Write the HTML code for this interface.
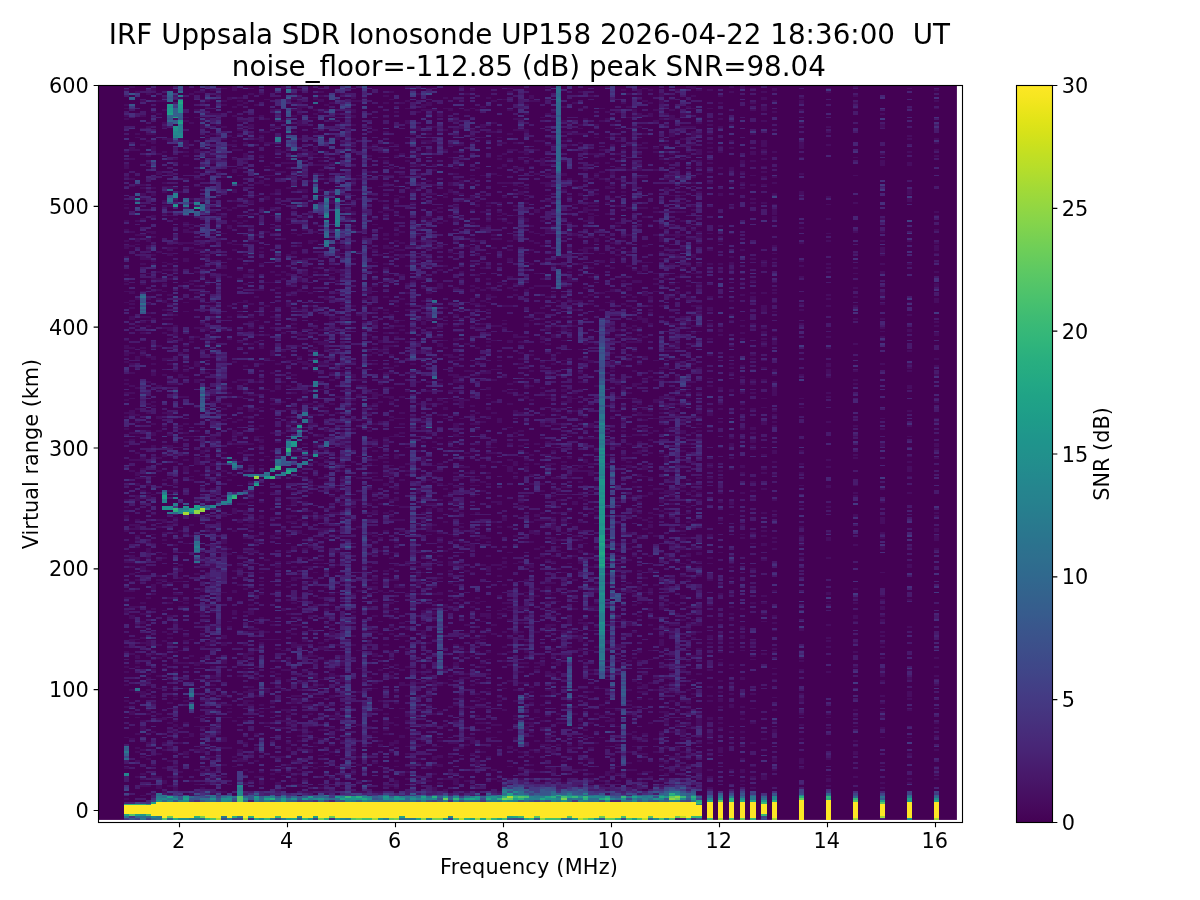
<!DOCTYPE html>
<html><head><meta charset="utf-8"><title>IRF Uppsala SDR Ionosonde</title>
<style>
html,body{margin:0;padding:0;background:#fff;}
body{width:1200px;height:900px;overflow:hidden;position:relative;font-family:"DejaVu Sans","Liberation Sans",sans-serif;}
svg{position:absolute;left:0;top:0;}
text{font-family:"DejaVu Sans","Liberation Sans",sans-serif;fill:#000;}
.t{font-size:27.78px;text-anchor:middle;}
.k{font-size:20.83px;}
</style></head><body>
<svg width="1200" height="900" viewBox="0 0 1200 900">
<rect width="1200" height="900" fill="#fff"/>
<rect x="98.5" y="85.5" width="858.4" height="734.4" fill="#440154"/>
<defs><clipPath id="dc"><rect x="-1" y="0" width="156" height="405.186"/></clipPath></defs>
<g transform="translate(126.70,819.90) scale(5.4000,-1.8125)" fill="none" stroke-width="1" shape-rendering="crispEdges" clip-path="url(#dc)">
<path stroke="#470d60" d="M0 11v1M0 28v1M0 45v1M0 62v1M0 65v1M0 74v1M0 81v1M0 84v1M0 92v1M0 95v1M0 114v2M0 120v1M0 122v1M0 126v1M0 142v1M0 159v1M0 166v2M0 172v1M0 176v1M0 184v1M0 208v1M0 215v1M0 222v1M0 224v1M0 231v1M0 235v1M0 240v1M0 242v1M0 252v1M0 256v2M0 260v2M0 264v1M0 285v1M0 291v1M0 295v1M0 297v1M0 300v1M0 310v1M0 315v2M0 319v1M0 325v1M0 330v1M0 337v1M0 339v1M0 354v1M0 359v3M0 368v1M0 386v1M0 388v1M0 392v1M0 394v1M0 402v1M1 44v1M1 58v2M1 71v1M1 91v1M1 98v2M1 111v2M1 117v1M1 122v1M1 126v1M1 131v1M1 135v1M1 139v1M1 142v1M1 144v2M1 160v1M1 162v1M1 192v1M1 198v1M1 209v1M1 213v1M1 223v3M1 232v1M1 235v1M1 239v1M1 246v1M1 251v1M1 257v1M1 260v1M1 276v2M1 282v1M1 284v1M1 286v1M1 290v2M1 316v1M1 324v1M1 349v1M1 353v1M1 364v1M1 369v2M1 404v2M2 23v1M2 32v1M2 37v1M2 39v1M2 47v1M2 56v1M2 70v1M2 84v1M2 86v1M2 89v2M2 99v1M2 107v1M2 117v1M2 132v1M2 141v1M2 143v2M2 150v1M2 154v1M2 156v1M2 160v3M2 165v1M2 176v3M2 184v2M2 188v1M2 190v2M2 198v1M2 202v1M2 211v1M2 213v1M2 219v1M2 221v1M2 223v1M2 226v1M2 238v1M2 254v2M2 272v1M2 287v1M2 317v1M2 319v2M2 322v1M2 330v1M2 350v1M2 369v1M2 376v1M2 378v1M2 401v1M3 13v1M3 18v1M3 22v1M3 25v1M3 34v1M3 38v1M3 49v3M3 54v1M3 67v1M3 69v2M3 97v1M3 100v1M3 108v2M3 113v1M3 119v1M3 131v1M3 138v2M3 141v1M3 152v1M3 163v1M3 181v1M3 188v1M3 193v1M3 198v2M3 256v1M3 258v1M3 260v1M3 268v1M3 274v1M3 277v1M3 291v1M3 295v1M3 306v1M3 309v2M3 312v1M3 322v1M3 331v1M3 342v1M3 344v2M3 348v1M3 350v1M3 372v1M3 381v1M3 388v1M3 396v1M4 18v1M4 33v1M4 42v1M4 58v1M4 60v1M4 67v1M4 71v1M4 74v1M4 76v1M4 78v1M4 80v1M4 90v1M4 93v1M4 96v3M4 113v1M4 115v1M4 122v1M4 137v1M4 144v1M4 147v3M4 153v1M4 177v2M4 180v1M4 184v2M4 214v1M4 224v1M4 229v1M4 237v1M4 241v1M4 255v1M4 272v1M4 275v1M4 277v1M4 279v1M4 284v1M4 287v1M4 301v1M4 309v1M4 314v1M4 316v1M4 319v2M4 324v1M4 347v1M4 360v1M4 362v1M4 366v1M4 374v1M4 378v1M4 382v1M4 400v1M5 14v1M5 23v2M5 30v1M5 35v1M5 48v1M5 64v1M5 68v1M5 82v1M5 88v1M5 91v1M5 93v1M5 103v1M5 116v1M5 124v1M5 127v3M5 152v1M5 157v1M5 168v1M5 179v1M5 189v1M5 200v1M5 205v2M5 212v2M5 218v1M5 228v1M5 230v1M5 245v2M5 248v1M5 251v1M5 254v2M5 260v1M5 276v1M5 291v1M5 296v1M5 298v1M5 306v1M5 308v1M5 311v1M5 317v1M5 321v1M5 323v2M5 332v2M5 344v2M5 348v1M5 369v3M5 373v2M5 378v1M5 390v1M5 402v2M6 17v2M6 23v1M6 36v1M6 55v1M6 58v1M6 72v1M6 79v1M6 89v1M6 96v1M6 130v1M6 132v1M6 134v1M6 143v1M6 161v1M6 165v1M6 192v1M6 199v1M6 214v1M6 221v2M6 239v1M6 261v1M6 287v1M6 292v1M6 298v1M6 302v1M6 313v1M6 356v2M6 367v1M6 389v1M6 396v1M7 15v1M7 20v2M7 28v1M7 38v1M7 42v1M7 55v2M7 72v1M7 83v1M7 90v1M7 98v1M7 103v1M7 115v1M7 128v1M7 132v1M7 144v1M7 146v1M7 152v1M7 154v1M7 158v1M7 164v2M7 184v1M7 187v1M7 200v2M7 206v1M7 217v1M7 224v1M7 245v1M7 253v2M7 268v1M7 271v1M7 276v1M7 281v1M7 285v2M7 291v1M7 295v1M7 303v1M7 307v1M7 334v1M7 338v1M7 341v1M7 346v1M7 349v1M7 351v1M7 368v1M7 375v1M7 382v1M7 384v1M7 391v1M7 396v1M7 398v1M8 14v1M8 18v1M8 23v1M8 32v1M8 39v2M8 49v1M8 53v1M8 64v1M8 72v1M8 77v1M8 94v1M8 96v1M8 100v1M8 102v1M8 112v1M8 119v1M8 122v1M8 130v1M8 162v1M8 168v1M8 181v1M8 188v1M8 202v1M8 205v2M8 212v1M8 221v1M8 223v2M8 240v1M8 242v1M8 251v1M8 254v1M8 264v2M8 270v2M8 276v1M8 279v1M8 284v1M8 289v1M8 298v1M8 303v1M8 306v1M8 311v2M8 314v2M8 317v1M8 333v1M8 338v1M8 348v2M8 356v1M8 374v2M9 16v2M9 22v1M9 28v1M9 30v1M9 37v1M9 44v1M9 48v1M9 51v2M9 54v1M9 66v1M9 68v1M9 76v1M9 81v1M9 83v1M9 86v1M9 92v1M9 104v1M9 108v2M9 124v1M9 131v1M9 139v1M9 151v1M9 158v1M9 163v2M9 166v1M9 181v1M9 185v1M9 197v1M9 201v1M9 221v1M9 240v1M9 243v1M9 247v1M9 267v2M9 272v1M9 278v1M9 283v1M9 302v1M9 304v1M9 307v1M9 315v1M9 319v1M9 331v1M9 341v1M9 348v1M9 364v1M9 386v1M9 405v1M10 23v1M10 26v1M10 42v1M10 50v1M10 86v1M10 93v1M10 105v1M10 117v1M10 120v1M10 124v1M10 131v1M10 133v1M10 137v2M10 140v1M10 155v1M10 159v1M10 205v1M10 215v1M10 217v1M10 233v1M10 244v2M10 257v1M10 264v2M10 317v2M10 346v1M10 375v1M10 398v1M11 36v2M11 45v1M11 53v1M11 65v1M11 67v1M11 72v1M11 86v1M11 95v1M11 98v1M11 101v1M11 117v1M11 119v1M11 121v1M11 147v1M11 152v1M11 158v1M11 192v3M11 198v1M11 201v1M11 211v1M11 213v1M11 218v1M11 233v1M11 244v1M11 247v1M11 250v1M11 253v1M11 261v1M11 280v1M11 285v1M11 296v1M11 308v2M11 318v1M11 324v2M11 327v1M11 329v1M11 348v1M11 353v1M11 361v1M11 366v1M11 368v1M11 371v4M11 385v1M11 387v1M12 13v2M12 21v1M12 46v2M12 90v1M12 99v1M12 156v1M12 162v1M12 187v1M12 189v1M12 211v1M12 263v1M12 265v1M12 287v1M12 295v1M12 297v1M12 315v1M12 318v1M12 324v1M12 326v1M12 328v1M12 333v1M12 342v1M12 384v1M12 400v1M13 19v1M13 27v1M13 38v1M13 51v1M13 56v1M13 85v2M13 114v1M13 125v1M13 135v1M13 141v1M13 157v1M13 167v1M13 176v1M13 192v1M13 196v4M13 214v1M13 227v1M13 241v2M13 250v3M13 266v1M13 271v1M13 287v1M13 290v1M13 294v1M13 302v1M13 312v1M13 314v1M13 318v1M13 349v1M13 353v1M13 357v1M13 368v2M13 387v1M13 391v1M13 401v1M14 17v1M14 26v1M14 28v1M14 37v3M14 46v1M14 50v2M14 57v1M14 65v1M14 86v1M14 89v1M14 95v1M14 101v1M14 104v1M14 113v2M14 126v2M14 131v1M14 139v1M14 142v1M14 144v3M14 164v1M14 176v1M14 178v1M14 183v1M14 190v1M14 202v2M14 205v1M14 259v1M14 271v1M14 273v1M14 285v1M14 290v1M14 300v1M14 305v1M14 311v1M14 314v1M14 316v2M14 327v1M14 343v1M14 349v1M14 353v1M14 363v1M14 381v3M14 385v1M14 395v1M14 397v1M14 401v1M15 19v2M15 23v1M15 26v1M15 28v2M15 34v1M15 47v1M15 62v1M15 76v1M15 96v2M15 107v1M15 116v1M15 136v1M15 139v1M15 160v1M15 167v1M15 175v1M15 189v1M15 191v1M15 198v2M15 204v2M15 226v1M15 231v1M15 233v1M15 246v1M15 264v1M15 270v2M15 290v1M15 295v1M15 297v1M15 301v1M15 303v1M15 310v1M15 313v1M15 318v1M15 349v1M15 366v2M15 375v1M15 377v1M15 386v2M15 389v1M15 393v1M15 396v1M16 14v1M16 22v1M16 26v1M16 34v1M16 39v1M16 43v1M16 45v1M16 51v1M16 56v1M16 58v1M16 65v1M16 72v1M16 74v1M16 78v2M16 83v2M16 88v1M16 97v1M16 99v2M16 105v2M16 114v1M16 131v1M16 139v2M16 158v2M16 165v1M16 179v1M16 182v1M16 186v1M16 191v2M16 195v2M16 198v1M16 205v1M16 209v3M16 220v1M16 230v1M16 234v1M16 255v1M16 263v1M16 268v1M16 276v1M16 283v1M16 285v1M16 299v1M16 308v1M16 324v1M16 335v1M16 341v1M16 362v2M16 366v1M16 368v1M16 378v1M16 389v1M16 397v1M16 402v1M17 20v1M17 23v1M17 36v2M17 47v1M17 49v1M17 53v1M17 60v1M17 64v1M17 77v2M17 99v1M17 138v1M17 143v1M17 148v2M17 151v1M17 164v1M17 188v2M17 202v1M17 209v1M17 211v1M17 224v1M17 252v1M17 259v1M17 276v1M17 278v1M17 282v1M17 301v1M17 319v1M17 334v1M17 343v1M17 345v1M17 352v1M17 357v1M17 377v1M17 383v1M17 389v1M17 400v1M18 15v1M18 23v1M18 30v1M18 39v1M18 43v3M18 56v1M18 63v1M18 68v1M18 86v2M18 96v2M18 100v2M18 125v1M18 148v1M18 150v1M18 152v3M18 167v2M18 189v1M18 192v1M18 202v1M18 220v1M18 226v1M18 229v1M18 232v1M18 236v1M18 242v1M18 252v1M18 270v1M18 300v1M18 304v2M18 323v1M18 332v2M18 337v1M18 354v1M18 364v1M18 375v1M18 382v1M18 394v1M18 396v1M18 403v1M19 19v1M19 39v1M19 56v1M19 59v1M19 61v1M19 63v1M19 67v1M19 106v1M19 109v1M19 146v1M19 149v1M19 187v1M19 208v1M19 229v1M19 235v1M19 238v1M19 265v1M19 271v1M19 277v1M19 283v1M19 299v1M19 309v1M19 318v1M19 326v2M19 336v1M19 372v1M19 377v1M19 397v2M19 405v1M20 13v1M20 29v1M20 34v1M20 54v1M20 113v3M20 125v2M20 137v1M20 159v1M20 169v3M20 190v1M20 198v1M20 207v1M20 210v1M20 212v3M20 219v1M20 241v1M20 252v1M20 314v1M20 317v1M20 330v1M20 337v1M20 341v1M20 346v2M20 357v2M20 364v1M20 369v1M20 372v1M20 374v1M20 376v1M20 388v1M20 393v1M20 402v4M21 32v2M21 37v2M21 56v1M21 79v1M21 104v1M21 129v1M21 134v1M21 138v1M21 140v1M21 145v1M21 164v2M21 174v1M21 197v1M21 202v1M21 205v1M21 207v1M21 212v1M21 220v1M21 226v2M21 233v1M21 242v1M21 263v1M21 270v1M21 278v1M21 285v1M21 298v1M21 303v1M21 309v1M21 317v1M21 329v1M21 332v1M21 339v1M21 350v1M21 355v1M21 359v1M21 369v1M21 378v1M21 380v1M21 382v1M21 385v1M21 394v1M21 396v1M21 398v1M21 405v1M22 20v1M22 27v1M22 32v1M22 42v1M22 54v1M22 63v3M22 68v1M22 70v1M22 80v1M22 83v1M22 89v3M22 96v1M22 114v1M22 127v1M22 139v1M22 148v1M22 152v1M22 155v1M22 162v1M22 166v1M22 169v2M22 174v1M22 200v1M22 203v1M22 207v1M22 211v1M22 222v1M22 236v1M22 240v1M22 242v1M22 250v1M22 264v1M22 285v2M22 295v1M22 299v2M22 306v1M22 311v1M22 322v1M22 330v1M22 342v1M22 360v1M22 363v1M22 365v3M22 373v1M22 385v1M22 395v1M23 21v1M23 26v1M23 36v1M23 63v1M23 65v1M23 70v2M23 73v1M23 91v2M23 103v1M23 105v1M23 113v3M23 118v1M23 147v2M23 152v1M23 161v2M23 164v1M23 175v1M23 177v1M23 180v1M23 186v1M23 194v1M23 198v1M23 207v1M23 221v1M23 225v2M23 232v1M23 234v1M23 237v1M23 253v1M23 259v1M23 262v1M23 269v1M23 271v1M23 274v1M23 277v1M23 284v1M23 300v1M23 302v1M23 311v1M23 319v1M23 323v2M23 326v1M23 334v1M23 340v2M23 376v1M23 378v1M23 382v2M23 400v1M23 403v1M24 23v1M24 32v1M24 38v2M24 47v1M24 60v1M24 68v1M24 71v1M24 77v2M24 81v1M24 84v1M24 94v1M24 103v1M24 105v1M24 108v1M24 148v1M24 153v1M24 156v1M24 165v1M24 205v1M24 210v2M24 215v1M24 226v1M24 234v1M24 241v1M24 253v1M24 263v1M24 267v1M24 275v1M24 288v1M24 292v1M24 319v1M24 322v1M24 344v1M24 351v1M24 354v1M24 375v1M24 387v1M24 394v1M25 19v3M25 23v1M25 26v1M25 45v1M25 59v1M25 63v1M25 97v1M25 99v1M25 104v1M25 111v1M25 124v1M25 127v1M25 131v1M25 136v1M25 153v1M25 161v1M25 164v1M25 166v2M25 175v1M25 180v1M25 192v1M25 195v1M25 206v1M25 208v2M25 211v1M25 217v1M25 221v1M25 227v1M25 231v1M25 242v1M25 251v1M25 260v2M25 272v1M25 279v1M25 292v1M25 306v1M25 313v1M25 315v1M25 337v1M25 351v2M25 366v1M25 374v2M25 377v1M25 379v1M25 388v1M25 400v1M26 53v1M26 61v1M26 70v2M26 99v1M26 103v1M26 143v1M26 200v1M26 237v1M26 254v1M26 267v1M26 283v1M26 296v1M26 324v1M26 342v2M26 350v1M26 355v1M26 360v1M26 373v1M26 379v1M26 386v1M26 397v1M27 22v1M27 25v1M27 43v1M27 59v1M27 64v1M27 72v1M27 81v1M27 99v1M27 107v1M27 109v1M27 155v2M27 163v1M27 166v1M27 171v1M27 180v1M27 198v1M27 203v1M27 213v1M27 226v1M27 229v1M27 231v1M27 236v1M27 246v1M27 253v1M27 256v3M27 271v1M27 277v1M27 280v1M27 296v1M27 302v1M27 323v1M27 326v1M27 333v1M27 337v1M27 345v1M27 355v1M27 358v1M27 362v1M27 373v1M27 382v1M27 391v1M28 16v1M28 19v2M28 26v1M28 34v1M28 50v1M28 72v1M28 74v1M28 77v2M28 80v1M28 83v1M28 87v1M28 94v1M28 99v1M28 126v1M28 139v2M28 142v1M28 157v2M28 163v1M28 175v1M28 192v1M28 201v1M28 208v1M28 229v1M28 232v1M28 237v3M28 251v1M28 276v1M28 293v1M28 300v1M28 310v1M28 317v1M28 326v1M28 336v1M28 341v1M28 346v2M28 357v1M28 368v2M28 382v1M29 24v1M29 28v1M29 34v1M29 50v1M29 54v1M29 60v1M29 71v1M29 82v1M29 93v1M29 115v2M29 160v1M29 192v1M29 205v1M29 213v1M29 230v1M29 241v1M29 255v1M29 258v1M29 268v1M29 298v1M29 302v1M29 320v1M29 357v1M29 362v1M29 368v1M29 385v1M29 403v2M30 26v1M30 30v1M30 38v2M30 42v1M30 52v1M30 54v1M30 56v2M30 59v2M30 76v2M30 82v1M30 87v2M30 103v1M30 113v1M30 121v1M30 128v1M30 131v1M30 136v1M30 142v1M30 148v1M30 156v1M30 164v1M30 166v2M30 173v1M30 182v1M30 215v2M30 218v2M30 222v1M30 226v1M30 239v1M30 253v1M30 260v1M30 283v3M30 290v1M30 294v1M30 300v2M30 311v1M30 328v1M30 331v1M30 348v1M30 354v2M30 359v1M30 362v1M30 364v1M30 370v1M30 375v1M30 378v1M31 19v1M31 21v2M31 24v1M31 32v1M31 50v1M31 53v1M31 62v1M31 64v2M31 68v1M31 95v3M31 102v1M31 107v1M31 116v1M31 119v1M31 132v2M31 139v1M31 149v2M31 164v1M31 167v1M31 174v3M31 189v1M31 198v1M31 204v2M31 218v1M31 220v1M31 226v1M31 235v1M31 238v1M31 243v1M31 245v1M31 253v1M31 271v1M31 273v1M31 281v1M31 285v1M31 289v1M31 291v1M31 295v1M31 303v1M31 312v2M31 323v1M31 355v1M31 362v1M31 379v1M31 388v1M31 391v1M31 395v1M31 397v2M31 400v1M32 18v2M32 25v1M32 27v1M32 39v1M32 43v1M32 46v1M32 49v1M32 65v2M32 68v1M32 71v1M32 75v1M32 79v1M32 96v1M32 107v1M32 111v1M32 117v1M32 122v1M32 133v1M32 135v1M32 141v1M32 158v2M32 165v1M32 183v1M32 192v1M32 199v1M32 225v1M32 232v1M32 252v1M32 255v1M32 261v1M32 267v2M32 281v1M32 291v2M32 297v2M32 316v1M32 322v1M32 347v1M32 353v1M32 356v1M32 365v1M32 369v1M32 375v1M32 383v3M32 389v1M32 391v3M32 395v2M32 398v1M32 402v1M32 405v1M33 15v1M33 22v1M33 30v1M33 40v1M33 47v1M33 50v1M33 63v1M33 67v1M33 76v1M33 81v1M33 90v1M33 96v1M33 98v2M33 109v1M33 121v1M33 129v1M33 139v1M33 144v1M33 149v1M33 151v1M33 157v1M33 164v1M33 175v1M33 182v1M33 189v1M33 207v1M33 222v1M33 229v1M33 231v2M33 235v2M33 248v1M33 251v2M33 267v1M33 279v1M33 282v1M33 291v1M33 296v1M33 300v3M33 309v1M33 312v1M33 325v1M33 331v2M33 342v1M33 346v2M33 349v1M33 368v1M33 383v1M33 393v1M34 15v1M34 37v2M34 48v1M34 51v1M34 58v1M34 63v1M34 65v1M34 69v1M34 72v2M34 79v1M34 83v1M34 90v2M34 105v1M34 112v1M34 126v1M34 131v1M34 139v1M34 150v1M34 153v1M34 167v1M34 170v1M34 180v1M34 183v1M34 185v1M34 187v1M34 201v1M34 218v1M34 221v1M34 223v1M34 229v1M34 250v2M34 254v1M34 259v1M34 267v1M34 280v1M34 283v1M34 285v1M34 290v1M34 299v1M34 318v2M34 334v1M34 352v1M34 366v3M34 387v1M34 405v1M35 28v1M35 31v1M35 40v1M35 42v1M35 45v1M35 51v1M35 54v1M35 62v1M35 67v1M35 73v1M35 75v1M35 78v2M35 86v1M35 90v1M35 103v1M35 118v1M35 132v1M35 136v1M35 143v1M35 154v1M35 165v1M35 168v1M35 184v1M35 197v1M35 205v3M35 211v1M35 218v1M35 223v1M35 228v1M35 247v1M35 260v1M35 263v1M35 271v1M35 275v1M35 282v1M35 302v1M35 304v1M35 319v1M35 324v1M35 328v1M35 361v1M35 367v1M35 369v2M35 379v1M35 387v1M35 389v1M35 391v1M35 397v2M36 17v1M36 29v1M36 35v1M36 44v1M36 49v1M36 57v1M36 67v1M36 74v1M36 77v1M36 88v1M36 94v2M36 97v1M36 122v1M36 139v1M36 141v1M36 143v1M36 149v1M36 152v1M36 159v2M36 166v2M36 184v1M36 188v1M36 195v2M36 199v1M36 201v1M36 204v1M36 207v1M36 211v2M36 216v1M36 227v1M36 229v1M36 237v1M36 251v2M36 255v1M36 262v2M36 270v1M36 298v1M36 310v2M36 347v1M36 356v1M36 358v1M36 361v1M36 363v1M36 365v1M36 390v1M36 396v2M36 399v1M36 401v1M37 14v1M37 16v1M37 19v1M37 36v1M37 56v1M37 63v1M37 85v1M37 87v1M37 94v1M37 98v1M37 111v1M37 115v2M37 119v1M37 125v1M37 128v1M37 136v1M37 155v1M37 160v1M37 162v1M37 167v1M37 184v1M37 186v1M37 188v1M37 190v1M37 198v1M37 204v1M37 209v1M37 214v2M37 224v1M37 227v1M37 251v1M37 259v2M37 262v2M37 265v1M37 287v2M37 298v1M37 302v1M37 315v1M37 331v1M37 353v1M37 361v1M37 366v1M37 371v1M37 374v1M37 391v1M37 394v1M37 405v1M38 22v1M38 37v1M38 41v1M38 46v1M38 50v1M38 57v1M38 67v2M38 79v2M38 82v2M38 88v1M38 99v2M38 102v2M38 107v1M38 115v1M38 118v1M38 124v1M38 139v1M38 157v1M38 165v1M38 169v1M38 171v1M38 173v1M38 178v1M38 182v1M38 211v1M38 219v1M38 229v1M38 242v1M38 246v1M38 248v1M38 251v1M38 258v1M38 268v1M38 270v1M38 274v1M38 276v2M38 287v1M38 299v1M38 301v1M38 303v2M38 307v1M38 316v1M38 322v1M38 340v2M38 344v2M38 347v1M38 354v1M38 358v1M38 362v1M38 365v1M38 376v1M38 385v1M38 395v1M39 21v1M39 28v1M39 35v1M39 49v1M39 55v3M39 59v1M39 74v1M39 76v1M39 79v1M39 84v1M39 88v1M39 93v1M39 96v1M39 125v1M39 128v1M39 136v1M39 140v1M39 147v2M39 156v1M39 159v1M39 169v1M39 181v2M39 193v1M39 196v1M39 199v1M39 208v1M39 224v1M39 227v1M39 233v1M39 271v1M39 277v1M39 290v1M39 297v1M39 302v2M39 311v3M39 318v1M39 375v2M39 381v1M39 389v1M39 397v1M40 17v1M40 23v2M40 39v1M40 43v1M40 50v2M40 55v1M40 63v1M40 71v1M40 74v1M40 76v3M40 83v1M40 85v2M40 89v2M40 96v1M40 104v1M40 121v1M40 136v1M40 144v1M40 149v1M40 165v1M40 170v1M40 174v2M40 179v1M40 183v1M40 186v1M40 188v2M40 192v1M40 196v1M40 206v1M40 209v1M40 231v1M40 233v1M40 246v1M40 248v1M40 250v1M40 258v1M40 262v1M40 266v1M40 275v1M40 284v1M40 299v1M40 301v2M40 310v1M40 315v2M40 336v2M40 344v1M40 348v1M40 371v1M40 373v1M40 384v1M40 400v1M41 33v1M41 45v1M41 63v1M41 107v1M41 115v1M41 141v1M41 166v1M41 172v1M41 178v1M41 207v1M41 209v1M41 226v2M41 238v1M41 270v1M41 277v1M41 279v1M41 314v1M41 332v1M41 335v2M41 340v1M41 382v1M41 392v1M42 15v1M42 25v1M42 27v1M42 36v2M42 39v1M42 61v1M42 88v1M42 96v1M42 101v1M42 109v2M42 112v1M42 114v1M42 116v1M42 120v1M42 124v1M42 157v1M42 165v1M42 172v1M42 176v1M42 189v1M42 197v1M42 215v1M42 220v1M42 229v1M42 231v1M42 244v2M42 252v1M42 283v1M42 309v1M42 325v1M42 327v1M42 331v1M42 335v1M42 338v1M42 347v1M42 350v1M42 352v1M42 360v1M42 372v1M42 375v1M42 383v1M42 387v2M42 390v2M42 396v1M42 398v1M42 405v1M43 15v1M43 21v1M43 30v1M43 34v1M43 52v1M43 70v1M43 83v1M43 93v1M43 126v1M43 161v1M43 176v1M43 188v1M43 200v1M43 234v1M43 239v1M43 242v1M43 249v1M43 278v1M43 313v1M43 342v1M43 347v1M43 353v1M43 355v1M43 396v1M44 15v1M44 19v1M44 29v1M44 76v1M44 78v1M44 103v1M44 123v1M44 137v1M44 140v1M44 173v1M44 206v1M44 220v1M44 232v1M44 239v1M44 242v1M44 270v1M44 274v1M44 287v1M44 291v1M44 301v1M44 321v1M44 344v1M44 398v1M45 35v1M45 40v1M45 44v1M45 51v1M45 59v1M45 71v1M45 78v1M45 94v1M45 97v1M45 103v1M45 117v1M45 128v1M45 135v1M45 139v1M45 147v1M45 154v1M45 157v2M45 169v1M45 174v1M45 182v1M45 196v1M45 199v1M45 210v1M45 214v1M45 224v1M45 227v2M45 235v1M45 237v1M45 253v1M45 256v1M45 258v1M45 267v1M45 287v2M45 290v4M45 315v1M45 317v1M45 333v1M45 357v1M45 360v1M45 366v1M45 370v2M45 382v1M46 15v1M46 31v1M46 35v1M46 48v1M46 60v1M46 72v1M46 75v1M46 90v2M46 103v1M46 105v1M46 112v1M46 121v1M46 127v2M46 130v1M46 132v2M46 146v1M46 152v1M46 156v1M46 169v2M46 176v1M46 180v1M46 187v1M46 189v1M46 191v1M46 195v1M46 198v1M46 203v1M46 206v1M46 209v1M46 218v1M46 226v1M46 229v1M46 233v3M46 251v1M46 257v1M46 260v1M46 265v1M46 273v2M46 281v2M46 294v1M46 302v1M46 307v1M46 314v1M46 328v1M46 331v1M46 344v1M46 370v1M46 372v1M46 380v1M47 15v1M47 41v1M47 43v1M47 60v1M47 65v1M47 82v1M47 102v1M47 109v1M47 126v1M47 148v1M47 155v1M47 174v1M47 187v1M47 199v1M47 219v1M47 230v1M47 234v1M47 240v1M47 242v1M47 248v1M47 258v2M47 263v2M47 311v1M47 326v1M47 335v1M47 341v1M47 349v1M47 365v1M47 368v1M48 18v1M48 27v1M48 47v1M48 49v1M48 52v3M48 58v1M48 64v1M48 85v1M48 96v1M48 113v1M48 116v1M48 119v1M48 125v1M48 133v1M48 137v1M48 147v1M48 149v1M48 159v1M48 169v1M48 173v1M48 177v1M48 184v2M48 190v2M48 193v1M48 197v1M48 199v1M48 207v2M48 210v1M48 233v1M48 242v1M48 246v1M48 258v1M48 260v2M48 268v1M48 279v1M48 281v1M48 288v1M48 295v1M48 300v2M48 304v1M48 306v1M48 315v2M48 320v1M48 322v2M48 332v1M48 334v1M48 336v1M48 338v2M48 345v1M48 349v1M48 351v1M48 355v1M48 363v1M48 370v1M48 379v1M48 387v1M48 395v1M48 399v1M49 18v1M49 37v1M49 41v2M49 53v1M49 78v2M49 81v1M49 89v1M49 92v1M49 102v1M49 106v1M49 111v1M49 115v1M49 119v1M49 132v1M49 138v1M49 144v1M49 147v1M49 165v1M49 167v1M49 170v1M49 176v1M49 187v1M49 190v1M49 192v1M49 195v1M49 211v1M49 220v1M49 222v1M49 230v1M49 232v2M49 238v1M49 246v1M49 249v1M49 256v1M49 261v1M49 271v1M49 278v1M49 310v1M49 313v1M49 315v1M49 336v1M49 355v1M49 359v1M49 373v1M49 397v1M49 401v1M50 17v1M50 20v2M50 29v1M50 32v1M50 42v2M50 52v1M50 56v1M50 64v1M50 70v1M50 85v1M50 114v1M50 128v2M50 132v1M50 140v1M50 147v1M50 151v1M50 153v1M50 157v1M50 165v1M50 173v1M50 176v2M50 182v2M50 199v3M50 211v2M50 221v1M50 250v1M50 252v1M50 263v1M50 266v1M50 268v1M50 272v1M50 274v1M50 283v1M50 285v1M50 314v1M50 319v1M50 322v2M50 326v1M50 334v1M50 340v1M50 342v1M50 344v1M50 366v1M50 369v1M50 372v1M50 390v1M51 24v2M51 45v2M51 61v1M51 74v2M51 82v1M51 101v1M51 108v1M51 128v1M51 159v1M51 165v1M51 172v1M51 187v1M51 194v1M51 213v1M51 218v1M51 221v1M51 224v1M51 233v1M51 270v1M51 272v1M51 275v1M51 287v1M51 300v1M51 310v2M51 314v1M51 318v1M51 324v1M51 332v1M51 343v1M51 354v1M51 356v1M51 367v1M51 395v1M52 22v1M52 26v1M52 29v1M52 36v1M52 40v1M52 50v1M52 54v1M52 57v2M52 68v1M52 74v1M52 84v1M52 94v1M52 98v1M52 101v1M52 105v2M52 124v1M52 140v1M52 142v1M52 172v1M52 190v1M52 192v1M52 196v1M52 205v1M52 236v1M52 256v1M52 263v1M52 268v1M52 281v1M52 284v1M52 290v1M52 295v1M52 305v1M52 316v1M52 363v1M52 384v2M52 392v1M52 396v1M52 404v1M53 18v1M53 20v1M53 23v1M53 29v1M53 32v2M53 44v1M53 46v1M53 76v1M53 87v1M53 91v1M53 94v1M53 127v2M53 158v1M53 163v1M53 179v1M53 205v1M53 222v1M53 246v1M53 251v1M53 271v1M53 297v1M53 316v1M53 338v1M53 340v1M53 346v2M53 361v1M53 367v1M53 369v1M53 376v1M53 380v1M53 402v1M53 404v1M54 24v1M54 31v1M54 33v1M54 41v1M54 45v1M54 62v1M54 68v1M54 75v1M54 81v1M54 104v1M54 124v1M54 129v3M54 134v2M54 137v1M54 139v1M54 142v1M54 148v1M54 162v1M54 177v1M54 180v2M54 203v1M54 216v1M54 219v1M54 229v1M54 232v1M54 241v1M54 257v2M54 263v1M54 280v1M54 298v1M54 304v1M54 308v1M54 319v1M54 322v1M54 326v1M54 348v1M54 351v1M54 355v2M54 360v2M54 366v2M54 380v3M54 390v1M54 400v1M55 30v1M55 41v1M55 43v1M55 50v2M55 58v1M55 60v1M55 67v1M55 75v1M55 80v1M55 83v1M55 96v1M55 102v3M55 108v1M55 114v2M55 119v1M55 125v1M55 136v1M55 139v1M55 145v1M55 147v1M55 161v1M55 165v1M55 169v1M55 173v2M55 178v1M55 186v1M55 190v1M55 198v3M55 205v1M55 208v1M55 215v2M55 220v1M55 252v1M55 269v1M55 273v2M55 276v2M55 283v1M55 286v1M55 293v1M55 298v2M55 309v2M55 312v1M55 317v2M55 326v1M55 329v1M55 331v2M55 355v1M55 374v1M55 391v1M55 393v2M56 21v1M56 28v2M56 61v1M56 63v1M56 68v1M56 71v2M56 76v1M56 79v1M56 82v1M56 88v1M56 90v1M56 97v1M56 101v1M56 116v1M56 125v1M56 128v1M56 139v1M56 142v1M56 157v1M56 159v3M56 166v1M56 170v2M56 174v1M56 187v1M56 211v1M56 213v1M56 215v1M56 222v1M56 229v1M56 236v1M56 241v1M56 252v1M56 258v1M56 271v1M56 276v1M56 280v1M56 290v2M56 305v1M56 309v1M56 315v1M56 320v1M56 330v1M56 332v1M56 345v1M56 352v1M56 368v2M56 373v2M56 378v1M56 387v1M56 391v1M56 394v2M56 403v1M57 16v2M57 25v1M57 30v1M57 33v2M57 40v1M57 58v1M57 73v1M57 75v2M57 99v1M57 110v1M57 113v2M57 120v1M57 124v1M57 128v1M57 132v1M57 159v1M57 162v1M57 172v1M57 174v1M57 186v1M57 189v1M57 192v1M57 195v1M57 205v1M57 208v1M57 255v1M57 266v1M57 276v1M57 292v1M57 297v1M57 301v1M57 308v1M57 317v1M57 336v1M57 342v1M57 345v1M57 350v1M57 358v1M57 361v1M57 375v1M57 382v1M57 391v1M58 20v1M58 29v2M58 34v2M58 40v1M58 43v1M58 59v1M58 74v1M58 117v1M58 121v1M58 124v2M58 133v1M58 142v1M58 145v1M58 153v1M58 155v1M58 158v1M58 170v2M58 176v1M58 185v1M58 192v1M58 196v1M58 210v1M58 223v1M58 229v1M58 231v1M58 240v1M58 242v1M58 261v2M58 266v1M58 271v1M58 293v3M58 303v1M58 308v1M58 315v1M58 317v1M58 329v1M58 335v1M58 337v1M58 379v1M58 388v2M59 16v1M59 22v1M59 51v2M59 75v1M59 82v1M59 84v1M59 106v1M59 117v2M59 148v1M59 164v1M59 178v1M59 182v1M59 184v1M59 221v1M59 226v2M59 230v1M59 256v1M59 260v1M59 264v1M59 273v1M59 277v1M59 282v1M59 305v1M59 330v1M59 343v1M59 345v1M59 360v1M59 369v1M59 380v1M59 392v1M59 398v1M60 22v1M60 26v1M60 34v1M60 42v1M60 62v1M60 77v1M60 79v1M60 83v1M60 116v1M60 121v1M60 130v1M60 134v1M60 137v1M60 140v3M60 149v1M60 157v1M60 175v1M60 180v1M60 185v1M60 208v1M60 232v1M60 236v1M60 245v1M60 248v1M60 253v1M60 255v2M60 285v1M60 313v1M60 332v1M60 346v2M60 350v2M60 365v1M60 372v1M60 391v2M61 19v4M61 39v1M61 42v1M61 54v1M61 63v1M61 80v1M61 85v2M61 88v1M61 94v1M61 96v1M61 117v1M61 122v1M61 125v1M61 129v1M61 140v1M61 154v1M61 156v1M61 171v1M61 174v2M61 183v1M61 188v1M61 191v1M61 205v1M61 211v2M61 216v3M61 231v1M61 236v1M61 241v2M61 244v2M61 250v1M61 253v1M61 255v1M61 261v1M61 264v2M61 269v1M61 272v1M61 278v1M61 293v1M61 319v1M61 330v2M61 338v1M61 345v1M61 353v1M61 356v1M61 359v1M61 361v1M61 364v1M61 368v1M61 372v1M61 377v1M61 380v2M61 385v1M61 387v1M61 397v1M62 14v1M62 39v1M62 61v1M62 67v2M62 74v1M62 78v1M62 90v2M62 95v1M62 101v1M62 111v1M62 121v1M62 131v1M62 138v1M62 140v1M62 153v1M62 159v1M62 161v1M62 163v1M62 169v1M62 173v1M62 183v1M62 188v1M62 194v1M62 198v1M62 208v1M62 211v1M62 221v1M62 228v4M62 241v1M62 244v1M62 253v1M62 269v1M62 274v1M62 281v1M62 298v1M62 302v1M62 307v1M62 326v1M62 332v1M62 341v1M62 345v1M62 351v2M62 365v1M62 372v1M62 381v2M62 397v1M62 404v2M63 15v1M63 21v1M63 41v1M63 44v1M63 62v1M63 78v1M63 80v1M63 92v1M63 102v1M63 107v1M63 120v1M63 137v1M63 151v1M63 191v1M63 194v1M63 200v1M63 202v1M63 231v1M63 247v1M63 262v1M63 316v1M63 342v1M63 391v1M63 400v1M64 29v1M64 36v1M64 42v4M64 62v1M64 74v1M64 90v1M64 100v1M64 117v1M64 120v1M64 136v1M64 149v3M64 158v1M64 160v1M64 168v1M64 178v1M64 181v1M64 184v1M64 186v1M64 188v1M64 192v1M64 218v1M64 223v1M64 228v1M64 234v1M64 247v1M64 263v1M64 272v1M64 281v1M64 284v1M64 286v2M64 291v2M64 294v1M64 306v1M64 314v2M64 320v1M64 325v1M64 329v1M64 336v1M64 342v2M64 351v1M64 353v1M64 355v1M64 373v1M64 377v1M64 380v1M64 392v1M64 402v1M65 15v1M65 18v1M65 28v1M65 30v3M65 35v1M65 38v1M65 53v1M65 57v1M65 62v1M65 65v1M65 67v1M65 69v1M65 75v1M65 92v1M65 98v1M65 100v1M65 119v1M65 122v1M65 154v1M65 165v1M65 169v1M65 184v1M65 189v1M65 207v1M65 215v1M65 218v1M65 221v1M65 224v1M65 245v1M65 252v1M65 260v1M65 271v1M65 284v1M65 293v1M65 300v1M65 311v1M65 319v1M65 338v2M65 341v1M65 344v1M65 359v1M65 391v1M66 37v1M66 49v1M66 53v1M66 62v1M66 66v1M66 84v1M66 86v1M66 99v1M66 101v1M66 104v1M66 109v1M66 112v2M66 120v1M66 140v1M66 155v2M66 162v1M66 181v1M66 186v1M66 194v1M66 219v1M66 246v1M66 271v1M66 273v1M66 283v1M66 286v1M66 292v1M66 304v1M66 307v1M66 326v1M66 335v1M66 344v1M66 355v1M66 376v1M66 382v2M66 393v1M67 34v1M67 40v1M67 45v1M67 48v1M67 70v1M67 72v1M67 76v1M67 80v1M67 88v1M67 92v1M67 103v1M67 111v3M67 137v3M67 145v1M67 153v1M67 155v1M67 163v1M67 185v1M67 191v1M67 200v1M67 202v1M67 206v1M67 222v1M67 226v2M67 232v1M67 234v1M67 237v2M67 243v1M67 246v2M67 261v1M67 263v1M67 268v1M67 281v1M67 285v1M67 288v2M67 293v1M67 296v1M67 298v1M67 305v1M67 327v1M67 330v1M67 332v2M67 335v1M67 338v1M67 340v1M67 365v1M67 379v1M67 398v1M67 405v1M68 22v1M68 27v1M68 45v1M68 52v1M68 102v1M68 107v1M68 140v1M68 164v1M68 175v1M68 197v1M68 202v1M68 205v1M68 208v1M68 224v1M68 230v1M68 242v1M68 248v1M68 264v1M68 272v1M68 288v1M68 292v1M68 315v1M68 320v1M68 322v1M68 356v1M68 379v1M68 384v1M68 396v1M69 15v1M69 21v1M69 24v1M69 40v1M69 48v1M69 52v1M69 65v1M69 67v1M69 91v1M69 111v1M69 113v1M69 115v1M69 123v1M69 134v1M69 138v1M69 140v1M69 161v1M69 174v2M69 219v3M69 248v1M69 253v1M69 272v1M69 296v1M69 320v1M69 331v1M69 333v1M69 335v1M69 338v1M69 340v1M69 351v1M69 355v1M69 359v1M69 364v1M69 366v1M69 373v1M69 376v1M69 380v1M70 21v1M70 60v1M70 67v1M70 72v1M70 87v1M70 95v1M70 103v1M70 113v1M70 116v1M70 119v1M70 129v1M70 139v1M70 141v2M70 144v1M70 165v2M70 195v1M70 236v1M70 244v1M70 271v1M70 273v1M70 275v1M70 283v1M70 295v1M70 330v1M70 334v1M70 343v1M70 351v1M70 360v2M70 367v1M70 373v1M70 397v1M71 19v1M71 22v1M71 29v1M71 39v2M71 49v1M71 76v1M71 85v1M71 92v1M71 100v1M71 110v1M71 115v1M71 117v1M71 119v1M71 125v1M71 147v1M71 161v1M71 192v3M71 198v1M71 207v1M71 216v1M71 229v1M71 235v1M71 240v1M71 263v2M71 283v1M71 293v1M71 299v1M71 308v2M71 314v1M71 319v1M71 329v1M71 351v1M71 364v1M71 369v1M71 378v1M71 391v1M71 401v1M71 403v1M72 38v1M72 44v2M72 55v1M72 57v1M72 65v1M72 71v1M72 77v1M72 102v1M72 128v1M72 141v1M72 156v1M72 188v1M72 191v1M72 195v3M72 211v1M72 213v1M72 224v2M72 237v1M72 241v1M72 266v2M72 289v1M72 292v1M72 295v1M72 320v2M72 333v1M72 338v1M72 350v1M72 359v1M72 369v1M72 373v1M72 380v1M72 386v1M73 22v1M73 24v1M73 27v1M73 37v1M73 55v1M73 75v1M73 81v1M73 86v1M73 100v1M73 103v1M73 108v1M73 116v2M73 142v1M73 172v2M73 175v1M73 177v1M73 200v1M73 206v1M73 214v1M73 224v1M73 232v1M73 234v1M73 251v1M73 254v1M73 257v1M73 263v1M73 266v1M73 294v1M73 333v1M73 345v2M73 349v1M73 359v1M73 364v1M73 368v1M73 380v1M73 386v1M74 36v1M74 40v1M74 49v3M74 53v1M74 55v1M74 66v1M74 68v1M74 75v1M74 84v1M74 86v1M74 90v1M74 92v2M74 98v1M74 112v1M74 114v1M74 117v1M74 123v1M74 125v1M74 131v2M74 140v1M74 178v1M74 184v1M74 193v2M74 196v1M74 198v1M74 202v1M74 207v1M74 219v1M74 232v2M74 238v1M74 240v1M74 243v1M74 250v1M74 253v1M74 266v1M74 272v2M74 291v2M74 297v1M74 312v1M74 328v1M74 330v2M74 340v1M74 342v1M74 348v1M74 362v1M74 367v2M74 370v1M74 379v2M74 389v1M74 394v1M75 26v2M75 30v1M75 34v1M75 38v1M75 46v1M75 48v1M75 52v2M75 64v1M75 66v1M75 70v1M75 73v1M75 139v2M75 153v1M75 158v2M75 164v1M75 185v1M75 190v1M75 201v1M75 231v1M75 239v1M75 247v1M75 256v1M75 275v1M75 293v1M75 306v1M75 314v1M75 319v1M75 324v1M75 327v1M75 344v1M75 360v1M75 364v1M75 396v1M75 398v2M76 20v1M76 26v1M76 37v1M76 43v1M76 56v1M76 59v2M76 82v1M76 84v1M76 86v1M76 103v1M76 123v1M76 127v1M76 144v1M76 149v1M76 157v2M76 165v1M76 167v2M76 196v1M76 207v1M76 279v1M76 294v1M76 301v1M76 318v1M76 323v1M76 335v2M76 356v1M76 369v1M76 374v1M76 396v1M77 20v1M77 39v1M77 41v1M77 50v1M77 54v1M77 63v1M77 68v1M77 85v2M77 89v1M77 95v1M77 131v1M77 145v1M77 150v1M77 162v1M77 165v1M77 169v1M77 179v1M77 181v1M77 185v1M77 210v1M77 217v2M77 223v1M77 227v1M77 235v1M77 238v1M77 249v1M77 252v1M77 263v1M77 265v2M77 273v1M77 276v1M77 279v1M77 282v1M77 294v1M77 298v1M77 307v1M77 316v1M77 322v1M77 330v1M77 351v1M77 361v4M77 374v1M77 387v1M78 21v1M78 28v1M78 38v1M78 41v1M78 44v1M78 46v1M78 48v1M78 57v1M78 65v1M78 71v1M78 80v2M78 103v1M78 105v3M78 114v1M78 119v2M78 124v2M78 127v2M78 130v1M78 143v1M78 165v1M78 194v1M78 196v1M78 199v1M78 201v1M78 208v1M78 219v1M78 232v1M78 234v1M78 245v1M78 257v1M78 262v1M78 270v2M78 288v1M78 294v1M78 308v1M78 324v2M78 341v1M78 344v1M78 349v3M78 355v2M78 361v1M78 372v1M78 376v1M78 389v1M78 397v1M78 404v1M79 20v1M79 26v3M79 37v2M79 69v3M79 79v2M79 86v1M79 90v1M79 93v2M79 98v1M79 107v1M79 112v1M79 115v2M79 125v1M79 130v1M79 142v1M79 145v1M79 153v3M79 160v3M79 164v1M79 166v1M79 178v1M79 182v1M79 188v1M79 196v1M79 200v1M79 203v1M79 205v1M79 209v1M79 218v1M79 225v1M79 233v1M79 247v1M79 251v1M79 255v1M79 266v2M79 272v1M79 275v1M79 289v1M79 305v1M79 312v2M79 324v1M79 327v1M79 333v1M79 341v1M79 351v1M79 357v2M79 364v1M79 372v1M79 375v1M79 385v1M79 390v1M80 21v1M80 35v1M80 41v1M80 53v1M80 58v1M80 78v1M80 81v1M80 85v3M80 104v1M80 116v1M80 120v1M80 138v1M80 148v1M80 150v1M80 154v1M80 169v1M80 176v1M80 181v1M80 188v1M80 218v1M80 223v1M80 226v1M80 257v1M80 269v1M80 275v1M80 281v1M80 286v1M80 310v1M80 405v1M81 20v1M81 32v1M81 53v1M81 77v1M81 89v2M81 94v1M81 103v2M81 124v1M81 131v1M81 136v1M81 147v1M81 158v1M81 163v2M81 166v1M81 183v1M81 194v1M81 197v1M81 200v1M81 217v1M81 230v1M81 234v1M81 236v2M81 251v1M81 253v1M81 264v1M81 270v2M81 277v1M81 289v1M81 297v1M81 301v1M81 305v1M81 321v1M81 347v1M81 355v2M81 363v1M81 370v1M81 374v1M81 379v1M81 385v1M81 393v1M82 34v1M82 39v1M82 41v1M82 65v1M82 90v1M82 95v1M82 99v1M82 102v1M82 104v2M82 108v4M82 115v1M82 122v1M82 125v1M82 133v1M82 141v1M82 144v1M82 163v1M82 170v1M82 179v1M82 188v1M82 190v1M82 193v1M82 199v1M82 205v1M82 213v1M82 224v1M82 230v4M82 237v1M82 243v1M82 249v1M82 253v1M82 270v1M82 273v1M82 285v1M82 287v1M82 294v1M82 297v2M82 302v1M82 304v1M82 314v2M82 324v1M82 329v1M82 336v1M82 343v1M82 353v1M82 372v1M82 375v1M82 379v1M82 384v1M83 27v1M83 39v1M83 45v1M83 50v1M83 58v1M83 62v1M83 67v1M83 100v1M83 103v1M83 116v1M83 132v1M83 138v1M83 145v1M83 149v1M83 156v1M83 174v2M83 192v2M83 225v1M83 232v1M83 235v1M83 272v1M83 275v1M83 281v1M83 286v1M83 297v1M83 322v2M83 339v1M83 349v1M83 352v1M83 378v1M83 395v1M84 18v1M84 27v1M84 41v2M84 52v1M84 54v1M84 72v1M84 93v2M84 98v4M84 108v1M84 110v1M84 127v1M84 137v1M84 141v2M84 147v2M84 154v1M84 159v1M84 164v1M84 177v1M84 180v1M84 186v1M84 192v1M84 194v2M84 199v1M84 220v1M84 226v1M84 237v1M84 241v1M84 246v1M84 254v1M84 259v1M84 286v1M84 306v1M84 311v1M84 314v1M84 321v1M84 344v2M84 371v1M84 373v1M84 378v1M84 381v1M84 383v1M84 392v1M84 401v1M85 24v1M85 33v1M85 46v1M85 49v1M85 51v1M85 68v1M85 72v1M85 83v1M85 85v1M85 88v1M85 97v1M85 107v2M85 115v1M85 130v1M85 147v1M85 152v1M85 176v1M85 179v1M85 184v1M85 192v1M85 195v1M85 197v2M85 210v1M85 222v1M85 228v1M85 249v1M85 253v2M85 262v2M85 288v1M85 293v1M85 313v3M85 323v1M85 328v1M85 330v1M85 335v3M85 339v1M85 343v1M85 353v1M85 358v1M85 360v1M85 368v2M85 378v1M85 386v1M85 392v1M86 20v1M86 22v1M86 25v1M86 32v2M86 39v1M86 53v1M86 61v1M86 70v1M86 80v1M86 82v1M86 93v1M86 104v1M86 117v1M86 126v1M86 128v1M86 139v1M86 146v1M86 169v1M86 181v1M86 190v3M86 196v1M86 205v1M86 210v1M86 216v3M86 252v2M86 284v1M86 289v1M86 299v1M86 304v1M86 315v1M86 321v1M86 330v3M86 334v1M86 336v1M86 338v1M86 340v1M86 347v1M86 353v1M86 367v1M86 371v1M86 399v1M86 405v1M87 19v1M87 42v1M87 58v1M87 73v1M87 81v1M87 95v1M87 106v1M87 112v1M87 116v2M87 119v1M87 125v2M87 128v1M87 131v1M87 140v1M87 144v1M87 149v1M87 163v1M87 167v1M87 170v1M87 199v1M87 203v1M87 210v1M87 232v1M87 239v1M87 262v1M87 300v1M87 319v2M87 325v1M87 333v1M87 338v1M87 340v1M87 345v1M87 354v1M87 356v1M87 362v1M87 365v1M87 367v1M87 376v1M87 383v1M88 18v2M88 21v1M88 45v1M88 57v1M88 63v1M88 72v1M88 281v1M88 290v1M88 307v2M88 312v1M88 353v1M88 357v1M88 366v1M88 369v1M88 385v1M88 392v1M89 14v1M89 16v1M89 20v1M89 24v3M89 40v1M89 54v1M89 58v1M89 61v1M89 65v1M89 67v1M89 70v1M89 72v1M89 77v1M89 81v1M89 87v1M89 93v1M89 97v2M89 104v1M89 109v1M89 118v1M89 130v1M89 135v1M89 143v1M89 146v1M89 157v1M89 194v1M89 196v1M89 201v1M89 208v1M89 213v1M89 246v1M89 267v1M89 271v1M89 285v1M89 291v1M89 321v1M89 334v1M89 340v1M89 344v1M89 348v2M89 352v1M89 362v1M89 376v1M89 386v1M89 390v1M89 404v1M90 24v1M90 26v2M90 29v1M90 35v1M90 54v2M90 61v1M90 114v1M90 171v1M90 182v1M90 206v1M90 209v1M90 216v1M90 222v1M90 226v1M90 230v1M90 244v1M90 247v1M90 249v1M90 251v2M90 257v1M90 264v1M90 272v1M90 280v1M90 285v2M90 291v2M90 304v1M90 308v2M90 318v1M90 342v1M90 348v1M90 350v1M90 356v2M90 372v1M90 377v1M91 21v1M91 25v1M91 29v1M91 41v1M91 51v1M91 60v1M91 81v1M91 87v1M91 89v1M91 95v2M91 106v1M91 111v1M91 117v1M91 127v1M91 134v1M91 138v2M91 145v1M91 148v2M91 151v2M91 163v1M91 172v1M91 175v1M91 177v1M91 206v1M91 225v1M91 233v1M91 240v1M91 242v1M91 266v1M91 270v1M91 311v1M91 314v1M91 317v1M91 327v1M91 329v1M91 338v1M91 353v1M91 359v1M91 367v1M91 374v1M91 376v1M91 390v1M92 26v1M92 82v1M92 96v1M92 101v1M92 110v1M92 120v1M92 129v1M92 132v1M92 135v1M92 141v1M92 145v1M92 189v1M92 195v1M92 198v1M92 201v1M92 205v1M92 214v1M92 219v1M92 228v1M92 237v3M92 250v1M92 261v2M92 269v1M92 284v1M92 297v1M92 299v1M92 310v1M92 321v1M92 339v1M92 346v1M92 351v1M92 359v1M92 367v1M92 369v1M92 395v1M92 402v1M93 22v1M93 27v1M93 31v1M93 37v1M93 47v1M93 58v1M93 63v1M93 65v1M93 71v1M93 87v1M93 107v2M93 125v3M93 130v1M93 136v1M93 143v1M93 149v1M93 152v1M93 158v1M93 167v1M93 177v1M93 179v1M93 194v2M93 197v1M93 207v1M93 211v1M93 232v1M93 235v1M93 253v1M93 263v1M93 266v1M93 271v1M93 283v1M93 289v1M93 292v2M93 305v1M93 313v1M93 317v1M93 322v1M93 337v1M93 358v1M93 372v1M93 387v1M93 393v1M93 400v1M94 17v3M94 27v1M94 40v1M94 44v1M94 46v1M94 48v1M94 54v1M94 57v1M94 62v1M94 76v1M94 89v1M94 103v1M94 109v1M94 118v1M94 124v1M94 145v1M94 147v1M94 170v2M94 178v1M94 183v1M94 186v1M94 202v1M94 206v1M94 212v1M94 215v1M94 225v1M94 228v1M94 231v1M94 239v2M94 247v1M94 255v1M94 258v1M94 263v1M94 270v1M94 272v1M94 275v1M94 280v1M94 282v1M94 288v1M94 296v2M94 303v1M94 374v1M94 382v1M94 388v1M94 390v2M95 16v1M95 21v1M95 25v1M95 32v1M95 36v1M95 38v1M95 43v1M95 66v1M95 70v1M95 73v1M95 75v1M95 87v1M95 92v2M95 112v1M95 119v1M95 127v2M95 130v1M95 134v1M95 137v1M95 156v1M95 166v1M95 169v1M95 175v1M95 189v2M95 202v2M95 208v1M95 212v1M95 216v1M95 221v1M95 223v2M95 229v1M95 231v1M95 240v1M95 251v1M95 253v1M95 263v1M95 265v1M95 267v1M95 269v1M95 271v1M95 276v2M95 296v2M95 302v1M95 307v1M95 327v1M95 337v1M95 354v1M95 358v2M95 362v1M95 367v1M95 370v1M95 372v1M95 382v1M95 388v2M95 397v1M95 401v2M96 19v1M96 26v1M96 36v1M96 44v1M96 47v1M96 70v1M96 72v3M96 80v1M96 125v1M96 133v1M96 160v1M96 165v1M96 178v1M96 189v1M96 193v3M96 204v1M96 215v1M96 220v1M96 223v1M96 226v1M96 242v1M96 255v1M96 266v1M96 274v3M96 289v2M96 303v2M96 307v1M96 316v1M96 332v1M96 337v1M96 354v1M96 370v1M96 373v1M96 378v1M96 396v1M96 403v1M97 23v1M97 26v1M97 53v1M97 66v1M97 75v1M97 88v1M97 93v1M97 107v1M97 111v1M97 115v2M97 119v1M97 124v1M97 126v2M97 136v2M97 145v1M97 158v1M97 161v2M97 164v1M97 166v1M97 169v1M97 179v2M97 184v1M97 188v1M97 202v1M97 209v1M97 213v1M97 223v1M97 225v1M97 244v1M97 247v1M97 259v1M97 273v1M97 279v1M97 281v1M97 283v1M97 285v1M97 287v2M97 307v1M97 328v1M97 388v2M97 395v1M97 402v1M98 37v1M98 44v1M98 71v1M98 78v1M98 105v1M98 111v1M98 129v1M98 137v1M98 156v1M98 168v1M98 182v1M98 214v1M98 221v1M98 230v2M98 242v1M98 253v1M98 291v1M98 295v1M98 298v1M98 301v1M98 322v1M98 335v1M98 337v1M98 358v1M98 368v1M98 370v1M98 385v1M98 391v1M99 18v1M99 21v1M99 27v1M99 30v1M99 32v1M99 46v1M99 48v1M99 59v1M99 70v1M99 72v1M99 78v1M99 85v1M99 96v4M99 101v1M99 107v1M99 116v2M99 121v1M99 131v1M99 147v1M99 166v1M99 170v1M99 175v2M99 180v1M99 182v1M99 200v1M99 202v1M99 218v1M99 220v2M99 224v1M99 226v1M99 231v3M99 242v1M99 247v1M99 249v1M99 255v1M99 283v1M99 291v1M99 309v1M99 313v1M99 319v3M99 323v1M99 326v3M99 364v1M99 367v1M99 372v1M99 386v1M99 395v2M99 399v2M99 405v1M100 21v2M100 25v1M100 31v1M100 39v1M100 53v2M100 58v2M100 71v1M100 74v1M100 78v1M100 84v1M100 103v1M100 106v1M100 118v1M100 120v1M100 126v1M100 128v2M100 144v2M100 154v1M100 163v1M100 169v1M100 176v1M100 180v2M100 184v1M100 189v1M100 194v1M100 197v3M100 201v1M100 214v2M100 220v1M100 227v1M100 229v1M100 233v1M100 249v2M100 258v1M100 260v1M100 298v1M100 300v1M100 312v1M100 315v1M100 318v1M100 322v1M100 347v2M100 353v1M100 356v1M100 362v1M100 372v1M100 383v1M100 389v1M100 393v1M101 26v1M101 34v1M101 48v1M101 65v1M101 70v1M101 73v1M101 75v1M101 77v2M101 82v1M101 86v1M101 90v1M101 102v1M101 104v2M101 107v1M101 119v1M101 125v1M101 133v1M101 144v1M101 151v1M101 161v1M101 166v1M101 174v1M101 178v1M101 180v2M101 187v3M101 193v1M101 203v1M101 212v1M101 215v1M101 224v2M101 228v1M101 233v1M101 254v1M101 258v1M101 260v1M101 262v1M101 267v1M101 269v1M101 273v1M101 280v1M101 288v1M101 295v1M101 306v1M101 309v1M101 313v1M101 322v1M101 327v1M101 344v1M101 353v2M101 356v1M101 364v1M101 367v1M101 377v2M101 386v3M101 391v1M101 397v1M102 28v1M102 31v1M102 33v3M102 38v2M102 52v1M102 59v1M102 69v1M102 107v1M102 113v1M102 118v1M102 147v1M102 149v1M102 152v1M102 183v1M102 196v1M102 212v1M102 223v1M102 225v2M102 229v1M102 231v1M102 234v1M102 238v1M102 242v3M102 252v1M102 254v1M102 261v2M102 264v1M102 268v1M102 273v1M102 290v2M102 296v1M102 299v1M102 309v1M102 311v1M102 321v3M102 331v1M102 335v1M102 340v1M102 343v1M102 358v1M102 360v1M102 379v1M102 386v1M102 402v1M103 21v1M103 24v1M103 28v2M103 37v1M103 44v1M103 47v3M103 52v1M103 56v1M103 65v1M103 74v1M103 82v1M103 85v1M103 100v1M103 110v1M103 122v2M103 134v1M103 139v1M103 141v1M103 149v1M103 154v2M103 157v1M103 159v1M103 161v2M103 168v1M103 173v1M103 181v1M103 183v1M103 185v1M103 195v1M103 203v1M103 205v1M103 207v1M103 213v2M103 219v1M103 228v1M103 234v1M103 236v1M103 251v1M103 272v1M103 275v1M103 277v1M103 300v1M103 304v1M103 309v1M103 314v2M103 319v1M103 322v1M103 330v1M103 335v1M103 340v1M103 344v1M103 346v1M103 364v1M103 375v1M103 382v1M103 388v2M103 405v1M104 23v1M104 30v1M104 33v1M104 36v1M104 44v1M104 50v1M104 52v1M104 55v1M104 59v1M104 61v1M104 64v2M104 71v1M104 80v1M104 87v1M104 90v1M104 102v1M104 105v1M104 108v1M104 117v1M104 132v1M104 140v1M104 143v1M104 145v2M104 155v1M104 164v1M104 169v1M104 172v1M104 180v1M104 187v1M104 200v1M104 202v1M104 205v1M104 207v1M104 220v1M104 230v1M104 233v1M104 235v1M104 239v1M104 241v1M104 260v1M104 269v1M104 273v2M104 280v1M104 287v2M104 291v1M104 294v1M104 305v1M104 307v1M104 320v1M104 327v1M104 366v1M104 368v1M104 372v1M104 382v1M104 389v1M104 393v1M104 404v1M105 26v2M105 38v1M105 51v1M105 67v1M105 69v1M105 77v1M105 83v1M105 90v1M105 100v1M105 102v1M105 107v1M105 110v1M105 113v1M105 133v1M105 141v1M105 149v2M105 160v1M105 163v1M105 165v1M105 178v1M105 181v1M105 185v1M105 197v1M105 213v1M105 220v1M105 241v1M105 251v1M105 262v1M105 268v1M105 272v1M105 278v1M105 280v1M105 283v1M105 287v1M105 301v1M105 310v2M105 320v1M105 325v1M105 336v1M105 338v1M105 351v1M105 354v1M105 372v1M105 377v3M105 382v1M105 392v1M105 399v1M105 403v2M106 26v3M106 36v1M106 42v1M106 45v1M106 52v4M106 58v1M106 80v1M106 88v1M106 90v1M106 94v1M106 103v1M106 107v2M106 116v1M106 127v1M106 134v1M106 139v1M106 142v1M106 146v2M106 149v1M106 157v1M106 163v1M106 176v1M106 180v1M106 182v1M106 188v1M106 200v1M106 210v1M106 214v1M106 216v1M106 218v1M106 222v1M106 224v2M106 227v1M106 231v1M106 235v1M106 249v1M106 269v1M106 279v1M106 281v1M106 283v1M106 285v1M106 293v1M106 295v1M106 301v1M106 305v2M106 312v1M106 318v1M106 321v2M106 324v1M106 327v1M106 332v1M106 346v1M106 356v1M106 359v1M106 363v1M106 367v3M106 378v1M106 384v1M106 387v1M106 402v1M108 17v1M108 23v1M108 27v1M108 35v1M108 42v1M108 44v1M108 46v2M108 55v2M108 65v1M108 68v1M108 73v1M108 82v1M108 97v1M108 100v2M108 118v1M108 132v1M108 141v1M108 144v1M108 156v2M108 188v1M108 194v1M108 196v1M108 216v1M108 223v2M108 226v1M108 239v1M108 243v1M108 256v1M108 265v1M108 273v1M108 281v2M108 288v1M108 303v1M108 306v1M108 314v1M108 323v1M108 351v1M108 357v1M108 362v1M108 368v1M108 370v1M108 373v1M108 378v1M108 383v1M108 392v1M108 402v1M110 37v3M110 50v1M110 53v1M110 55v1M110 62v1M110 65v2M110 70v1M110 76v1M110 86v1M110 88v1M110 92v1M110 94v1M110 98v1M110 102v1M110 110v1M110 124v1M110 129v1M110 147v1M110 165v1M110 175v1M110 180v1M110 182v1M110 188v1M110 192v1M110 205v1M110 219v1M110 226v1M110 229v1M110 232v1M110 237v2M110 267v1M110 269v2M110 303v1M110 306v1M110 319v1M110 321v1M110 327v1M110 344v2M110 359v1M110 368v1M110 371v1M110 382v1M110 386v1M110 395v1M110 399v1M112 27v1M112 44v1M112 48v1M112 62v2M112 69v1M112 74v1M112 83v1M112 85v1M112 95v1M112 97v1M112 110v1M112 113v1M112 117v1M112 124v1M112 133v1M112 139v1M112 141v1M112 145v1M112 160v1M112 168v1M112 174v2M112 193v1M112 199v1M112 206v2M112 210v1M112 225v1M112 236v2M112 246v1M112 249v1M112 251v1M112 255v1M112 261v1M112 264v1M112 275v1M112 278v1M112 286v1M112 303v1M112 306v2M112 310v1M112 323v1M112 338v1M112 351v1M112 358v2M112 370v1M112 374v1M112 383v1M112 401v1M112 404v1M114 19v1M114 21v1M114 26v2M114 33v1M114 41v1M114 44v1M114 48v1M114 55v1M114 58v1M114 62v1M114 67v1M114 77v2M114 93v1M114 100v2M114 106v1M114 116v1M114 155v1M114 157v1M114 162v1M114 180v1M114 191v1M114 194v2M114 205v1M114 215v1M114 221v1M114 226v1M114 229v1M114 235v1M114 240v1M114 244v1M114 250v1M114 265v1M114 268v1M114 272v1M114 275v1M114 289v1M114 296v1M114 301v1M114 314v1M114 348v1M114 351v1M114 357v1M114 362v2M114 403v2M116 17v1M116 23v1M116 29v1M116 42v1M116 53v1M116 61v1M116 69v1M116 72v1M116 88v1M116 90v1M116 96v1M116 98v1M116 119v1M116 127v1M116 138v1M116 152v1M116 155v1M116 158v1M116 177v1M116 181v1M116 186v1M116 204v1M116 206v1M116 208v2M116 213v1M116 215v2M116 226v1M116 235v1M116 240v1M116 242v1M116 248v1M116 254v1M116 256v1M116 271v1M116 273v1M116 285v1M116 287v2M116 290v1M116 297v1M116 309v1M116 340v1M116 342v1M116 350v1M116 355v1M116 363v1M116 367v2M116 378v1M116 391v1M116 395v1M116 403v1M118 22v3M118 44v1M118 91v1M118 109v1M118 113v1M118 119v1M118 123v1M118 143v1M118 151v2M118 156v1M118 159v1M118 169v1M118 182v1M118 191v1M118 193v1M118 201v1M118 218v2M118 227v1M118 232v1M118 242v1M118 249v1M118 253v1M118 261v1M118 263v1M118 265v1M118 268v2M118 271v1M118 280v4M118 290v1M118 305v2M118 308v1M118 340v1M118 350v1M118 354v1M118 357v1M118 360v1M118 364v1M118 367v1M118 369v1M118 371v4M118 385v1M118 391v3M118 397v2M118 401v1M120 27v1M120 32v2M120 48v2M120 54v1M120 60v1M120 67v1M120 77v1M120 80v1M120 83v1M120 92v1M120 94v1M120 104v1M120 108v1M120 112v1M120 126v1M120 149v1M120 153v1M120 155v1M120 167v1M120 170v1M120 176v1M120 190v1M120 197v1M120 202v2M120 217v1M120 219v1M120 223v1M120 225v1M120 234v5M120 241v1M120 245v1M120 247v2M120 262v3M120 266v1M120 269v1M120 280v1M120 285v1M120 290v1M120 292v1M120 296v1M120 306v1M120 309v1M120 312v1M120 316v1M120 331v2M120 334v3M120 339v1M120 345v1M120 351v1M120 354v1M120 368v1M120 390v1M120 396v1M120 402v2M120 405v1M125 28v1M125 31v3M125 44v1M125 52v1M125 58v1M125 65v2M125 69v1M125 82v1M125 87v1M125 89v1M125 93v1M125 104v2M125 144v1M125 151v1M125 153v1M125 156v1M125 161v1M125 173v1M125 184v1M125 191v1M125 196v1M125 203v1M125 227v1M125 232v1M125 245v1M125 273v1M125 281v1M125 284v1M125 299v1M125 305v1M125 308v1M125 318v1M125 326v1M125 343v1M125 345v2M125 356v1M125 365v1M125 370v4M125 384v1M125 391v1M125 395v2M125 398v1M125 405v1M130 18v1M130 21v2M130 24v1M130 33v1M130 41v1M130 50v1M130 56v1M130 58v1M130 81v1M130 95v1M130 98v1M130 100v1M130 107v1M130 118v1M130 120v1M130 124v2M130 144v1M130 154v2M130 158v1M130 172v1M130 183v2M130 194v1M130 198v1M130 219v1M130 233v1M130 235v1M130 244v1M130 246v3M130 250v2M130 260v1M130 266v1M130 283v1M130 287v1M130 289v1M130 302v1M130 304v1M130 306v1M130 319v1M130 323v1M130 331v1M130 339v1M130 343v1M130 372v1M130 379v1M130 382v1M130 401v1M130 403v1M135 23v1M135 36v2M135 40v1M135 43v1M135 51v1M135 57v1M135 60v1M135 84v1M135 92v1M135 97v1M135 109v1M135 111v2M135 119v1M135 122v1M135 127v1M135 151v1M135 167v2M135 178v1M135 180v1M135 184v1M135 199v1M135 201v1M135 211v1M135 217v1M135 221v1M135 240v1M135 242v1M135 247v1M135 262v1M135 276v1M135 283v1M135 288v1M135 293v1M135 301v1M135 304v1M135 312v1M135 324v1M135 340v1M135 355v1M135 365v1M135 392v1M135 395v1M135 399v1M135 404v2M140 17v1M140 20v1M140 29v1M140 45v1M140 50v1M140 56v2M140 59v1M140 64v1M140 68v1M140 76v1M140 79v2M140 82v2M140 89v1M140 95v1M140 97v1M140 101v1M140 103v1M140 109v2M140 112v1M140 116v2M140 121v1M140 123v1M140 136v1M140 149v2M140 155v1M140 158v1M140 163v4M140 175v1M140 182v1M140 206v2M140 215v1M140 221v1M140 251v1M140 266v1M140 269v1M140 271v1M140 276v1M140 284v1M140 287v1M140 289v2M140 301v2M140 306v1M140 311v1M140 313v3M140 319v1M140 324v1M140 331v1M140 361v3M140 367v1M140 382v2M140 389v1M145 20v1M145 22v1M145 35v2M145 45v1M145 60v1M145 66v1M145 68v3M145 77v2M145 82v1M145 106v1M145 121v1M145 139v2M145 150v1M145 180v1M145 189v1M145 192v3M145 197v1M145 200v1M145 211v1M145 217v1M145 225v1M145 238v2M145 247v1M145 249v1M145 251v1M145 258v1M145 269v2M145 278v1M145 285v1M145 306v1M145 319v1M145 341v2M145 345v3M145 361v2M145 368v1M145 375v1M145 377v1M145 392v1M145 403v1M150 22v1M150 25v1M150 27v1M150 29v1M150 38v1M150 46v1M150 50v1M150 53v1M150 74v1M150 79v1M150 84v1M150 89v1M150 94v1M150 149v1M150 154v3M150 159v2M150 167v1M150 169v1M150 199v1M150 204v1M150 206v2M150 219v1M150 221v1M150 230v1M150 245v1M150 250v1M150 254v1M150 267v2M150 272v1M150 274v1M150 285v3M150 294v2M150 302v1M150 307v1M150 312v1M150 314v3M150 318v1M150 325v1M150 333v1M150 335v1M150 366v1M150 369v1M150 373v1M150 375v1M150 392v1M150 396v1M150 402v1"/>
<path stroke="#481a6c" d="M0 21v3M0 29v1M0 31v2M0 41v1M0 53v1M0 76v1M0 78v1M0 88v1M0 98v1M0 103v1M0 113v1M0 116v1M0 128v1M0 132v1M0 139v1M0 143v1M0 145v1M0 149v1M0 154v1M0 170v1M0 183v1M0 185v1M0 194v1M0 199v1M0 206v1M0 212v1M0 234v1M0 246v1M0 254v1M0 258v1M0 265v1M0 304v1M0 317v1M0 324v1M0 342v1M0 349v1M0 353v1M0 355v2M0 362v1M0 364v1M0 378v1M0 381v2M0 390v1M0 399v1M0 405v1M1 14v1M1 28v1M1 33v1M1 43v1M1 52v1M1 62v1M1 64v1M1 75v1M1 78v1M1 83v1M1 95v2M1 101v1M1 114v1M1 116v1M1 147v1M1 151v1M1 173v2M1 176v1M1 178v1M1 187v1M1 195v2M1 203v1M1 207v2M1 250v1M1 253v1M1 263v1M1 268v1M1 271v1M1 273v1M1 296v1M1 312v2M1 335v1M1 342v2M1 350v1M1 357v1M1 373v1M1 382v1M1 387v1M1 391v1M2 11v1M2 17v2M2 60v1M2 65v1M2 81v1M2 87v1M2 92v1M2 97v1M2 108v1M2 114v1M2 127v1M2 136v1M2 153v1M2 155v1M2 164v1M2 169v1M2 171v1M2 207v1M2 249v1M2 251v1M2 253v1M2 259v1M2 263v1M2 270v1M2 278v1M2 311v1M2 315v1M2 328v1M2 341v1M2 355v2M2 388v2M3 11v1M3 20v1M3 29v2M3 43v1M3 68v1M3 75v1M3 82v1M3 87v1M3 94v2M3 103v1M3 106v1M3 116v1M3 130v1M3 133v2M3 137v1M3 158v1M3 160v2M3 172v1M3 174v1M3 177v1M3 191v2M3 200v1M3 204v1M3 208v1M3 210v1M3 213v2M3 217v1M3 222v1M3 225v2M3 231v1M3 235v1M3 257v1M3 264v1M3 270v1M3 275v1M3 297v1M3 299v2M3 304v1M3 311v1M3 313v1M3 320v1M3 326v1M3 336v1M3 338v1M3 340v1M3 361v1M3 367v1M3 375v1M3 389v2M3 397v1M3 401v1M4 14v1M4 20v1M4 22v1M4 26v1M4 40v2M4 47v1M4 54v1M4 65v1M4 69v1M4 75v1M4 77v1M4 85v1M4 87v1M4 91v1M4 101v1M4 110v1M4 132v1M4 134v1M4 140v1M4 142v1M4 145v2M4 152v1M4 154v1M4 160v1M4 165v1M4 170v1M4 173v2M4 187v1M4 189v1M4 193v2M4 197v2M4 203v2M4 217v1M4 225v1M4 234v2M4 268v1M4 285v1M4 288v1M4 293v1M4 299v1M4 310v2M4 313v1M4 315v1M4 332v1M4 336v1M4 340v3M4 346v1M4 350v1M4 352v2M4 363v1M4 379v1M4 381v1M4 384v1M4 401v2M5 12v2M5 22v1M5 26v1M5 28v1M5 36v3M5 40v1M5 42v2M5 57v1M5 59v1M5 63v1M5 65v1M5 67v1M5 73v2M5 77v1M5 81v1M5 84v1M5 96v3M5 102v1M5 114v1M5 140v1M5 142v1M5 151v1M5 155v1M5 162v1M5 169v1M5 177v1M5 193v1M5 199v1M5 201v1M5 203v1M5 209v1M5 224v3M5 238v1M5 240v1M5 247v1M5 262v2M5 279v1M5 292v1M5 299v1M5 301v1M5 318v1M5 339v1M5 346v1M5 354v1M5 359v1M5 368v1M5 380v1M5 382v1M5 385v1M5 387v1M5 394v1M5 401v1M6 22v1M6 111v1M6 144v1M6 147v1M6 163v1M6 180v1M6 183v1M6 196v1M6 204v1M6 236v1M6 238v1M6 271v1M6 289v1M6 297v1M6 354v1M6 400v1M7 14v1M7 16v1M7 33v1M7 41v1M7 47v1M7 60v1M7 66v1M7 68v2M7 71v1M7 85v1M7 91v1M7 119v1M7 129v1M7 131v1M7 141v1M7 156v1M7 161v1M7 185v1M7 193v1M7 204v1M7 208v1M7 215v1M7 220v1M7 222v1M7 226v1M7 237v1M7 248v1M7 294v1M7 297v2M7 305v1M7 312v1M7 315v1M7 320v1M7 333v1M7 337v1M7 340v1M7 348v1M7 357v1M7 381v1M7 383v1M7 399v1M7 401v1M8 27v3M8 38v1M8 41v1M8 43v1M8 46v1M8 48v1M8 50v1M8 56v1M8 58v1M8 61v1M8 69v1M8 75v1M8 78v1M8 84v1M8 89v1M8 97v1M8 105v1M8 111v1M8 135v1M8 158v1M8 161v1M8 164v1M8 167v1M8 177v1M8 184v1M8 190v1M8 204v1M8 213v1M8 220v1M8 225v1M8 233v2M8 238v1M8 243v1M8 260v1M8 267v1M8 273v1M8 278v1M8 281v1M8 287v1M8 300v1M8 318v1M8 330v1M8 335v1M8 351v1M8 355v1M8 357v1M8 359v1M8 364v2M8 382v1M8 405v1M9 18v1M9 23v2M9 29v1M9 31v2M9 42v1M9 47v1M9 49v1M9 60v2M9 71v1M9 73v1M9 79v1M9 87v2M9 105v3M9 112v1M9 122v1M9 125v1M9 133v3M9 137v1M9 147v2M9 162v1M9 165v1M9 168v1M9 183v1M9 186v1M9 189v1M9 193v2M9 199v1M9 205v1M9 208v1M9 215v1M9 217v1M9 225v1M9 227v1M9 235v1M9 237v2M9 248v1M9 250v1M9 253v3M9 260v1M9 263v1M9 269v3M9 281v1M9 287v1M9 292v1M9 299v1M9 303v1M9 309v1M9 312v1M9 318v1M9 321v2M9 326v1M9 333v1M9 342v1M9 351v1M9 356v1M9 362v1M9 365v1M9 367v1M9 369v2M9 395v1M9 397v1M9 399v1M9 404v1M10 36v1M10 48v1M10 76v1M10 78v1M10 147v1M10 153v1M10 196v1M10 201v2M10 213v1M10 227v1M10 240v1M10 256v1M10 287v1M10 294v1M10 334v1M10 353v1M10 368v1M10 374v1M11 34v1M11 48v1M11 51v1M11 63v1M11 77v2M11 81v1M11 84v1M11 89v1M11 97v1M11 102v1M11 104v1M11 122v1M11 128v2M11 131v1M11 134v1M11 157v1M11 161v1M11 166v2M11 179v2M11 182v1M11 188v1M11 191v1M11 206v2M11 209v1M11 221v1M11 241v1M11 248v1M11 254v1M11 256v1M11 258v1M11 268v1M11 288v2M11 293v1M11 303v1M11 314v2M11 328v1M11 337v1M11 355v1M11 370v1M11 380v1M11 390v2M11 399v1M12 23v1M12 38v1M12 86v1M12 133v1M12 146v2M12 152v1M12 216v1M12 249v1M12 266v1M12 292v1M12 340v1M12 355v1M12 372v1M12 404v1M13 15v1M13 21v1M13 37v1M13 40v1M13 69v1M13 72v1M13 77v1M13 83v1M13 106v1M13 108v1M13 118v1M13 127v1M13 133v1M13 139v1M13 168v1M13 186v1M13 204v2M13 209v1M13 211v1M13 218v1M13 277v1M13 281v1M13 292v1M13 297v1M13 304v1M13 317v1M13 319v1M13 321v1M13 327v1M13 332v1M13 338v1M13 341v1M13 350v1M13 354v2M13 359v1M13 374v1M13 394v1M13 398v2M14 16v1M14 19v1M14 21v1M14 33v1M14 41v1M14 47v1M14 49v1M14 54v2M14 60v1M14 77v1M14 79v1M14 83v1M14 94v1M14 102v1M14 106v1M14 109v2M14 112v1M14 122v2M14 129v2M14 137v1M14 140v1M14 148v1M14 167v1M14 173v1M14 182v1M14 196v1M14 200v1M14 208v3M14 216v1M14 221v1M14 242v1M14 246v2M14 255v2M14 258v1M14 265v1M14 269v2M14 274v1M14 280v2M14 287v1M14 292v1M14 294v1M14 299v1M14 303v1M14 318v2M14 331v1M14 341v2M14 347v1M14 351v1M14 360v2M14 368v1M14 370v1M14 378v1M14 402v1M15 16v1M15 27v1M15 33v1M15 36v2M15 41v1M15 46v1M15 51v1M15 58v3M15 65v2M15 68v1M15 72v1M15 89v2M15 94v1M15 110v1M15 112v1M15 118v1M15 133v3M15 141v1M15 143v1M15 151v1M15 159v1M15 161v2M15 166v1M15 181v1M15 188v1M15 193v2M15 201v1M15 203v1M15 236v1M15 238v1M15 244v1M15 253v1M15 255v2M15 259v1M15 262v1M15 265v2M15 272v2M15 275v1M15 281v1M15 283v1M15 285v1M15 305v1M15 309v1M15 311v1M15 351v1M15 356v1M15 358v1M15 373v1M15 390v1M15 392v1M15 397v1M16 15v2M16 20v1M16 46v1M16 49v2M16 60v1M16 69v2M16 76v1M16 93v2M16 98v1M16 116v1M16 118v1M16 120v1M16 125v1M16 127v1M16 129v2M16 133v1M16 138v1M16 141v1M16 144v1M16 147v1M16 150v2M16 162v1M16 167v1M16 178v1M16 180v1M16 187v1M16 208v1M16 212v1M16 218v2M16 221v1M16 235v2M16 239v2M16 244v2M16 248v1M16 257v1M16 265v1M16 269v1M16 277v1M16 279v1M16 286v1M16 289v1M16 300v2M16 306v1M16 312v2M16 319v2M16 323v1M16 331v1M16 336v1M16 338v1M16 355v1M16 358v1M16 360v1M16 364v1M16 369v1M16 371v2M16 382v1M16 385v2M16 392v1M16 400v1M17 15v1M17 27v3M17 34v1M17 48v1M17 50v1M17 52v1M17 68v1M17 79v2M17 83v1M17 107v1M17 120v1M17 123v1M17 125v1M17 128v1M17 132v1M17 137v1M17 156v1M17 159v1M17 161v3M17 168v1M17 171v1M17 175v3M17 180v2M17 191v1M17 195v1M17 197v1M17 207v1M17 212v2M17 219v1M17 230v1M17 241v2M17 249v1M17 256v1M17 262v1M17 284v1M17 290v1M17 292v1M17 294v1M17 299v2M17 304v1M17 308v1M17 314v1M17 317v2M17 320v1M17 329v1M17 355v1M17 363v1M17 367v1M17 378v1M17 386v1M17 388v1M17 395v1M17 399v1M17 402v1M18 64v1M18 69v1M18 75v1M18 84v1M18 88v1M18 90v1M18 118v1M18 132v5M18 145v3M18 157v1M18 169v1M18 176v1M18 178v1M18 185v1M18 206v1M18 223v1M18 237v1M18 239v1M18 243v1M18 246v1M18 250v1M18 253v2M18 256v1M18 262v1M18 275v1M18 280v1M18 307v1M18 311v1M18 313v1M18 329v2M18 334v1M18 345v1M18 347v1M18 359v1M18 363v1M18 367v1M18 379v1M18 388v2M18 405v1M19 21v1M19 79v1M19 82v1M19 97v1M19 105v1M19 121v1M19 140v1M19 160v1M19 168v1M19 191v1M19 207v1M19 215v1M19 221v1M19 228v1M19 233v1M19 275v1M19 341v1M19 360v1M19 390v1M20 32v1M20 65v1M20 70v1M20 84v1M20 94v1M20 111v1M20 118v1M20 130v1M20 133v1M20 209v1M20 211v1M20 254v1M20 284v1M20 319v1M20 325v1M20 360v1M20 365v1M20 371v1M20 398v1M21 30v1M21 35v2M21 42v2M21 49v1M21 52v1M21 63v1M21 69v1M21 85v1M21 87v1M21 94v1M21 120v1M21 135v3M21 141v1M21 144v1M21 170v1M21 184v1M21 193v1M21 213v1M21 216v1M21 237v3M21 260v1M21 264v1M21 267v1M21 280v1M21 293v1M21 327v1M21 333v1M21 338v1M21 341v1M21 361v4M21 386v2M21 389v1M22 14v1M22 19v1M22 24v1M22 33v1M22 40v2M22 46v1M22 58v1M22 61v1M22 73v1M22 76v1M22 81v1M22 97v1M22 103v1M22 107v2M22 112v1M22 133v1M22 136v1M22 142v1M22 144v1M22 149v1M22 168v1M22 189v1M22 192v1M22 201v1M22 214v1M22 228v1M22 232v1M22 235v1M22 248v1M22 257v1M22 268v1M22 273v1M22 282v1M22 292v1M22 316v1M22 338v1M22 340v1M22 344v1M22 348v1M22 351v1M22 353v1M22 357v1M22 362v1M22 364v1M22 372v1M22 380v1M22 382v1M22 386v1M22 390v1M22 393v1M22 398v2M23 10v1M23 15v1M23 31v1M23 34v2M23 44v1M23 49v3M23 58v2M23 61v2M23 67v1M23 79v1M23 86v1M23 89v1M23 106v1M23 116v1M23 121v1M23 124v1M23 128v1M23 135v1M23 141v2M23 146v1M23 149v1M23 155v2M23 159v1M23 165v1M23 167v2M23 179v1M23 181v1M23 193v1M23 195v1M23 201v1M23 217v1M23 222v1M23 241v2M23 268v1M23 272v2M23 278v1M23 290v1M23 292v1M23 299v1M23 303v1M23 317v1M23 327v1M23 339v1M23 343v1M23 345v1M23 348v1M23 350v1M23 365v1M23 375v1M23 379v1M23 381v1M23 385v3M23 389v1M24 41v1M24 46v1M24 58v1M24 80v1M24 93v1M24 101v1M24 110v1M24 119v1M24 122v2M24 141v1M24 147v1M24 151v1M24 154v1M24 209v1M24 223v1M24 250v2M24 334v1M24 372v1M24 399v1M25 34v2M25 53v1M25 71v1M25 79v1M25 82v1M25 94v1M25 96v1M25 102v2M25 108v1M25 118v1M25 129v1M25 133v1M25 138v1M25 140v1M25 146v1M25 157v2M25 163v1M25 186v1M25 193v1M25 198v1M25 202v1M25 204v2M25 225v1M25 234v1M25 237v1M25 241v1M25 244v1M25 247v1M25 264v1M25 267v1M25 278v1M25 281v2M25 284v1M25 300v1M25 305v1M25 310v2M25 322v1M25 330v4M25 335v2M25 341v1M25 365v1M25 369v2M25 376v1M25 386v2M25 395v1M25 401v1M26 14v1M26 36v1M26 51v1M26 72v1M26 110v1M26 138v1M26 253v1M26 274v1M26 353v1M26 372v1M27 27v1M27 34v1M27 53v1M27 56v1M27 62v1M27 65v1M27 75v1M27 83v1M27 87v1M27 118v1M27 124v1M27 140v1M27 153v1M27 165v1M27 179v1M27 183v1M27 185v1M27 232v1M27 292v1M27 314v1M27 322v1M27 328v1M27 336v1M27 380v1M27 390v1M27 396v1M27 399v2M28 13v1M28 15v1M28 33v1M28 39v1M28 44v1M28 46v1M28 54v1M28 57v1M28 66v3M28 73v1M28 90v2M28 107v1M28 111v1M28 120v1M28 129v1M28 134v1M28 137v1M28 148v1M28 155v1M28 166v1M28 177v1M28 179v2M28 183v2M28 189v1M28 199v1M28 213v1M28 217v3M28 242v2M28 261v2M28 265v1M28 270v2M28 277v1M28 280v1M28 282v1M28 286v1M28 290v1M28 297v1M28 312v1M28 320v1M28 323v1M28 327v1M28 330v1M28 337v1M28 340v1M28 342v1M28 345v1M28 352v2M28 360v1M28 377v2M28 385v1M28 387v1M28 389v1M28 391v1M28 397v1M28 399v1M29 17v1M29 30v1M29 91v1M29 161v1M29 220v1M29 225v1M29 245v1M29 259v1M29 271v1M29 339v1M29 341v1M29 352v1M29 405v1M30 35v1M30 43v1M30 48v1M30 50v1M30 53v1M30 64v1M30 71v1M30 89v1M30 93v2M30 100v1M30 104v1M30 141v1M30 147v1M30 152v1M30 157v1M30 177v1M30 184v2M30 188v1M30 214v1M30 235v1M30 244v1M30 246v1M30 250v1M30 252v1M30 259v1M30 261v1M30 269v1M30 271v1M30 289v1M30 296v1M30 305v1M30 338v1M30 341v2M30 367v1M30 369v1M30 396v2M30 403v1M31 25v1M31 28v1M31 36v2M31 41v1M31 51v2M31 54v1M31 58v1M31 66v1M31 72v3M31 80v1M31 83v1M31 105v1M31 111v1M31 113v1M31 121v1M31 123v4M31 129v1M31 142v1M31 159v1M31 161v1M31 163v1M31 170v1M31 173v1M31 177v1M31 180v1M31 182v1M31 185v1M31 203v1M31 216v1M31 222v1M31 228v1M31 261v1M31 275v2M31 282v1M31 290v1M31 294v1M31 300v1M31 308v1M31 310v1M31 316v1M31 329v1M31 331v1M31 333v1M31 335v1M31 337v2M31 342v1M31 346v1M31 350v2M31 353v2M31 357v1M31 384v1M32 15v1M32 31v2M32 38v1M32 64v1M32 76v1M32 80v1M32 95v1M32 113v1M32 120v1M32 137v1M32 144v1M32 161v1M32 177v1M32 181v1M32 200v1M32 203v1M32 218v1M32 238v3M32 254v1M32 265v1M32 299v1M32 301v2M32 318v1M32 329v1M32 332v1M32 339v1M32 342v1M32 366v2M32 390v1M32 399v1M32 404v1M33 18v1M33 21v1M33 26v1M33 29v1M33 33v1M33 38v1M33 44v1M33 46v1M33 48v2M33 51v2M33 57v1M33 60v1M33 62v1M33 71v1M33 79v1M33 82v1M33 87v3M33 103v1M33 115v1M33 125v1M33 130v1M33 148v1M33 154v1M33 163v1M33 170v1M33 173v1M33 188v1M33 191v1M33 193v1M33 210v1M33 216v1M33 237v2M33 265v1M33 270v1M33 275v1M33 278v1M33 280v2M33 294v1M33 297v2M33 303v1M33 305v2M33 308v1M33 313v2M33 323v1M33 329v1M33 334v1M33 339v1M33 343v2M33 354v1M33 356v2M33 359v1M33 363v1M33 366v1M33 369v1M33 372v1M33 375v3M33 380v1M33 384v2M33 396v2M33 401v1M34 14v1M34 17v1M34 29v1M34 33v1M34 44v1M34 52v1M34 60v1M34 81v1M34 96v1M34 104v1M34 111v1M34 114v2M34 117v1M34 119v2M34 133v1M34 138v1M34 143v1M34 151v1M34 155v1M34 160v2M34 186v1M34 193v1M34 196v1M34 213v1M34 215v1M34 217v1M34 219v2M34 227v1M34 236v1M34 239v1M34 256v1M34 258v1M34 268v1M34 270v1M34 272v1M34 296v1M34 309v1M34 323v3M34 333v1M34 335v1M34 361v2M34 364v1M34 375v2M34 383v1M34 392v1M35 15v1M35 55v1M35 60v2M35 69v1M35 74v1M35 80v1M35 84v2M35 87v2M35 112v1M35 117v1M35 123v1M35 129v1M35 131v1M35 141v1M35 149v2M35 156v1M35 160v1M35 162v1M35 166v1M35 169v1M35 173v1M35 182v1M35 190v1M35 192v1M35 212v1M35 230v1M35 237v1M35 254v1M35 258v1M35 268v1M35 272v1M35 280v1M35 291v1M35 293v1M35 309v1M35 313v1M35 351v1M35 356v1M35 365v1M35 371v1M35 375v1M35 404v1M36 15v1M36 19v1M36 23v1M36 33v1M36 52v1M36 63v1M36 69v1M36 89v1M36 111v1M36 118v1M36 126v1M36 133v1M36 145v1M36 156v1M36 158v1M36 181v1M36 209v1M36 223v1M36 228v1M36 241v1M36 246v2M36 250v1M36 267v1M36 279v1M36 282v1M36 288v1M36 293v1M36 300v1M36 304v1M36 313v1M36 323v1M36 327v1M36 332v1M36 353v1M36 380v1M36 403v1M36 405v1M37 15v1M37 18v1M37 25v1M37 39v1M37 43v1M37 49v1M37 66v1M37 71v1M37 78v1M37 93v1M37 95v1M37 99v1M37 101v1M37 108v1M37 112v1M37 121v2M37 135v1M37 137v1M37 141v1M37 159v1M37 163v2M37 171v1M37 181v2M37 194v1M37 197v1M37 200v1M37 203v1M37 210v1M37 218v1M37 220v1M37 225v1M37 230v1M37 238v2M37 250v1M37 252v2M37 258v1M37 261v1M37 267v1M37 270v1M37 278v1M37 280v1M37 310v1M37 344v1M37 360v1M37 368v1M37 382v1M37 385v1M37 399v1M37 403v2M38 15v2M38 19v1M38 23v1M38 31v1M38 47v2M38 51v1M38 63v1M38 73v2M38 86v1M38 93v1M38 101v1M38 105v1M38 110v1M38 112v1M38 120v1M38 122v1M38 142v1M38 147v3M38 160v1M38 162v1M38 174v1M38 186v1M38 193v1M38 202v1M38 205v1M38 210v1M38 215v1M38 221v1M38 223v1M38 237v1M38 245v1M38 253v2M38 257v1M38 271v2M38 280v1M38 285v2M38 290v2M38 298v1M38 306v1M38 325v1M38 352v2M38 361v1M38 364v1M38 381v2M38 388v1M38 393v1M39 18v1M39 25v1M39 29v1M39 38v1M39 44v1M39 58v1M39 68v1M39 70v1M39 77v1M39 90v1M39 101v2M39 104v1M39 115v2M39 131v1M39 162v1M39 168v1M39 175v1M39 177v1M39 192v1M39 206v1M39 209v1M39 216v2M39 219v2M39 239v1M39 243v2M39 248v3M39 258v1M39 268v1M39 286v1M39 295v1M39 367v1M39 377v1M39 382v1M39 385v1M39 387v1M39 391v1M40 19v2M40 25v1M40 27v1M40 29v1M40 33v1M40 42v1M40 57v1M40 60v1M40 65v2M40 68v2M40 87v1M40 93v1M40 98v1M40 103v1M40 107v3M40 112v3M40 117v1M40 129v1M40 131v1M40 134v1M40 141v2M40 145v1M40 152v1M40 156v1M40 159v2M40 163v1M40 173v1M40 177v2M40 185v1M40 187v1M40 194v1M40 197v1M40 200v2M40 205v1M40 207v2M40 212v2M40 215v1M40 217v1M40 219v1M40 221v1M40 232v1M40 236v1M40 245v1M40 252v1M40 256v1M40 260v1M40 263v1M40 267v1M40 269v1M40 273v1M40 276v2M40 282v1M40 286v1M40 290v1M40 298v1M40 300v1M40 303v1M40 312v1M40 328v1M40 345v1M40 356v1M40 361v1M40 366v1M40 374v1M40 387v1M40 389v1M40 391v1M40 395v1M40 399v1M41 22v1M41 46v1M41 48v1M41 55v1M41 65v1M41 68v1M41 70v1M41 75v1M41 95v1M41 98v1M41 119v1M41 123v1M41 130v1M41 143v1M41 146v1M41 154v1M41 156v1M41 167v1M41 177v1M41 193v1M41 195v1M41 200v1M41 205v2M41 210v1M41 214v1M41 221v1M41 223v1M41 228v1M41 230v2M41 233v1M41 236v1M41 240v1M41 247v1M41 251v1M41 254v1M41 266v1M41 276v1M41 284v1M41 287v1M41 289v1M41 294v1M41 298v1M41 304v1M41 315v2M41 321v1M41 331v1M41 337v1M41 345v1M41 356v2M41 370v2M41 374v1M41 377v2M41 380v2M41 384v1M41 386v1M41 388v2M41 391v1M41 396v2M41 400v1M41 403v1M42 16v1M42 18v1M42 26v1M42 31v1M42 33v1M42 41v1M42 44v1M42 48v1M42 56v1M42 65v2M42 68v1M42 78v1M42 89v1M42 105v2M42 123v1M42 145v1M42 150v1M42 152v1M42 156v1M42 160v1M42 174v2M42 179v1M42 203v1M42 221v2M42 236v1M42 242v1M42 251v1M42 262v1M42 269v1M42 294v1M42 319v1M42 334v1M42 341v1M42 344v1M42 351v1M42 353v1M42 361v1M42 364v1M42 368v2M42 371v1M42 373v1M42 394v1M42 399v2M42 403v1M43 20v1M43 43v1M43 65v1M43 132v1M43 136v1M43 181v1M43 196v1M43 217v1M43 220v1M43 233v1M43 262v1M43 324v1M43 367v2M43 374v1M43 404v1M44 26v1M44 31v2M44 41v1M44 63v2M44 67v1M44 71v2M44 77v1M44 81v1M44 83v1M44 89v1M44 96v1M44 100v1M44 108v1M44 114v1M44 133v1M44 157v1M44 172v1M44 175v1M44 188v1M44 190v1M44 194v1M44 215v1M44 218v1M44 223v1M44 225v2M44 237v1M44 266v1M44 277v3M44 283v1M44 290v1M44 304v1M44 320v1M44 324v2M44 335v1M44 370v1M44 382v1M45 16v1M45 18v1M45 21v1M45 34v1M45 46v1M45 50v1M45 57v2M45 74v1M45 81v1M45 92v1M45 96v1M45 98v1M45 105v2M45 110v1M45 116v1M45 124v1M45 132v1M45 142v1M45 146v1M45 150v1M45 162v1M45 164v2M45 167v1M45 173v1M45 183v1M45 188v1M45 191v1M45 198v1M45 205v1M45 207v2M45 216v1M45 220v2M45 223v1M45 232v1M45 236v1M45 251v1M45 259v1M45 269v1M45 284v1M45 304v1M45 308v2M45 318v3M45 334v3M45 338v2M45 345v1M45 348v1M45 353v1M45 364v1M45 379v1M45 385v1M45 389v1M45 396v1M46 18v1M46 32v1M46 34v1M46 45v1M46 54v1M46 80v1M46 88v1M46 94v3M46 116v2M46 120v1M46 125v1M46 134v1M46 137v1M46 141v2M46 145v1M46 149v1M46 153v1M46 158v1M46 162v1M46 165v1M46 168v1M46 172v1M46 178v1M46 208v1M46 228v1M46 232v1M46 237v1M46 242v1M46 253v1M46 262v1M46 266v1M46 269v1M46 271v2M46 275v1M46 279v1M46 286v3M46 291v1M46 298v1M46 311v1M46 313v1M46 316v1M46 321v1M46 324v1M46 342v1M46 345v1M46 353v1M46 369v1M46 376v1M46 387v1M46 390v1M46 395v1M46 401v2M46 405v1M47 14v1M47 29v1M47 37v1M47 40v1M47 76v1M47 87v1M47 90v1M47 154v1M47 177v1M47 179v1M47 182v1M47 200v1M47 218v1M47 256v1M47 276v1M47 355v1M47 369v2M47 373v1M47 393v1M47 405v1M48 17v1M48 19v2M48 24v1M48 62v2M48 65v1M48 68v1M48 71v1M48 78v1M48 80v1M48 93v1M48 99v2M48 115v1M48 117v1M48 129v2M48 135v1M48 146v1M48 165v1M48 178v1M48 194v2M48 201v1M48 203v1M48 209v1M48 217v1M48 219v1M48 238v1M48 243v1M48 245v1M48 249v1M48 251v1M48 257v1M48 259v1M48 263v4M48 271v1M48 292v1M48 297v1M48 303v1M48 341v1M48 344v1M48 347v1M48 350v1M48 354v1M48 360v1M48 362v1M48 365v1M48 375v1M48 384v2M48 388v1M48 391v1M48 401v1M49 19v1M49 21v2M49 47v1M49 65v1M49 84v1M49 90v2M49 104v1M49 107v1M49 121v1M49 126v1M49 141v1M49 154v1M49 156v1M49 168v1M49 175v1M49 183v1M49 186v1M49 188v1M49 191v1M49 193v1M49 208v1M49 229v1M49 263v1M49 268v1M49 272v1M49 276v1M49 286v1M49 297v2M49 347v1M49 350v1M49 354v1M49 361v1M49 371v1M49 378v1M50 18v2M50 35v1M50 39v1M50 67v1M50 80v1M50 83v1M50 92v1M50 99v1M50 101v1M50 105v1M50 120v1M50 123v1M50 125v1M50 137v1M50 141v1M50 146v1M50 150v1M50 155v1M50 160v1M50 180v1M50 185v1M50 216v1M50 228v1M50 231v1M50 240v1M50 261v1M50 265v1M50 275v1M50 280v1M50 286v1M50 300v1M50 305v1M50 311v1M50 325v1M50 329v1M50 335v1M50 338v1M50 341v1M50 349v1M50 357v1M50 365v1M50 371v1M50 383v2M50 388v1M50 393v1M50 395v1M51 95v1M51 112v1M51 125v1M51 140v1M51 160v1M51 192v1M51 201v1M51 211v1M51 216v1M51 240v1M51 245v1M51 253v1M51 265v1M51 298v2M51 327v1M51 329v1M51 338v1M51 346v2M51 357v1M51 359v1M51 381v1M51 383v1M52 14v3M52 19v1M52 30v1M52 53v1M52 59v1M52 64v1M52 91v2M52 109v1M52 113v1M52 121v1M52 123v1M52 141v1M52 158v2M52 178v1M52 207v1M52 242v1M52 246v1M52 253v2M52 293v2M52 311v1M52 315v1M52 337v2M52 348v1M52 351v1M52 354v1M52 365v1M52 373v1M52 376v1M53 28v1M53 30v1M53 35v2M53 41v1M53 45v1M53 48v1M53 52v1M53 54v1M53 57v1M53 74v2M53 80v3M53 84v1M53 115v1M53 117v1M53 121v1M53 126v1M53 131v1M53 133v1M53 136v1M53 139v1M53 142v1M53 146v2M53 149v2M53 153v1M53 170v1M53 186v1M53 191v1M53 196v1M53 211v1M53 214v2M53 217v1M53 219v1M53 223v1M53 226v1M53 231v1M53 234v1M53 239v3M53 245v1M53 260v1M53 270v1M53 274v1M53 277v1M53 279v1M53 281v1M53 283v1M53 287v1M53 291v1M53 296v1M53 306v2M53 309v1M53 312v1M53 315v1M53 319v2M53 325v1M53 328v1M53 332v2M53 360v1M53 375v1M53 378v1M53 389v2M53 392v1M53 394v2M54 14v1M54 20v2M54 23v1M54 36v2M54 40v1M54 44v1M54 48v1M54 52v1M54 55v1M54 57v1M54 60v1M54 63v1M54 66v2M54 71v3M54 89v1M54 97v2M54 112v1M54 132v1M54 147v1M54 157v1M54 160v1M54 175v1M54 182v1M54 184v2M54 193v1M54 209v1M54 211v1M54 214v1M54 221v1M54 247v1M54 261v2M54 267v1M54 271v1M54 275v2M54 281v1M54 283v1M54 299v1M54 306v1M54 310v1M54 312v1M54 316v1M54 350v1M54 369v2M54 377v1M54 384v1M54 393v1M54 396v1M54 403v2M55 18v1M55 21v1M55 23v1M55 28v1M55 36v2M55 52v1M55 55v1M55 76v1M55 81v1M55 84v2M55 94v1M55 101v1M55 110v1M55 113v1M55 127v1M55 130v1M55 140v1M55 144v1M55 155v2M55 164v1M55 177v1M55 182v1M55 184v1M55 195v1M55 197v1M55 210v1M55 214v1M55 217v1M55 219v1M55 222v1M55 224v1M55 228v3M55 236v1M55 245v1M55 250v1M55 257v3M55 264v1M55 268v1M55 270v1M55 279v1M55 282v1M55 296v1M55 304v1M55 315v1M55 319v1M55 323v1M55 342v1M55 344v2M55 350v1M55 371v1M55 373v1M56 14v1M56 16v3M56 23v2M56 36v1M56 44v1M56 48v1M56 58v1M56 69v1M56 77v1M56 81v1M56 92v1M56 112v2M56 115v1M56 119v1M56 131v1M56 133v1M56 140v1M56 152v1M56 162v2M56 167v1M56 173v1M56 177v1M56 182v1M56 190v1M56 195v2M56 200v1M56 231v2M56 248v1M56 257v1M56 269v1M56 275v1M56 277v2M56 283v1M56 287v1M56 300v1M56 307v1M56 311v1M56 314v1M56 318v2M56 340v1M56 346v2M56 350v1M56 376v1M56 380v1M56 382v1M56 389v1M56 397v1M56 402v1M57 14v2M57 41v1M57 51v2M57 71v1M57 74v1M57 78v2M57 83v1M57 85v2M57 90v1M57 98v1M57 106v1M57 111v1M57 116v1M57 118v1M57 133v1M57 141v1M57 147v1M57 152v1M57 173v1M57 212v2M57 228v2M57 235v2M57 263v1M57 271v1M57 284v1M57 293v1M57 302v1M57 315v1M57 319v1M57 324v1M57 330v2M57 339v1M57 360v1M57 367v1M57 374v1M57 396v1M57 403v1M58 22v1M58 45v1M58 50v2M58 75v1M58 82v1M58 102v1M58 131v1M58 135v1M58 140v1M58 150v1M58 154v1M58 166v1M58 173v1M58 184v1M58 188v1M58 193v1M58 207v1M58 216v1M58 232v1M58 236v1M58 264v1M58 272v2M58 276v1M58 280v1M58 305v1M58 310v1M58 313v1M58 316v1M58 322v1M58 332v1M58 339v1M58 348v1M58 353v1M58 363v1M58 372v1M58 381v2M58 386v1M58 395v2M59 15v1M59 54v1M59 60v1M59 91v1M59 93v2M59 101v1M59 115v1M59 158v1M59 168v1M59 197v1M59 223v1M59 248v1M59 275v1M59 287v1M59 297v1M59 302v1M59 317v1M59 368v1M60 14v1M60 17v1M60 25v1M60 27v1M60 36v1M60 45v1M60 49v1M60 57v1M60 74v1M60 101v2M60 112v2M60 117v1M60 126v1M60 135v1M60 144v1M60 153v1M60 171v1M60 178v1M60 198v1M60 206v1M60 220v1M60 222v1M60 235v1M60 240v1M60 247v1M60 249v1M60 284v1M60 294v1M60 297v1M60 303v1M60 310v1M60 314v1M60 333v1M60 338v1M60 356v1M60 371v1M60 373v1M60 382v1M60 385v1M60 388v1M60 396v1M60 405v1M61 15v1M61 25v1M61 46v1M61 53v1M61 64v1M61 66v1M61 73v1M61 76v1M61 84v1M61 93v1M61 101v3M61 115v2M61 119v1M61 134v1M61 141v1M61 145v1M61 158v1M61 160v1M61 162v1M61 165v1M61 170v1M61 177v1M61 179v3M61 184v1M61 187v1M61 189v1M61 214v2M61 223v1M61 229v1M61 258v1M61 275v1M61 277v1M61 283v2M61 292v1M61 299v2M61 304v1M61 309v1M61 312v1M61 315v1M61 325v1M61 334v1M61 337v1M61 339v1M61 341v1M61 346v1M61 350v2M61 354v1M61 363v1M61 378v1M61 382v1M61 384v1M61 386v1M61 389v1M61 398v1M62 13v1M62 23v1M62 33v1M62 35v1M62 40v1M62 45v1M62 48v1M62 55v1M62 57v1M62 60v1M62 66v1M62 69v1M62 76v2M62 80v2M62 88v1M62 94v1M62 102v1M62 110v1M62 118v1M62 129v1M62 134v1M62 139v1M62 142v1M62 147v1M62 150v1M62 167v2M62 171v1M62 175v3M62 180v1M62 189v1M62 195v1M62 215v1M62 218v1M62 227v1M62 236v1M62 239v1M62 243v1M62 250v1M62 254v1M62 256v1M62 265v1M62 273v1M62 276v1M62 292v1M62 295v1M62 301v1M62 305v1M62 311v2M62 315v1M62 323v1M62 349v1M62 354v1M62 362v1M62 364v1M62 368v1M62 373v1M62 383v1M62 385v1M62 392v1M62 396v1M62 398v1M62 402v2M63 45v1M63 50v1M63 71v1M63 89v1M63 97v1M63 125v1M63 140v1M63 153v1M63 159v1M63 180v2M63 222v1M63 244v1M63 277v1M63 285v1M63 320v1M63 370v1M63 388v1M64 13v1M64 18v1M64 20v2M64 27v1M64 32v1M64 35v1M64 47v1M64 61v1M64 65v1M64 69v1M64 71v1M64 76v1M64 79v1M64 81v1M64 85v1M64 95v1M64 103v2M64 112v1M64 114v1M64 135v1M64 139v1M64 145v2M64 148v1M64 152v1M64 159v1M64 175v1M64 187v1M64 189v1M64 191v1M64 199v1M64 203v2M64 207v1M64 221v2M64 225v1M64 233v1M64 245v1M64 253v1M64 266v1M64 271v1M64 275v1M64 278v1M64 300v1M64 303v1M64 308v1M64 319v1M64 331v1M64 344v1M64 358v1M64 360v2M64 365v1M64 367v1M64 378v2M64 381v1M64 387v1M64 403v1M65 17v1M65 26v1M65 34v1M65 42v2M65 49v1M65 55v1M65 63v1M65 77v1M65 79v2M65 84v1M65 95v1M65 97v1M65 106v1M65 116v1M65 141v1M65 156v1M65 160v1M65 168v1M65 179v1M65 187v1M65 198v1M65 219v1M65 233v1M65 241v1M65 251v1M65 266v1M65 270v1M65 273v1M65 281v1M65 283v1M65 288v1M65 297v2M65 306v1M65 308v1M65 312v1M65 314v3M65 331v1M65 350v1M65 352v1M65 374v1M65 376v1M65 379v1M65 394v1M65 399v1M65 405v1M66 13v1M66 17v2M66 28v1M66 41v1M66 55v1M66 63v1M66 70v1M66 79v2M66 87v1M66 96v1M66 131v2M66 151v1M66 164v2M66 168v1M66 174v1M66 195v1M66 199v1M66 210v1M66 212v1M66 222v1M66 237v1M66 242v1M66 247v1M66 251v1M66 255v1M66 257v2M66 268v1M66 270v1M66 276v1M66 301v1M66 310v1M66 314v1M66 319v1M66 325v1M66 342v1M66 346v1M66 380v1M66 390v1M67 21v1M67 28v1M67 41v1M67 43v2M67 50v1M67 53v1M67 56v2M67 60v1M67 62v1M67 64v1M67 93v1M67 105v1M67 115v1M67 135v1M67 151v1M67 159v1M67 165v1M67 168v1M67 173v1M67 180v1M67 183v1M67 188v2M67 198v1M67 205v1M67 207v2M67 210v1M67 221v1M67 253v1M67 257v1M67 265v1M67 273v1M67 277v1M67 279v1M67 287v1M67 295v1M67 304v1M67 306v2M67 312v1M67 324v3M67 331v1M67 336v1M67 344v2M67 348v2M67 354v1M67 366v2M67 374v1M67 380v1M67 383v1M68 15v2M68 43v1M68 55v1M68 61v1M68 129v1M68 150v1M68 209v1M68 269v1M68 293v1M68 301v1M68 325v1M68 340v1M68 400v1M68 402v1M69 14v1M69 35v1M69 37v1M69 43v1M69 61v1M69 68v1M69 74v1M69 87v1M69 101v1M69 158v1M69 164v1M69 169v1M69 178v1M69 183v1M69 189v1M69 197v1M69 202v1M69 230v2M69 250v1M69 255v1M69 258v1M69 264v1M69 292v1M69 294v1M69 304v1M69 306v1M69 310v1M69 312v2M69 325v1M69 336v1M69 346v1M69 372v1M69 379v1M69 397v1M70 18v1M70 66v1M70 75v1M70 84v1M70 91v1M70 125v1M70 150v1M70 155v1M70 167v1M70 170v1M70 215v1M70 245v1M70 260v1M70 269v2M70 326v1M70 331v1M70 344v1M70 349v1M70 403v1M71 32v1M71 37v1M71 96v1M71 101v1M71 105v1M71 121v1M71 123v2M71 126v1M71 132v1M71 177v1M71 185v1M71 201v1M71 206v1M71 209v1M71 211v2M71 237v1M71 255v1M71 260v1M71 269v1M71 279v1M71 288v1M71 298v1M71 307v1M71 316v1M71 323v1M71 333v1M71 354v1M71 363v1M71 368v1M71 396v1M71 398v1M72 50v1M72 52v1M72 74v3M72 80v2M72 86v1M72 89v2M72 94v1M72 97v4M72 103v1M72 107v1M72 109v1M72 113v1M72 116v2M72 122v1M72 135v2M72 144v1M72 151v1M72 167v1M72 172v1M72 174v1M72 189v1M72 201v1M72 221v1M72 234v2M72 251v1M72 258v1M72 283v1M72 294v1M72 298v1M72 306v1M72 322v1M72 324v1M72 336v1M72 345v1M72 347v1M72 351v1M72 357v1M72 360v1M72 389v1M72 393v2M72 399v1M72 402v1M73 20v2M73 25v1M73 28v1M73 34v1M73 71v1M73 84v1M73 94v1M73 99v1M73 101v1M73 110v1M73 124v1M73 131v1M73 144v1M73 166v1M73 176v1M73 180v1M73 203v1M73 209v1M73 212v1M73 223v1M73 246v1M73 249v1M73 261v1M73 287v2M73 302v1M73 304v1M73 307v1M73 315v1M73 326v1M73 332v1M73 351v1M73 358v1M73 365v1M73 373v1M73 382v1M73 385v1M73 392v2M73 395v3M73 400v1M74 17v1M74 21v1M74 24v2M74 27v1M74 30v1M74 35v1M74 37v1M74 41v2M74 46v2M74 59v2M74 62v1M74 96v1M74 99v1M74 108v1M74 110v1M74 116v1M74 118v3M74 129v1M74 138v1M74 147v1M74 153v1M74 155v2M74 166v2M74 169v1M74 172v1M74 180v1M74 189v1M74 192v1M74 199v1M74 209v1M74 223v1M74 239v1M74 249v1M74 263v1M74 277v1M74 281v2M74 287v1M74 296v1M74 299v1M74 303v1M74 307v1M74 325v1M74 336v2M74 344v1M74 346v1M74 350v1M74 355v2M74 363v1M74 365v1M74 369v1M74 377v2M74 384v1M74 396v1M74 401v1M74 404v1M75 20v1M75 22v1M75 51v1M75 55v1M75 63v1M75 80v1M75 88v1M75 91v1M75 97v1M75 107v1M75 111v1M75 113v1M75 119v1M75 122v2M75 127v1M75 133v1M75 137v1M75 141v1M75 171v1M75 180v1M75 189v1M75 198v1M75 223v1M75 229v1M75 243v1M75 258v1M75 263v1M75 277v1M75 334v1M75 343v1M75 355v1M75 357v1M75 369v1M75 371v1M75 377v1M75 383v1M76 21v1M76 38v1M76 74v2M76 81v1M76 91v1M76 117v1M76 159v1M76 171v1M76 203v1M76 234v1M76 241v1M76 254v1M76 273v1M76 276v1M76 286v1M76 313v1M76 353v1M76 363v1M77 26v1M77 34v1M77 49v1M77 87v1M77 91v1M77 97v1M77 104v1M77 112v1M77 116v1M77 126v1M77 130v1M77 138v1M77 146v1M77 188v1M77 201v1M77 205v1M77 219v1M77 226v1M77 234v1M77 247v1M77 250v1M77 270v1M77 289v1M77 301v1M77 326v1M77 332v1M77 337v1M77 341v1M77 381v1M77 385v1M77 394v1M78 31v2M78 37v1M78 39v1M78 43v1M78 45v1M78 50v1M78 54v1M78 74v1M78 79v1M78 112v1M78 117v1M78 131v3M78 135v2M78 142v1M78 148v1M78 155v1M78 157v1M78 161v1M78 172v1M78 175v1M78 177v1M78 190v1M78 192v1M78 195v1M78 207v1M78 217v1M78 220v2M78 227v1M78 236v1M78 247v1M78 249v1M78 253v1M78 265v1M78 274v1M78 278v1M78 283v1M78 299v1M78 309v1M78 312v1M78 318v1M78 323v1M78 326v1M78 331v5M78 342v1M78 347v1M78 354v1M78 365v1M78 368v1M78 380v1M78 382v1M78 395v2M78 402v1M79 21v2M79 24v2M79 36v1M79 46v1M79 48v1M79 51v2M79 61v1M79 75v1M79 83v1M79 89v1M79 91v1M79 102v1M79 120v1M79 122v1M79 134v2M79 141v1M79 148v3M79 163v1M79 165v1M79 169v1M79 173v3M79 180v1M79 185v1M79 193v1M79 199v1M79 202v1M79 207v1M79 215v1M79 219v3M79 226v1M79 231v2M79 236v2M79 241v1M79 246v1M79 253v2M79 256v1M79 278v1M79 291v1M79 309v1M79 315v1M79 323v1M79 325v1M79 330v1M79 332v1M79 335v2M79 345v1M79 350v1M79 354v2M79 361v1M79 369v2M79 376v2M79 387v2M79 391v1M79 400v1M80 17v2M80 22v1M80 38v2M80 55v1M80 69v1M80 91v1M80 100v1M80 109v1M80 113v1M80 126v2M80 133v1M80 145v2M80 159v3M80 172v1M80 179v1M80 182v1M80 189v1M80 199v1M80 205v1M80 215v1M80 221v1M80 225v1M80 245v1M80 247v1M80 260v1M80 266v1M80 272v1M80 283v1M80 306v1M81 17v1M81 27v2M81 34v1M81 43v1M81 63v1M81 66v2M81 70v2M81 73v1M81 76v1M81 79v2M81 87v1M81 91v1M81 95v1M81 98v1M81 100v1M81 102v1M81 127v1M81 130v1M81 132v2M81 144v1M81 154v1M81 165v1M81 169v1M81 176v1M81 179v1M81 189v1M81 193v1M81 195v1M81 204v1M81 206v1M81 212v1M81 214v1M81 218v1M81 221v1M81 226v1M81 239v1M81 241v1M81 244v1M81 260v2M81 269v1M81 282v4M81 294v1M81 296v1M81 306v2M81 310v2M81 319v1M81 328v1M81 331v1M81 336v2M81 346v1M81 350v1M81 352v1M81 367v1M81 371v2M81 377v1M81 382v1M81 384v1M82 21v2M82 25v1M82 27v3M82 37v2M82 46v2M82 61v1M82 72v1M82 91v1M82 93v1M82 112v1M82 117v2M82 126v1M82 159v1M82 177v1M82 183v1M82 186v1M82 191v2M82 200v1M82 204v1M82 206v1M82 208v1M82 211v1M82 221v1M82 238v2M82 241v2M82 254v1M82 259v1M82 266v1M82 268v1M82 272v1M82 275v1M82 277v1M82 281v1M82 283v1M82 286v1M82 290v1M82 292v1M82 299v1M82 311v2M82 322v2M82 326v1M82 334v1M82 341v1M82 345v1M82 350v1M82 378v1M82 382v1M82 387v1M82 398v2M82 401v1M83 18v3M83 22v1M83 26v1M83 37v1M83 47v1M83 71v1M83 92v2M83 101v1M83 120v1M83 122v2M83 154v1M83 160v2M83 179v1M83 188v1M83 195v1M83 208v1M83 213v1M83 215v1M83 217v1M83 236v1M83 284v1M83 306v1M83 327v1M83 333v1M83 337v1M83 372v1M83 379v1M83 382v1M83 385v1M83 387v1M83 399v1M84 19v2M84 31v1M84 34v2M84 47v1M84 55v1M84 65v1M84 68v1M84 73v1M84 87v1M84 90v1M84 104v1M84 135v1M84 143v1M84 150v2M84 156v1M84 165v1M84 169v1M84 179v1M84 188v1M84 204v1M84 211v1M84 218v1M84 223v1M84 230v1M84 233v1M84 236v1M84 243v2M84 247v1M84 250v1M84 281v1M84 285v1M84 300v1M84 303v1M84 322v1M84 324v1M84 335v1M84 340v1M84 348v2M84 359v1M84 362v1M84 364v1M84 366v2M84 369v1M84 391v1M84 396v1M84 404v1M85 25v1M85 27v1M85 30v1M85 44v1M85 59v1M85 64v1M85 67v1M85 70v1M85 73v1M85 78v1M85 82v1M85 86v1M85 91v2M85 111v1M85 117v1M85 144v1M85 155v1M85 157v1M85 159v1M85 164v1M85 167v1M85 172v1M85 174v1M85 178v1M85 206v2M85 214v1M85 216v1M85 231v2M85 241v1M85 244v2M85 251v1M85 276v1M85 279v1M85 284v1M85 305v1M85 307v1M85 309v2M85 312v1M85 318v1M85 325v1M85 340v1M85 342v1M85 350v1M85 352v1M85 359v1M85 361v2M85 384v1M85 393v1M85 400v2M86 16v1M86 18v1M86 21v1M86 38v1M86 45v1M86 66v1M86 75v1M86 86v1M86 98v1M86 108v1M86 115v2M86 133v1M86 144v1M86 159v1M86 171v1M86 175v1M86 179v1M86 194v1M86 201v1M86 206v1M86 225v2M86 229v1M86 232v1M86 258v1M86 260v1M86 263v1M86 265v1M86 270v1M86 286v1M86 307v1M86 312v1M86 344v2M86 361v1M86 370v1M86 372v1M86 385v1M86 397v1M86 401v1M86 403v1M87 16v1M87 29v1M87 48v1M87 55v1M87 61v1M87 67v1M87 72v1M87 80v1M87 82v1M87 92v1M87 102v1M87 104v1M87 107v1M87 115v1M87 120v2M87 127v1M87 130v1M87 139v1M87 143v1M87 150v1M87 158v1M87 172v1M87 183v1M87 187v1M87 191v1M87 196v1M87 204v1M87 214v1M87 217v1M87 219v1M87 225v1M87 233v1M87 252v1M87 258v1M87 260v1M87 277v1M87 283v1M87 290v1M87 296v1M87 306v1M87 308v1M87 314v1M87 324v1M87 336v1M87 347v1M87 355v1M87 366v1M87 378v1M87 381v1M87 390v1M87 399v1M88 17v1M88 23v1M88 51v1M88 56v1M88 322v1M88 324v1M88 367v1M88 371v1M88 373v1M89 17v1M89 19v1M89 21v1M89 36v3M89 43v1M89 56v1M89 69v1M89 71v1M89 79v1M89 82v1M89 94v1M89 107v1M89 139v1M89 141v1M89 144v1M89 151v1M89 154v1M89 167v1M89 172v1M89 207v1M89 209v1M89 215v1M89 228v1M89 237v1M89 242v1M89 250v3M89 255v1M89 258v2M89 263v1M89 269v2M89 272v2M89 276v1M89 288v1M89 296v1M89 302v1M89 305v1M89 314v3M89 319v1M89 342v2M89 353v1M89 358v1M89 368v2M89 385v1M90 16v2M90 19v1M90 32v2M90 36v1M90 40v1M90 45v1M90 52v1M90 58v1M90 94v1M90 110v1M90 129v1M90 154v1M90 199v1M90 204v2M90 208v1M90 214v1M90 217v1M90 221v1M90 225v1M90 229v1M90 235v1M90 238v1M90 241v2M90 263v1M90 269v3M90 273v2M90 276v1M90 278v1M90 281v1M90 298v1M90 312v2M90 315v1M90 322v2M90 326v1M90 335v1M90 346v1M90 354v2M90 360v1M90 364v1M90 371v1M90 383v1M90 391v1M90 397v2M91 16v1M91 19v1M91 24v1M91 37v1M91 39v1M91 45v2M91 61v1M91 80v1M91 83v1M91 91v1M91 94v1M91 109v1M91 112v1M91 137v1M91 141v1M91 143v1M91 164v1M91 167v1M91 184v1M91 193v1M91 232v1M91 241v1M91 251v1M91 255v1M91 263v1M91 267v1M91 276v1M91 278v1M91 280v1M91 283v1M91 291v2M91 299v1M91 318v1M91 343v1M91 363v1M91 378v1M91 381v1M91 385v1M91 391v1M91 393v1M91 397v1M92 15v1M92 23v1M92 25v1M92 36v1M92 44v1M92 85v1M92 95v1M92 118v1M92 122v1M92 124v1M92 126v1M92 137v1M92 143v1M92 153v1M92 157v2M92 166v1M92 187v1M92 199v1M92 202v2M92 208v2M92 212v1M92 217v2M92 220v1M92 222v1M92 227v1M92 232v1M92 236v1M92 242v4M92 258v1M92 272v2M92 280v1M92 288v1M92 291v1M92 295v1M92 307v2M92 315v1M92 319v1M92 322v1M92 329v3M92 336v1M92 338v1M92 344v1M92 348v2M92 353v1M92 364v1M92 372v1M92 374v3M92 388v2M92 405v1M93 16v2M93 61v1M93 101v2M93 109v1M93 137v1M93 157v1M93 166v1M93 170v1M93 180v1M93 199v1M93 222v1M93 244v1M93 254v1M93 256v1M93 265v1M93 268v1M93 276v1M93 286v1M93 295v1M93 299v1M93 330v1M93 365v1M93 373v1M93 381v1M94 36v2M94 45v1M94 58v2M94 77v1M94 91v1M94 104v1M94 107v1M94 113v1M94 123v1M94 126v1M94 146v1M94 150v1M94 153v2M94 157v2M94 163v1M94 176v1M94 194v1M94 223v1M94 230v1M94 232v1M94 260v1M94 286v1M94 326v1M94 331v1M94 334v1M94 340v1M94 342v1M94 348v3M94 352v2M94 358v1M94 360v2M94 363v1M94 369v3M94 377v1M94 379v1M94 402v1M95 14v1M95 17v2M95 39v2M95 44v2M95 51v1M95 56v1M95 60v1M95 62v1M95 72v1M95 78v1M95 81v1M95 83v1M95 85v2M95 97v1M95 110v1M95 121v3M95 135v1M95 140v1M95 155v1M95 170v1M95 172v1M95 177v2M95 183v1M95 193v1M95 205v1M95 207v1M95 217v1M95 220v1M95 227v1M95 230v1M95 238v1M95 245v1M95 264v1M95 301v1M95 308v1M95 328v1M95 330v1M95 344v1M95 346v1M95 348v1M95 361v1M95 363v1M95 368v1M95 376v1M95 384v1M95 398v1M95 400v1M96 17v1M96 20v1M96 22v1M96 34v1M96 40v1M96 43v1M96 46v1M96 61v1M96 69v1M96 81v1M96 86v2M96 99v1M96 121v2M96 129v1M96 136v1M96 146v1M96 155v1M96 201v1M96 203v1M96 205v1M96 207v1M96 212v1M96 214v1M96 217v1M96 227v1M96 236v1M96 238v1M96 241v1M96 243v1M96 246v1M96 254v1M96 283v1M96 291v1M96 305v1M96 310v1M96 320v2M96 340v1M96 355v1M96 358v1M96 384v1M96 388v1M96 391v1M97 16v1M97 22v1M97 32v1M97 59v1M97 71v1M97 83v1M97 113v1M97 125v1M97 138v1M97 141v1M97 187v1M97 196v1M97 206v1M97 216v1M97 221v1M97 228v1M97 263v1M97 267v1M97 272v1M97 286v1M97 290v1M97 302v1M97 311v1M97 317v1M97 332v1M97 341v2M97 345v1M97 358v1M97 400v1M98 14v1M98 18v1M98 21v1M98 40v1M98 54v1M98 75v2M98 79v1M98 89v1M98 93v1M98 140v1M98 151v1M98 171v1M98 208v1M98 246v1M98 330v1M98 351v1M98 371v1M98 384v1M98 398v1M99 17v1M99 19v1M99 37v2M99 43v1M99 45v1M99 47v1M99 54v1M99 71v1M99 73v1M99 76v1M99 84v1M99 86v1M99 92v1M99 102v2M99 105v1M99 118v2M99 123v1M99 127v1M99 132v2M99 142v2M99 152v1M99 164v1M99 168v1M99 189v2M99 193v1M99 209v1M99 212v1M99 222v1M99 229v1M99 275v1M99 277v1M99 294v1M99 299v1M99 307v1M99 335v1M99 342v1M99 345v1M99 351v1M99 375v1M99 377v2M99 389v1M99 391v1M99 393v2M99 401v2M99 404v1M100 24v1M100 28v1M100 32v1M100 40v1M100 52v1M100 55v1M100 57v1M100 62v1M100 68v1M100 70v1M100 72v1M100 85v1M100 88v1M100 91v1M100 94v1M100 105v1M100 108v1M100 111v1M100 116v1M100 121v1M100 123v1M100 125v1M100 127v1M100 130v2M100 138v1M100 142v1M100 146v1M100 152v1M100 158v1M100 171v1M100 186v2M100 193v1M100 209v1M100 218v1M100 222v1M100 226v1M100 228v1M100 234v1M100 241v1M100 244v1M100 253v1M100 255v1M100 269v1M100 274v1M100 287v3M100 305v1M100 307v1M100 311v1M100 314v1M100 323v1M100 325v1M100 335v1M100 339v1M100 345v2M100 351v1M100 354v1M100 368v1M100 374v1M100 386v1M101 19v1M101 27v3M101 56v1M101 68v1M101 71v1M101 80v1M101 84v1M101 91v2M101 100v2M101 103v1M101 108v1M101 128v1M101 132v1M101 134v1M101 143v1M101 149v2M101 153v1M101 160v1M101 167v1M101 169v1M101 176v1M101 179v1M101 182v1M101 186v1M101 192v1M101 206v1M101 216v1M101 220v1M101 222v1M101 229v1M101 231v2M101 239v1M101 248v1M101 264v2M101 277v1M101 281v1M101 301v1M101 304v2M101 311v1M101 314v1M101 317v1M101 328v1M101 330v1M101 332v1M101 335v1M101 337v1M101 347v1M101 351v1M101 355v1M101 357v1M101 359v1M101 361v1M101 365v1M101 379v2M101 400v1M102 0v1M102 25v1M102 30v1M102 36v1M102 40v1M102 48v1M102 51v1M102 54v1M102 56v1M102 60v1M102 63v2M102 70v1M102 72v1M102 83v1M102 85v1M102 94v1M102 96v1M102 108v1M102 112v1M102 124v1M102 129v1M102 142v1M102 148v1M102 151v1M102 159v1M102 164v3M102 170v1M102 176v2M102 182v1M102 191v1M102 194v2M102 199v1M102 205v1M102 214v1M102 216v1M102 222v1M102 236v1M102 245v1M102 260v1M102 263v1M102 265v1M102 269v3M102 276v1M102 279v1M102 281v1M102 283v3M102 293v1M102 305v1M102 310v1M102 314v1M102 324v1M102 327v1M102 337v1M102 339v1M102 342v1M102 344v1M102 346v1M102 348v1M102 350v1M102 355v3M102 361v2M102 368v1M102 371v1M102 374v1M102 381v1M102 383v1M102 392v1M102 394v1M102 397v1M102 401v1M103 19v1M103 25v1M103 27v1M103 31v1M103 34v1M103 46v1M103 68v1M103 70v1M103 81v1M103 89v1M103 93v1M103 102v1M103 106v1M103 112v1M103 119v1M103 135v1M103 145v1M103 150v1M103 176v1M103 184v1M103 194v1M103 198v1M103 200v1M103 210v1M103 218v1M103 220v1M103 229v1M103 252v1M103 267v1M103 274v1M103 276v1M103 288v1M103 306v2M103 316v1M103 325v2M103 342v1M103 351v1M103 354v2M103 371v2M103 380v2M103 384v1M103 391v1M103 394v1M103 399v1M104 16v1M104 18v1M104 29v1M104 35v1M104 37v1M104 39v1M104 45v1M104 53v1M104 58v1M104 62v1M104 76v1M104 81v1M104 93v1M104 95v1M104 98v1M104 101v1M104 106v2M104 111v1M104 113v1M104 129v1M104 134v1M104 137v1M104 170v1M104 175v1M104 179v1M104 192v1M104 194v1M104 197v2M104 209v1M104 212v1M104 217v1M104 221v1M104 237v1M104 243v1M104 249v1M104 253v1M104 256v2M104 262v1M104 266v1M104 271v1M104 277v1M104 286v1M104 290v1M104 297v1M104 306v1M104 321v1M104 333v1M104 338v2M104 341v1M104 345v1M104 357v1M104 361v1M104 370v2M104 374v3M104 381v1M104 384v1M104 392v1M104 397v2M105 19v2M105 29v1M105 35v2M105 46v1M105 50v1M105 60v1M105 99v1M105 103v1M105 108v1M105 117v1M105 137v1M105 155v1M105 173v1M105 183v1M105 190v1M105 193v1M105 196v1M105 202v1M105 207v1M105 209v1M105 222v1M105 246v1M105 248v1M105 253v2M105 275v1M105 286v1M105 303v1M105 321v1M105 326v1M105 328v1M105 330v1M105 334v1M105 339v1M105 347v1M105 349v1M105 363v1M105 367v1M105 369v1M105 373v1M105 375v1M105 381v1M105 388v1M105 396v1M106 17v1M106 19v1M106 22v2M106 25v1M106 33v1M106 43v1M106 46v1M106 70v2M106 87v1M106 91v2M106 97v1M106 99v1M106 111v1M106 113v3M106 117v2M106 122v1M106 125v2M106 128v2M106 135v1M106 141v1M106 153v4M106 161v1M106 174v2M106 178v2M106 183v1M106 185v1M106 190v1M106 194v1M106 198v1M106 207v1M106 209v1M106 211v1M106 221v1M106 228v1M106 234v1M106 238v1M106 242v1M106 246v3M106 252v1M106 264v1M106 272v1M106 278v1M106 280v1M106 282v1M106 286v1M106 291v2M106 294v1M106 296v1M106 299v1M106 302v1M106 315v1M106 320v1M106 331v1M106 337v1M106 344v2M106 361v2M106 372v1M106 379v1M106 396v1M108 16v1M108 22v1M108 36v1M108 38v1M108 48v2M108 51v3M108 78v1M108 85v3M108 92v2M108 95v1M108 99v1M108 104v1M108 106v1M108 112v1M108 116v1M108 120v2M108 125v1M108 133v3M108 160v1M108 173v1M108 177v1M108 184v1M108 186v1M108 189v1M108 191v1M108 195v1M108 199v1M108 205v1M108 214v1M108 229v1M108 241v1M108 247v1M108 250v1M108 263v1M108 269v1M108 272v1M108 275v1M108 279v1M108 287v1M108 295v1M108 315v1M108 320v1M108 325v3M108 332v1M108 338v1M108 352v1M108 359v1M108 364v1M108 375v2M108 380v1M108 385v1M108 387v3M108 395v1M110 19v1M110 21v1M110 29v1M110 31v1M110 35v1M110 45v2M110 49v1M110 56v1M110 60v1M110 72v1M110 81v1M110 85v1M110 95v1M110 97v1M110 99v2M110 103v1M110 107v1M110 112v2M110 115v2M110 122v2M110 130v1M110 133v1M110 138v1M110 143v1M110 157v1M110 163v1M110 166v1M110 171v1M110 176v1M110 183v3M110 190v1M110 196v1M110 200v1M110 211v1M110 214v2M110 221v1M110 230v1M110 236v1M110 253v1M110 257v1M110 272v1M110 288v1M110 290v3M110 302v1M110 304v1M110 311v1M110 313v1M110 317v1M110 323v2M110 335v2M110 348v1M110 356v1M110 369v2M110 376v2M110 381v1M110 389v1M110 392v2M112 16v1M112 19v1M112 24v1M112 38v3M112 42v1M112 51v1M112 65v2M112 71v2M112 75v1M112 77v1M112 92v1M112 100v1M112 103v1M112 107v1M112 111v1M112 123v1M112 126v1M112 130v1M112 142v1M112 149v1M112 157v1M112 163v1M112 172v1M112 176v1M112 211v2M112 243v1M112 245v1M112 267v1M112 274v1M112 282v1M112 293v1M112 296v1M112 301v1M112 304v2M112 314v1M112 337v1M112 339v1M112 345v1M112 355v1M112 357v1M112 385v1M112 388v1M112 391v1M114 17v1M114 40v1M114 45v1M114 59v1M114 68v1M114 70v2M114 85v1M114 95v1M114 103v1M114 105v1M114 132v2M114 136v1M114 139v1M114 144v1M114 160v2M114 164v1M114 167v1M114 170v1M114 176v1M114 186v1M114 190v1M114 210v1M114 212v1M114 216v3M114 220v1M114 223v1M114 236v1M114 241v2M114 286v1M114 295v1M114 305v1M114 320v1M114 322v1M114 324v1M114 330v1M114 343v2M114 350v1M114 356v1M114 360v2M114 367v1M114 376v1M114 387v1M114 394v2M114 400v1M116 22v1M116 26v1M116 30v1M116 36v2M116 54v1M116 65v1M116 73v1M116 95v1M116 97v1M116 99v1M116 114v1M116 123v1M116 128v1M116 130v1M116 136v2M116 146v1M116 157v1M116 160v1M116 165v2M116 171v1M116 176v1M116 184v2M116 189v2M116 211v1M116 223v1M116 225v1M116 232v2M116 237v1M116 241v1M116 250v1M116 252v1M116 257v1M116 264v1M116 270v1M116 276v3M116 280v2M116 284v1M116 296v1M116 299v1M116 303v1M116 307v1M116 311v1M116 319v1M116 336v2M116 359v1M116 370v1M116 373v2M116 380v1M116 385v2M116 393v1M116 396v1M116 400v1M116 402v1M118 25v1M118 38v1M118 48v1M118 55v1M118 59v1M118 72v1M118 74v1M118 85v1M118 93v1M118 115v1M118 120v1M118 135v1M118 144v1M118 147v1M118 161v1M118 186v1M118 194v1M118 205v1M118 209v1M118 211v2M118 236v2M118 241v1M118 256v1M118 262v1M118 272v1M118 279v1M118 302v1M118 307v1M118 314v1M118 334v3M118 346v1M118 349v1M118 353v1M118 359v1M118 368v1M118 379v1M118 389v1M118 394v1M118 404v1M120 17v1M120 25v1M120 29v1M120 34v1M120 37v1M120 45v3M120 51v1M120 64v1M120 73v1M120 76v1M120 89v1M120 96v1M120 111v1M120 118v1M120 134v1M120 139v1M120 142v1M120 159v1M120 163v1M120 165v1M120 168v1M120 186v1M120 191v1M120 194v1M120 208v1M120 221v2M120 226v1M120 252v2M120 260v1M120 275v1M120 278v1M120 282v2M120 286v2M120 294v1M120 297v1M120 302v1M120 305v1M120 307v1M120 315v1M120 321v1M120 337v1M120 344v1M120 358v1M120 360v2M120 364v2M120 380v1M120 383v1M120 392v1M125 17v1M125 19v1M125 29v1M125 38v1M125 48v1M125 56v1M125 59v2M125 64v1M125 67v2M125 71v1M125 78v1M125 81v1M125 96v1M125 110v1M125 115v1M125 118v1M125 126v1M125 133v1M125 135v1M125 137v1M125 139v1M125 143v1M125 146v1M125 154v2M125 159v2M125 164v1M125 171v1M125 179v1M125 188v1M125 190v1M125 202v1M125 210v2M125 219v2M125 222v1M125 229v1M125 244v1M125 249v1M125 254v1M125 257v1M125 260v1M125 266v1M125 272v1M125 275v1M125 283v1M125 291v1M125 298v1M125 329v1M125 368v1M125 374v1M125 379v1M125 382v1M125 387v1M125 399v1M125 403v1M130 29v1M130 34v2M130 37v1M130 47v1M130 52v1M130 63v1M130 91v1M130 115v1M130 128v1M130 132v1M130 159v1M130 168v1M130 170v1M130 175v1M130 212v2M130 227v1M130 231v1M130 245v1M130 254v1M130 269v1M130 272v2M130 277v1M130 296v1M130 310v1M130 321v1M130 377v1M130 380v1M130 387v1M130 394v1M130 397v1M135 18v1M135 28v1M135 31v1M135 34v1M135 41v1M135 49v1M135 53v1M135 55v1M135 58v1M135 66v1M135 72v1M135 79v1M135 85v1M135 88v3M135 98v2M135 102v1M135 108v1M135 116v1M135 121v1M135 142v1M135 156v1M135 162v1M135 185v3M135 192v1M135 203v1M135 207v1M135 210v1M135 212v1M135 215v1M135 220v1M135 222v1M135 232v1M135 235v1M135 248v1M135 256v1M135 274v1M135 282v1M135 285v1M135 290v2M135 298v1M135 307v1M135 311v1M135 313v1M135 317v1M135 325v1M135 363v1M135 379v1M135 384v1M135 389v2M135 394v1M135 396v1M135 400v1M135 403v1M140 23v1M140 31v1M140 36v1M140 48v2M140 61v1M140 65v1M140 75v1M140 98v1M140 108v1M140 113v1M140 119v2M140 124v4M140 157v1M140 168v2M140 171v1M140 177v1M140 186v1M140 199v1M140 211v1M140 219v1M140 226v1M140 247v1M140 264v1M140 272v1M140 285v1M140 291v2M140 294v1M140 297v1M140 325v2M140 329v1M140 332v1M140 349v1M140 372v2M140 381v1M140 384v1M140 391v1M145 25v2M145 34v1M145 51v1M145 61v1M145 73v1M145 76v1M145 79v1M145 84v1M145 91v2M145 97v1M145 103v1M145 123v3M145 134v1M145 143v1M145 146v1M145 149v1M145 151v1M145 160v1M145 166v1M145 168v1M145 172v2M145 185v1M145 188v1M145 201v1M145 205v1M145 209v1M145 219v1M145 223v1M145 236v1M145 250v1M145 260v3M145 267v1M145 272v1M145 288v1M145 304v1M145 324v1M145 352v1M145 366v1M145 372v1M145 382v1M145 393v1M145 405v1M150 24v1M150 32v1M150 41v1M150 44v2M150 48v1M150 54v1M150 57v1M150 61v1M150 66v1M150 70v1M150 75v1M150 77v1M150 99v2M150 102v2M150 106v1M150 111v2M150 119v1M150 129v1M150 138v2M150 148v1M150 162v1M150 171v1M150 180v2M150 190v1M150 192v1M150 196v1M150 203v1M150 209v1M150 213v1M150 215v1M150 225v2M150 228v1M150 232v1M150 246v2M150 259v3M150 276v1M150 289v2M150 293v1M150 299v1M150 308v1M150 311v1M150 319v1M150 324v1M150 328v2M150 331v1M150 348v2M150 364v1M150 368v1M150 379v3M150 383v1M150 386v1M150 393v1M150 400v1M150 403v1"/>
<path stroke="#482475" d="M0 9v1M0 13v1M0 50v1M0 56v1M0 86v1M0 91v1M0 97v1M0 106v2M0 121v1M0 134v1M0 160v2M0 165v1M0 217v3M0 237v1M0 247v1M0 270v1M0 274v1M0 279v1M0 281v1M0 305v1M0 308v1M0 329v1M0 344v1M0 348v1M0 351v1M0 366v1M0 369v1M0 380v1M0 389v1M0 403v1M1 9v1M1 97v1M1 127v1M1 130v1M1 143v1M1 150v1M1 158v1M1 170v1M1 181v1M1 211v1M1 218v1M1 221v2M1 293v1M1 298v1M1 320v1M1 334v1M2 31v1M2 58v1M2 75v1M2 78v1M2 82v1M2 95v1M2 106v1M2 110v2M2 134v1M2 138v1M2 151v1M2 182v1M2 217v1M2 220v1M2 248v1M2 250v1M2 274v1M2 277v1M2 288v1M2 314v1M2 392v1M3 19v1M3 36v1M3 45v1M3 52v2M3 58v1M3 74v1M3 92v1M3 117v1M3 132v1M3 145v3M3 153v2M3 164v1M3 183v2M3 201v1M3 220v1M3 229v2M3 232v2M3 237v1M3 239v1M3 242v1M3 265v1M3 271v1M3 290v1M3 296v1M3 302v2M3 323v1M3 325v1M3 330v1M3 343v1M3 380v1M3 395v1M4 10v1M4 28v1M4 35v1M4 38v1M4 49v1M4 62v1M4 86v1M4 94v1M4 103v1M4 105v1M4 107v1M4 114v1M4 124v1M4 133v1M4 143v1M4 151v1M4 167v1M4 176v1M4 188v1M4 211v2M4 219v1M4 232v1M4 236v1M4 239v1M4 256v1M4 270v1M4 291v1M4 304v1M4 326v1M4 343v1M4 348v1M4 354v1M4 358v1M4 380v1M5 15v1M5 19v1M5 31v2M5 44v1M5 51v1M5 55v1M5 62v1M5 70v1M5 89v1M5 92v1M5 104v1M5 108v1M5 126v1M5 134v2M5 146v1M5 150v1M5 160v1M5 165v1M5 171v2M5 176v1M5 183v2M5 194v2M5 198v1M5 204v1M5 233v1M5 237v1M5 259v1M5 264v1M5 274v2M5 284v1M5 288v1M5 294v1M5 297v1M5 300v1M5 302v1M5 304v1M5 309v1M5 316v1M5 327v2M5 331v1M5 337v1M5 341v1M5 353v1M5 355v1M5 367v1M5 388v1M5 392v1M5 396v1M5 404v1M6 47v1M6 54v1M6 91v1M6 286v1M6 376v1M6 387v1M7 45v1M7 73v1M7 79v1M7 87v1M7 108v2M7 122v1M7 157v1M7 218v1M7 229v1M7 238v1M7 260v1M7 301v1M7 319v1M7 347v1M7 355v1M7 361v1M7 366v1M7 376v1M8 42v1M8 92v1M8 95v1M8 110v1M8 116v1M8 151v1M8 179v1M8 191v1M8 197v1M8 201v1M8 219v1M8 241v1M8 244v1M8 248v1M8 253v1M8 258v1M8 263v1M8 283v1M8 319v1M8 353v1M9 20v1M9 26v2M9 34v1M9 38v3M9 45v1M9 55v1M9 57v2M9 75v1M9 84v1M9 95v1M9 103v1M9 127v1M9 136v1M9 145v1M9 155v1M9 180v1M9 187v1M9 190v1M9 200v1M9 211v1M9 214v1M9 230v1M9 232v1M9 234v1M9 241v2M9 249v1M9 258v1M9 261v1M9 264v1M9 266v1M9 296v1M9 301v1M9 325v1M9 328v1M9 334v1M9 337v1M9 340v1M9 346v1M9 358v1M9 361v1M9 368v1M9 398v1M10 13v1M10 15v1M10 63v1M10 116v1M10 125v1M10 175v1M10 210v1M10 222v1M11 15v1M11 28v2M11 42v1M11 52v1M11 79v1M11 93v2M11 110v1M11 115v1M11 156v1M11 159v2M11 181v1M11 187v1M11 204v1M11 223v1M11 230v2M11 242v1M11 259v1M11 262v1M11 270v2M11 301v2M11 333v1M11 346v2M11 349v1M12 75v1M12 195v1M12 229v1M12 301v1M13 13v1M13 16v1M13 81v1M13 97v1M13 122v1M13 132v1M13 158v1M13 175v1M13 177v1M13 201v1M13 228v1M13 237v1M13 245v1M13 260v1M13 288v1M13 323v2M13 342v1M13 364v1M13 366v1M13 397v1M14 15v1M14 25v1M14 29v1M14 63v1M14 66v2M14 69v1M14 73v1M14 98v1M14 118v2M14 134v1M14 143v1M14 166v1M14 179v1M14 181v1M14 186v1M14 197v1M14 207v1M14 218v2M14 239v2M14 249v1M14 257v1M14 282v1M14 286v1M14 301v1M14 313v1M14 332v1M14 335v1M14 345v1M14 355v2M14 379v2M14 388v1M14 390v1M14 394v1M15 14v1M15 21v1M15 45v1M15 56v1M15 63v1M15 78v1M15 86v1M15 103v4M15 117v1M15 120v1M15 125v1M15 127v2M15 140v1M15 142v1M15 144v1M15 147v2M15 157v1M15 178v1M15 185v1M15 197v1M15 200v1M15 211v1M15 213v1M15 223v1M15 225v1M15 227v1M15 232v1M15 235v1M15 248v1M15 251v1M15 267v1M15 291v1M15 306v1M15 308v1M15 319v1M15 329v1M15 334v1M15 337v1M15 339v1M15 361v1M15 364v1M15 368v1M15 379v1M15 382v1M15 388v1M15 400v1M15 404v2M16 19v1M16 23v1M16 25v1M16 29v2M16 32v1M16 38v1M16 47v1M16 67v1M16 82v1M16 91v2M16 96v1M16 103v1M16 107v1M16 126v1M16 132v1M16 134v4M16 142v1M16 145v1M16 148v2M16 154v1M16 156v1M16 161v1M16 169v1M16 171v1M16 176v1M16 188v1M16 206v1M16 217v1M16 228v2M16 237v1M16 260v1M16 272v1M16 280v1M16 282v1M16 288v1M16 307v1M16 321v1M16 352v1M16 357v1M16 359v1M16 367v1M16 375v2M16 384v1M16 388v1M16 403v1M17 18v1M17 21v1M17 24v1M17 26v1M17 33v1M17 39v1M17 43v1M17 45v1M17 58v1M17 63v1M17 66v1M17 71v2M17 76v1M17 81v2M17 84v1M17 89v1M17 94v1M17 97v1M17 106v1M17 108v3M17 114v1M17 121v2M17 124v1M17 130v1M17 134v3M17 140v1M17 144v1M17 147v1M17 152v2M17 166v2M17 179v1M17 182v2M17 194v1M17 201v1M17 204v1M17 217v1M17 221v1M17 223v1M17 227v1M17 231v1M17 233v1M17 236v1M17 240v1M17 243v2M17 246v1M17 250v2M17 253v1M17 255v1M17 271v2M17 274v2M17 279v1M17 289v1M17 291v1M17 298v1M17 305v1M17 307v1M17 313v1M17 316v1M17 326v1M17 328v1M17 330v1M17 332v1M17 336v1M17 339v3M17 347v5M17 356v1M17 359v1M17 364v1M17 372v1M17 374v3M17 387v1M17 394v1M17 403v1M17 405v1M18 20v2M18 25v1M18 58v1M18 74v1M18 130v2M18 137v1M18 139v2M18 142v3M18 149v1M18 156v1M18 196v1M18 199v1M18 214v1M18 218v1M18 238v1M18 244v2M18 247v2M18 251v1M18 255v1M18 257v1M18 271v1M18 320v1M18 346v1M18 360v1M18 371v1M19 68v1M19 122v1M19 251v1M19 270v1M19 379v1M20 15v1M20 89v1M20 147v1M20 165v1M20 180v1M20 282v1M21 21v1M21 66v1M21 81v1M21 86v1M21 91v1M21 97v1M21 102v1M21 119v1M21 160v1M21 208v1M21 224v1M21 254v1M21 259v1M21 268v1M21 271v1M21 277v1M21 290v2M21 304v1M21 342v1M21 377v1M21 381v1M21 383v1M21 404v1M22 15v1M22 34v2M22 37v1M22 47v1M22 67v1M22 79v1M22 85v1M22 87v1M22 102v1M22 129v1M22 132v1M22 147v1M22 156v1M22 160v1M22 165v1M22 179v1M22 199v1M22 208v1M22 216v1M22 254v1M22 262v1M22 265v1M22 267v1M22 290v1M22 313v1M22 327v1M22 333v1M22 335v1M22 341v1M22 347v1M22 359v1M22 384v1M23 18v1M23 20v1M23 37v1M23 54v1M23 56v1M23 68v2M23 78v1M23 83v1M23 88v1M23 93v2M23 96v1M23 101v1M23 125v1M23 136v1M23 138v2M23 166v1M23 170v1M23 178v1M23 185v1M23 192v1M23 214v1M23 219v1M23 227v1M23 231v1M23 235v1M23 246v1M23 260v1M23 267v1M23 296v1M23 308v1M23 313v4M23 320v2M23 325v1M23 336v1M23 346v1M23 352v2M23 355v3M23 360v2M23 364v1M23 366v1M23 368v1M23 371v1M23 390v2M23 396v1M24 116v1M24 280v1M25 13v3M25 17v1M25 27v1M25 37v1M25 43v1M25 47v1M25 57v1M25 61v1M25 68v1M25 89v2M25 101v1M25 109v2M25 125v1M25 144v1M25 152v1M25 170v1M25 176v1M25 184v1M25 187v1M25 230v1M25 233v1M25 245v1M25 262v1M25 269v1M25 271v1M25 285v1M25 293v2M25 296v2M25 318v1M25 324v1M25 329v1M25 342v1M25 345v1M25 354v1M25 363v1M25 394v1M25 402v1M25 404v2M26 13v1M26 307v1M26 317v1M26 358v1M27 14v1M27 16v1M27 42v1M27 45v1M27 50v1M27 79v1M27 131v1M27 146v1M27 162v1M27 266v1M27 285v1M27 307v1M27 383v1M27 393v1M28 14v1M28 29v1M28 32v1M28 37v1M28 40v1M28 45v1M28 76v1M28 84v1M28 89v1M28 96v1M28 103v1M28 121v1M28 123v2M28 132v1M28 135v1M28 141v1M28 145v2M28 152v1M28 162v1M28 168v1M28 176v1M28 181v1M28 188v1M28 212v1M28 221v1M28 223v1M28 225v1M28 230v1M28 241v1M28 245v1M28 247v1M28 259v1M28 266v1M28 273v1M28 275v1M28 278v1M28 281v1M28 288v1M28 305v1M28 308v1M28 311v1M28 315v2M28 322v1M28 331v1M28 333v1M28 361v1M28 365v1M28 367v1M28 373v1M28 381v1M28 388v1M28 394v3M28 401v1M29 21v1M29 72v1M29 252v1M29 353v1M29 383v1M30 14v1M30 27v1M30 45v1M30 55v1M30 67v1M30 85v2M30 108v1M30 116v1M30 123v1M30 135v1M30 145v1M30 159v1M30 171v1M30 217v1M30 232v1M30 249v1M30 286v1M30 295v1M30 297v1M30 310v1M30 366v1M30 395v1M31 31v1M31 49v1M31 60v1M31 78v1M31 81v1M31 84v1M31 122v1M31 135v2M31 148v1M31 158v1M31 184v1M31 200v1M31 212v1M31 214v2M31 225v1M31 229v1M31 237v1M31 241v1M31 251v1M31 258v1M31 260v1M31 266v1M31 268v1M31 296v2M31 299v1M31 304v1M31 306v2M31 318v1M31 325v1M31 334v1M31 352v1M31 401v2M32 53v1M32 88v1M32 93v1M32 110v1M32 142v2M32 175v1M32 180v1M32 185v1M32 189v1M32 215v1M32 231v1M32 237v1M32 278v1M32 280v1M32 303v1M32 308v1M32 330v1M32 333v1M32 346v1M32 370v1M32 394v1M32 397v1M33 14v1M33 16v1M33 24v2M33 28v1M33 32v1M33 41v1M33 43v1M33 53v1M33 56v1M33 65v1M33 75v1M33 86v1M33 106v1M33 114v1M33 116v1M33 119v2M33 122v3M33 127v2M33 131v1M33 133v2M33 136v1M33 147v1M33 162v1M33 167v1M33 171v1M33 174v1M33 181v1M33 203v1M33 205v1M33 211v1M33 239v1M33 249v1M33 262v1M33 277v1M33 285v1M33 293v1M33 307v1M33 328v1M33 338v1M33 340v1M33 355v1M33 358v1M33 360v1M33 371v1M33 374v1M33 390v1M33 394v1M33 398v1M33 402v1M33 404v2M34 19v1M34 26v1M34 34v1M34 40v1M34 46v1M34 53v2M34 62v1M34 67v1M34 71v1M34 76v1M34 80v1M34 86v1M34 88v1M34 92v1M34 95v1M34 98v1M34 116v1M34 124v1M34 182v1M34 184v1M34 195v1M34 216v1M34 253v1M34 261v1M34 273v1M34 286v1M34 306v1M34 341v1M34 365v1M34 372v1M34 385v1M34 393v1M35 23v1M35 52v2M35 83v1M35 93v2M35 104v1M35 130v1M35 139v1M35 151v2M35 167v1M35 191v1M35 217v1M35 265v1M35 281v1M35 283v1M35 300v1M35 329v1M35 374v1M35 377v1M35 381v1M35 401v1M36 42v2M36 55v2M36 58v1M36 64v1M36 70v1M36 129v1M36 148v1M36 150v1M36 153v1M36 157v1M36 163v1M36 172v1M36 183v1M36 202v1M36 205v1M36 215v1M36 225v1M36 232v1M36 244v1M36 256v1M36 285v1M36 308v1M36 334v1M36 340v1M36 344v1M36 355v1M36 391v1M37 17v1M37 20v2M37 24v1M37 29v1M37 31v1M37 33v1M37 38v1M37 51v1M37 53v1M37 62v1M37 70v1M37 77v1M37 81v1M37 84v1M37 109v1M37 114v1M37 118v1M37 129v1M37 134v1M37 158v1M37 165v2M37 168v1M37 170v1M37 183v1M37 189v1M37 195v1M37 216v1M37 219v1M37 231v1M37 235v2M37 244v1M37 255v1M37 264v1M37 271v1M37 273v1M37 279v1M37 293v1M37 303v1M37 351v1M37 359v1M37 363v1M37 367v1M37 372v1M37 381v1M37 388v1M38 10v1M38 14v1M38 17v1M38 30v1M38 32v1M38 55v1M38 61v1M38 64v1M38 84v2M38 87v1M38 96v1M38 111v1M38 121v1M38 140v1M38 143v1M38 145v1M38 156v1M38 163v1M38 167v2M38 172v1M38 179v1M38 183v1M38 197v1M38 201v1M38 207v3M38 214v1M38 218v1M38 220v1M38 231v2M38 255v1M38 259v1M38 261v1M38 266v1M38 269v1M38 273v1M38 278v1M38 288v1M38 296v1M38 308v2M38 321v1M38 324v1M38 346v1M38 356v1M38 378v1M38 380v1M38 389v1M38 405v1M39 15v1M39 19v2M39 75v1M39 85v2M39 89v1M39 100v1M39 117v1M39 130v1M39 155v1M39 184v1M39 194v1M39 207v1M39 257v1M39 261v1M39 270v1M39 274v1M39 279v1M39 287v1M39 292v1M39 306v1M39 314v1M39 351v1M39 355v2M39 368v2M39 378v1M39 380v1M39 383v1M39 395v1M39 401v1M40 14v1M40 46v1M40 49v1M40 54v1M40 61v1M40 70v1M40 79v1M40 95v1M40 101v2M40 105v2M40 111v1M40 120v1M40 122v1M40 132v2M40 140v1M40 146v2M40 154v1M40 158v1M40 161v1M40 166v1M40 169v1M40 195v1M40 199v1M40 202v2M40 211v1M40 222v1M40 224v1M40 227v1M40 229v1M40 240v2M40 251v1M40 253v1M40 255v1M40 261v1M40 265v1M40 270v1M40 307v1M40 309v1M40 318v2M40 323v1M40 325v1M40 330v1M40 347v1M40 362v2M40 365v1M40 369v1M40 382v1M40 396v1M41 16v1M41 19v1M41 25v1M41 28v2M41 34v1M41 38v2M41 42v1M41 44v1M41 51v1M41 53v1M41 58v1M41 61v1M41 66v2M41 76v1M41 81v1M41 84v1M41 87v1M41 89v3M41 93v1M41 99v1M41 108v1M41 110v1M41 121v1M41 127v2M41 131v1M41 133v2M41 136v1M41 139v1M41 153v1M41 162v1M41 171v1M41 173v1M41 175v1M41 181v3M41 187v1M41 199v1M41 202v1M41 204v1M41 208v1M41 217v2M41 220v1M41 234v1M41 237v1M41 243v1M41 245v1M41 263v1M41 269v1M41 273v1M41 278v1M41 281v2M41 300v1M41 302v2M41 317v1M41 342v1M41 344v1M41 354v2M41 362v1M41 373v1M41 376v1M41 379v1M41 385v1M41 402v1M42 22v1M42 34v1M42 38v1M42 43v1M42 51v1M42 53v1M42 60v1M42 70v1M42 79v2M42 87v1M42 108v1M42 111v1M42 122v1M42 128v1M42 131v2M42 134v1M42 136v1M42 143v1M42 166v2M42 191v1M42 213v1M42 226v1M42 232v1M42 254v1M42 271v1M42 274v1M42 297v1M42 306v1M42 339v2M43 133v1M43 193v1M43 279v1M44 14v1M44 16v1M44 24v1M44 33v1M44 35v1M44 40v1M44 44v3M44 50v1M44 59v2M44 65v1M44 70v1M44 75v1M44 80v1M44 82v1M44 84v1M44 92v1M44 94v2M44 104v1M44 106v1M44 110v1M44 113v1M44 115v1M44 117v1M44 120v1M44 126v1M44 128v1M44 134v3M44 139v1M44 144v1M44 150v1M44 169v1M44 179v1M44 185v1M44 195v1M44 203v1M44 235v2M44 238v1M44 241v1M44 245v1M44 248v1M44 252v1M44 254v2M44 265v1M44 268v1M44 272v2M44 276v1M44 286v1M44 293v1M44 323v1M44 336v1M44 350v1M44 353v1M44 355v1M44 357v2M44 362v1M44 364v1M44 367v1M44 372v2M44 375v1M44 378v1M44 383v1M44 385v1M44 390v1M44 396v1M44 400v2M45 13v1M45 15v1M45 30v1M45 42v1M45 65v2M45 72v1M45 86v1M45 91v1M45 101v1M45 111v1M45 127v1M45 151v1M45 195v1M45 218v1M45 226v1M45 248v1M45 263v1M45 274v1M45 279v1M45 302v1M45 305v1M45 342v1M45 374v1M45 381v1M45 384v1M45 403v1M46 14v1M46 24v1M46 36v1M46 43v1M46 50v1M46 58v1M46 61v1M46 76v1M46 100v1M46 106v1M46 148v1M46 164v1M46 179v1M46 207v1M46 215v1M46 224v1M46 245v1M46 259v1M46 277v1M46 285v1M46 295v1M46 305v1M46 320v1M46 325v1M46 332v1M46 354v1M46 357v1M46 361v1M46 363v1M46 371v1M47 157v1M47 180v1M47 205v1M47 241v1M47 282v1M47 296v1M47 374v1M48 15v1M48 23v1M48 26v1M48 28v1M48 34v1M48 50v1M48 56v1M48 67v1M48 69v1M48 73v1M48 77v1M48 79v1M48 83v1M48 92v1M48 105v1M48 112v1M48 114v1M48 118v1M48 122v2M48 131v1M48 150v1M48 158v1M48 163v2M48 166v1M48 179v1M48 181v1M48 189v1M48 192v1M48 204v1M48 206v1M48 215v1M48 218v1M48 223v2M48 235v2M48 253v1M48 273v1M48 277v1M48 291v1M48 312v1M48 331v1M48 333v1M48 337v1M48 353v1M48 368v1M48 378v1M48 405v1M49 15v1M49 27v1M49 38v1M49 61v1M49 88v1M49 112v1M49 123v1M49 164v1M49 173v1M49 225v1M49 242v1M49 247v1M49 255v1M49 277v1M49 296v1M49 301v1M49 306v1M49 308v1M49 318v1M50 14v1M50 65v1M50 68v1M50 71v1M50 78v1M50 111v1M50 116v1M50 133v1M50 158v1M50 169v1M50 184v1M50 189v3M50 193v1M50 246v1M50 288v1M50 301v1M50 309v1M50 316v1M50 333v1M50 352v1M50 360v1M50 398v2M51 13v1M51 26v1M51 102v1M51 106v1M51 129v1M51 207v1M51 252v1M51 257v1M51 290v1M51 366v1M52 34v1M52 156v1M52 232v1M52 237v1M52 258v1M52 260v1M52 278v1M52 403v1M53 15v2M53 25v1M53 34v1M53 38v1M53 43v1M53 55v1M53 58v1M53 60v1M53 65v1M53 71v2M53 85v2M53 88v2M53 97v1M53 99v1M53 104v1M53 106v1M53 110v1M53 118v2M53 122v2M53 145v1M53 148v1M53 152v1M53 156v1M53 160v1M53 167v1M53 184v2M53 192v1M53 197v1M53 221v1M53 225v1M53 227v1M53 230v1M53 242v1M53 253v1M53 257v2M53 261v1M53 263v1M53 265v1M53 272v1M53 286v1M53 289v1M53 295v1M53 301v1M53 310v1M53 330v1M53 337v1M53 339v1M53 343v1M53 354v1M53 357v1M53 362v1M53 371v1M53 374v1M53 381v1M53 393v1M53 397v1M54 30v1M54 47v1M54 65v1M54 77v1M54 87v1M54 102v1M54 119v1M54 121v1M54 128v1M54 136v1M54 151v1M54 156v1M54 163v1M54 166v1M54 168v1M54 186v1M54 198v1M54 220v1M54 235v1M54 254v1M54 301v3M54 323v1M54 325v1M54 327v1M54 347v1M54 354v1M54 358v1M54 363v2M54 376v1M54 395v1M55 16v1M55 33v1M55 44v3M55 68v1M55 91v1M55 93v1M55 95v1M55 111v2M55 124v1M55 126v1M55 141v1M55 154v1M55 160v1M55 166v1M55 168v1M55 187v1M55 189v1M55 192v1M55 196v1M55 211v1M55 227v1M55 237v1M55 246v1M55 254v1M55 294v1M55 301v2M55 306v1M55 311v1M55 313v1M55 321v1M55 336v1M55 348v2M55 351v1M55 356v1M55 361v1M55 380v1M55 396v1M55 398v2M56 15v1M56 25v1M56 38v1M56 42v1M56 45v1M56 51v2M56 54v1M56 60v1M56 62v1M56 65v2M56 70v1M56 87v1M56 93v1M56 104v3M56 109v1M56 111v1M56 121v1M56 127v1M56 138v1M56 141v1M56 176v1M56 179v2M56 189v1M56 191v1M56 201v1M56 214v1M56 220v1M56 223v1M56 226v1M56 239v1M56 245v2M56 249v1M56 259v1M56 268v1M56 279v1M56 281v1M56 284v1M56 293v1M56 306v1M56 310v1M56 317v1M56 323v1M56 327v1M56 329v1M56 333v2M56 341v1M56 343v1M56 356v3M56 360v1M56 363v1M56 370v2M56 390v1M56 401v1M57 31v1M57 38v1M57 48v1M57 61v1M57 72v1M57 84v1M57 91v1M57 129v1M57 143v1M57 180v1M57 188v1M57 224v1M57 264v1M57 305v1M57 321v2M57 376v1M58 14v2M58 47v1M58 58v1M58 159v1M58 187v1M58 194v1M58 214v2M58 219v1M58 267v1M58 269v1M58 279v1M58 282v1M58 284v1M58 318v1M58 331v1M58 350v1M58 367v1M58 369v1M58 371v1M58 374v1M58 376v1M58 380v1M58 383v1M58 390v1M58 404v1M59 43v1M59 81v1M59 194v1M59 201v1M59 203v1M59 232v1M60 13v1M60 23v1M60 31v1M60 43v1M60 91v1M60 99v1M60 108v1M60 111v1M60 123v1M60 152v1M60 179v1M60 207v1M60 215v1M60 252v1M60 279v1M60 323v1M60 361v1M60 374v1M60 378v1M61 14v1M61 29v1M61 32v1M61 36v1M61 38v1M61 43v1M61 51v2M61 56v1M61 74v1M61 81v1M61 83v1M61 131v1M61 133v1M61 139v1M61 147v1M61 151v1M61 159v1M61 163v2M61 167v1M61 176v1M61 195v2M61 199v1M61 203v1M61 233v1M61 238v1M61 251v1M61 259v1M61 262v1M61 270v1M61 273v1M61 281v1M61 318v1M61 320v2M61 328v2M61 336v1M61 342v1M61 362v1M61 365v1M61 374v1M62 15v1M62 18v2M62 41v1M62 44v1M62 46v2M62 49v1M62 51v1M62 53v1M62 59v1M62 62v1M62 64v1M62 70v2M62 87v1M62 100v1M62 123v1M62 128v1M62 143v1M62 149v1M62 158v1M62 179v1M62 181v2M62 185v1M62 190v1M62 200v1M62 207v1M62 213v1M62 232v1M62 235v1M62 238v1M62 242v1M62 259v1M62 270v1M62 280v1M62 290v1M62 296v2M62 300v1M62 310v1M62 313v1M62 321v1M62 324v1M62 331v1M62 333v1M62 342v1M62 348v1M62 366v1M62 400v1M63 14v1M63 27v1M63 101v1M63 119v1M63 149v1M63 189v1M63 281v1M63 325v1M63 352v1M63 364v1M63 377v1M63 381v1M63 385v1M64 14v2M64 30v1M64 33v1M64 51v1M64 56v1M64 70v1M64 80v1M64 82v1M64 93v2M64 96v1M64 106v1M64 111v1M64 156v1M64 161v1M64 164v1M64 173v1M64 180v1M64 182v1M64 200v1M64 220v1M64 236v1M64 241v1M64 243v1M64 250v1M64 261v1M64 276v1M64 279v1M64 311v1M64 313v1M64 317v1M64 322v1M64 340v1M64 371v1M64 375v1M64 386v1M64 396v1M64 398v1M64 400v1M65 27v1M65 37v1M65 89v1M65 91v1M65 101v1M65 110v1M65 126v1M65 140v1M65 152v1M65 164v1M65 201v1M65 203v1M65 208v1M65 211v1M65 232v1M65 234v2M65 239v2M65 243v1M65 246v1M65 275v1M65 280v1M65 327v1M65 343v1M65 345v1M65 382v1M66 15v1M66 27v1M66 30v1M66 32v1M66 75v1M66 91v1M66 97v1M66 103v1M66 138v1M66 191v1M66 211v1M66 243v1M66 250v1M66 254v1M66 267v1M66 280v1M66 309v1M66 318v1M67 22v1M67 24v2M67 33v1M67 59v1M67 69v1M67 78v1M67 82v1M67 86v1M67 117v1M67 124v2M67 128v1M67 131v1M67 172v1M67 177v1M67 199v1M67 203v1M67 214v1M67 229v1M67 242v1M67 258v1M67 267v1M67 271v2M67 352v1M67 355v2M67 370v1M67 394v1M68 14v1M68 56v1M68 194v1M68 284v1M69 23v1M69 26v1M69 36v1M69 38v1M69 63v1M69 71v1M69 78v1M69 122v1M69 131v1M69 148v1M69 200v1M69 213v1M69 244v1M69 246v1M69 283v1M69 300v1M69 303v1M69 311v1M69 374v1M69 383v1M69 389v1M69 394v1M70 19v1M70 112v1M70 154v1M70 201v1M70 297v1M70 315v1M71 20v1M71 87v1M71 109v1M71 340v1M71 358v1M71 392v1M71 397v1M71 400v1M72 24v1M72 31v1M72 43v1M72 78v2M72 82v3M72 87v2M72 104v2M72 110v3M72 114v2M72 119v1M72 121v1M72 123v3M72 127v1M72 130v1M72 160v1M72 219v1M72 223v1M72 343v1M72 375v1M73 65v1M73 72v1M73 88v1M73 114v1M73 138v2M73 153v1M73 155v1M73 158v1M73 171v1M73 178v1M73 231v1M73 243v1M73 260v1M73 310v1M73 312v1M73 321v1M73 323v1M73 328v1M73 331v1M73 336v2M73 339v1M73 353v1M73 355v1M73 381v1M73 384v1M73 398v2M73 401v2M74 19v1M74 26v1M74 32v1M74 63v1M74 67v1M74 89v1M74 94v1M74 111v1M74 121v1M74 130v1M74 145v1M74 157v1M74 165v1M74 176v1M74 186v3M74 200v1M74 220v2M74 224v1M74 226v1M74 235v1M74 241v1M74 245v1M74 252v1M74 254v3M74 264v1M74 268v2M74 286v1M74 289v2M74 300v1M74 320v1M74 353v1M74 392v2M74 397v1M75 19v1M75 49v1M75 90v1M75 92v1M75 100v1M75 102v2M75 105v2M75 112v1M75 121v1M75 125v2M75 128v3M75 132v1M75 215v1M75 225v1M75 250v1M75 278v1M75 303v1M75 337v1M75 339v1M75 359v1M75 368v1M76 18v2M76 53v1M76 109v1M76 181v1M76 184v3M76 188v1M76 190v1M76 220v1M76 224v1M76 242v1M76 267v1M76 308v1M76 397v1M77 19v1M77 22v1M77 31v1M77 40v1M77 99v1M77 105v1M77 110v1M77 119v1M77 161v1M77 166v1M77 189v1M77 198v1M77 212v1M77 220v1M77 253v1M77 306v1M77 355v1M77 357v1M78 18v3M78 26v1M78 29v1M78 58v1M78 61v1M78 64v1M78 68v1M78 92v1M78 94v1M78 101v1M78 111v1M78 113v1M78 118v1M78 138v1M78 146v1M78 158v1M78 162v1M78 166v1M78 178v2M78 186v1M78 206v1M78 210v1M78 240v2M78 244v1M78 246v1M78 258v1M78 264v1M78 272v1M78 277v1M78 285v2M78 298v1M78 313v1M78 319v1M78 358v1M78 363v1M78 367v1M78 373v1M78 377v1M78 385v1M78 388v1M79 29v1M79 40v1M79 43v1M79 59v1M79 77v1M79 105v1M79 110v2M79 114v1M79 119v1M79 133v1M79 138v1M79 152v1M79 183v1M79 210v1M79 223v1M79 229v1M79 234v1M79 243v2M79 273v1M79 281v1M79 285v1M79 288v1M79 293v1M79 303v2M79 306v1M79 310v1M79 334v1M79 340v1M79 343v1M79 349v1M79 352v1M79 371v1M79 381v1M79 399v1M80 16v1M80 19v2M80 24v1M80 29v1M80 36v1M80 136v1M80 207v1M80 252v1M80 267v1M80 274v1M80 279v1M81 18v2M81 29v1M81 47v3M81 55v1M81 60v1M81 92v1M81 96v2M81 99v1M81 106v2M81 117v1M81 129v1M81 139v1M81 168v1M81 174v1M81 181v1M81 185v1M81 188v1M81 190v1M81 203v1M81 222v1M81 229v1M81 233v1M81 248v1M81 259v1M81 268v1M81 272v1M81 280v1M81 288v1M81 291v1M81 324v1M81 330v1M81 338v1M81 349v1M81 365v1M81 396v1M81 402v1M82 18v2M82 33v1M82 42v1M82 44v1M82 49v1M82 92v1M82 97v1M82 100v2M82 107v1M82 120v2M82 139v1M82 145v1M82 150v3M82 155v1M82 157v1M82 160v1M82 181v1M82 194v1M82 202v1M82 207v1M82 214v1M82 218v1M82 220v1M82 225v1M82 235v1M82 246v1M82 251v1M82 267v1M82 295v1M82 300v1M82 308v3M82 316v2M82 320v1M82 327v2M82 338v1M82 342v1M82 352v1M82 374v1M82 381v1M82 383v1M82 394v1M83 21v1M83 48v1M83 105v1M83 126v1M83 220v2M83 310v1M83 334v1M83 369v1M83 384v1M84 21v1M84 33v1M84 39v1M84 43v1M84 63v1M84 128v1M84 134v1M84 136v1M84 158v1M84 183v1M84 210v1M84 224v2M84 251v1M84 273v1M84 278v1M84 284v1M84 290v1M84 309v1M84 312v1M84 331v1M84 341v1M84 356v1M84 370v1M84 399v1M85 22v1M85 34v2M85 37v1M85 42v1M85 57v1M85 61v1M85 63v1M85 79v2M85 84v1M85 94v1M85 96v1M85 102v1M85 106v1M85 121v2M85 124v1M85 136v1M85 139v1M85 141v1M85 143v1M85 158v1M85 171v1M85 180v1M85 183v1M85 201v1M85 204v1M85 213v1M85 217v1M85 242v1M85 250v1M85 255v1M85 265v1M85 268v1M85 274v1M85 295v1M85 301v1M85 319v1M85 321v1M85 324v1M85 327v1M85 347v1M85 349v1M85 354v3M85 367v1M85 371v2M85 383v1M85 399v1M86 17v1M86 29v1M86 31v1M86 42v1M86 55v1M86 62v1M86 87v1M86 123v3M86 131v2M86 135v2M86 157v1M86 211v1M86 230v1M86 234v1M86 244v1M86 266v1M86 274v1M86 280v1M86 292v1M86 294v1M86 301v1M86 322v1M86 329v1M86 346v1M86 359v1M86 379v1M87 22v1M87 47v1M87 52v1M87 62v1M87 66v1M87 76v1M87 153v3M87 166v1M87 175v1M87 179v2M87 182v1M87 188v1M87 198v1M87 216v1M87 230v2M87 234v1M87 247v1M87 263v1M87 269v1M87 288v1M87 298v1M87 317v1M87 382v1M87 388v1M88 16v1M88 325v1M89 34v1M89 59v1M89 64v1M89 84v1M89 117v1M89 119v1M89 121v1M89 150v1M89 160v1M89 217v1M89 232v1M89 254v1M89 260v3M89 268v1M89 278v3M89 295v1M89 297v1M89 300v1M89 324v1M89 339v1M89 379v1M90 10v1M90 18v1M90 22v2M90 28v1M90 46v1M90 70v1M90 73v1M90 80v1M90 101v1M90 107v2M90 118v1M90 142v1M90 198v1M90 201v1M90 210v1M90 228v1M90 234v1M90 243v1M90 245v1M90 250v1M90 253v1M90 260v1M90 262v1M90 265v1M90 279v1M90 283v2M90 294v1M90 320v1M90 327v1M90 331v1M90 334v1M90 336v1M90 338v1M90 351v1M90 358v1M90 367v1M90 375v2M90 378v1M90 387v1M90 389v1M91 10v1M91 15v1M91 17v1M91 43v1M91 173v1M91 182v2M91 207v1M91 223v1M91 279v1M91 319v1M91 325v1M91 358v1M92 14v1M92 24v1M92 35v1M92 46v1M92 61v1M92 86v1M92 88v1M92 90v1M92 97v1M92 99v2M92 102v1M92 106v2M92 109v1M92 115v2M92 133v2M92 136v1M92 142v1M92 161v1M92 165v1M92 167v1M92 169v1M92 175v2M92 182v1M92 185v1M92 188v1M92 191v1M92 193v1M92 229v1M92 255v1M92 257v1M92 259v1M92 264v2M92 270v1M92 277v1M92 281v1M92 294v1M92 309v1M92 312v1M92 323v2M92 352v1M92 358v1M92 366v1M92 368v1M92 379v1M92 390v1M92 396v2M93 13v1M93 19v3M93 59v1M93 83v1M93 85v1M93 97v1M93 128v1M93 169v1M93 171v1M93 188v2M93 238v1M93 250v1M93 311v1M93 318v1M93 351v1M93 391v1M93 404v1M94 15v1M94 20v1M94 93v1M94 108v1M94 120v1M94 128v1M94 167v1M94 173v1M94 177v1M94 190v1M94 199v1M94 265v1M94 278v1M94 304v1M94 306v5M94 313v2M94 317v1M94 319v2M94 322v1M94 324v1M94 327v1M94 332v2M94 336v1M94 344v1M94 351v1M94 354v1M94 362v1M94 367v1M94 373v1M94 375v1M94 378v1M94 381v1M94 383v1M94 386v2M94 389v1M94 394v4M94 403v1M95 20v1M95 22v1M95 57v1M95 59v1M95 79v1M95 94v1M95 101v1M95 114v1M95 125v1M95 131v1M95 133v1M95 142v1M95 144v1M95 148v1M95 150v2M95 174v1M95 187v1M95 196v1M95 206v1M95 246v1M95 252v1M95 255v1M95 279v1M95 283v1M95 324v2M95 334v1M95 340v1M95 343v1M95 355v1M95 365v1M95 378v1M95 394v1M96 15v1M96 25v1M96 83v1M96 156v1M96 197v1M96 293v1M96 301v1M96 381v1M96 394v1M97 33v1M97 62v1M97 102v1M97 121v1M97 192v1M97 194v1M97 260v1M97 278v1M97 327v1M97 361v1M97 380v1M97 384v1M98 95v1M98 150v1M98 238v1M99 24v1M99 33v1M99 39v1M99 56v1M99 66v1M99 68v1M99 77v1M99 90v1M99 106v1M99 111v1M99 122v1M99 125v1M99 140v1M99 148v1M99 155v2M99 162v1M99 167v1M99 185v1M99 194v1M99 208v1M99 211v1M99 219v1M99 230v1M99 239v3M99 244v1M99 258v1M99 260v1M99 262v1M99 265v1M99 274v1M99 286v1M99 296v2M99 300v2M99 304v1M99 306v1M99 311v2M99 316v1M99 329v1M99 331v1M99 341v1M99 343v1M99 347v1M99 353v1M99 358v2M99 366v1M99 379v1M99 383v1M99 388v1M99 397v2M100 18v1M100 20v1M100 35v1M100 43v1M100 49v1M100 64v1M100 79v1M100 134v1M100 141v1M100 153v1M100 162v1M100 174v1M100 178v1M100 192v1M100 200v1M100 208v1M100 224v1M100 232v1M100 245v1M100 283v1M100 285v1M100 293v1M100 301v1M100 303v2M100 309v1M100 324v1M100 327v1M100 338v1M100 355v1M100 364v1M100 376v1M100 382v1M100 384v1M100 388v1M100 392v1M100 394v1M100 396v1M100 400v1M100 405v1M101 18v1M101 22v1M101 33v1M101 38v2M101 50v1M101 58v1M101 61v1M101 72v1M101 74v1M101 83v1M101 85v1M101 114v1M101 126v2M101 130v1M101 145v2M101 152v1M101 155v1M101 162v1M101 171v1M101 183v2M101 208v1M101 214v1M101 223v1M101 235v1M101 241v1M101 246v1M101 261v1M101 268v1M101 270v1M101 289v1M101 298v1M101 320v1M101 326v1M101 341v1M101 352v1M101 398v1M101 402v1M102 19v1M102 21v1M102 29v1M102 32v1M102 42v1M102 47v1M102 49v1M102 71v1M102 73v1M102 75v2M102 79v1M102 88v1M102 95v1M102 97v1M102 103v3M102 110v1M102 128v1M102 150v1M102 154v1M102 162v1M102 168v1M102 171v1M102 174v1M102 178v1M102 189v1M102 193v1M102 200v3M102 206v1M102 208v1M102 210v2M102 213v1M102 215v1M102 221v1M102 249v3M102 258v1M102 266v2M102 275v1M102 287v1M102 317v3M102 326v1M102 341v1M102 353v1M102 366v1M102 373v1M102 378v1M102 380v1M102 384v1M103 0v1M103 22v1M103 40v1M103 53v1M103 58v1M103 62v1M103 66v1M103 76v1M103 78v1M103 84v1M103 88v1M103 94v1M103 96v1M103 98v1M103 116v1M103 130v2M103 153v1M103 222v1M103 248v1M103 250v1M103 256v1M103 258v1M103 266v1M103 271v1M103 289v1M103 299v1M103 308v1M103 310v1M103 349v1M103 353v1M103 366v1M103 379v1M103 387v1M103 390v1M103 395v1M103 400v2M104 21v1M104 28v1M104 34v1M104 38v1M104 47v1M104 66v1M104 85v1M104 88v1M104 96v2M104 128v1M104 131v1M104 138v1M104 149v1M104 222v1M104 245v1M104 255v1M104 265v1M104 267v1M104 276v1M104 285v1M104 299v1M104 302v1M104 314v1M104 317v1M104 323v2M104 329v1M104 348v1M104 351v1M104 355v1M104 359v1M104 365v1M104 369v1M104 373v1M104 378v1M104 395v1M104 402v1M105 17v1M105 23v1M105 30v1M105 42v1M105 58v1M105 72v1M105 89v1M105 115v1M105 127v3M105 134v1M105 138v1M105 142v1M105 151v1M105 161v1M105 176v1M105 201v1M105 205v1M105 216v1M105 247v1M105 261v1M105 269v1M105 288v1M105 296v1M105 304v1M105 333v1M105 344v1M105 376v1M106 13v1M106 18v1M106 20v1M106 24v1M106 30v2M106 34v1M106 37v1M106 40v1M106 50v1M106 56v2M106 59v1M106 65v1M106 69v1M106 75v1M106 83v2M106 93v1M106 109v2M106 119v1M106 123v2M106 138v1M106 150v1M106 166v1M106 171v1M106 186v1M106 192v2M106 195v2M106 199v1M106 201v1M106 203v3M106 212v1M106 226v1M106 230v1M106 237v1M106 243v2M106 255v1M106 263v1M106 290v1M106 307v1M106 313v2M106 319v1M106 323v1M106 329v1M106 333v1M106 335v2M106 339v2M106 342v2M106 348v1M106 358v1M106 374v1M106 377v1M106 380v1M106 385v1M106 390v1M106 403v1M106 405v1M108 21v1M108 84v1M108 119v1M108 148v1M108 155v1M108 172v1M108 180v1M108 225v1M108 270v1M108 296v1M108 300v1M108 302v1M108 304v1M108 339v1M108 345v1M108 354v1M108 358v1M108 366v1M108 379v1M110 23v1M110 26v1M110 68v1M110 73v1M110 106v1M110 132v1M110 134v1M110 150v1M110 154v1M110 181v1M110 186v1M110 194v1M110 231v1M110 233v1M110 246v1M110 255v1M110 273v1M110 298v1M110 320v1M110 349v1M110 400v1M110 402v1M112 18v1M112 26v1M112 73v1M112 78v1M112 125v1M112 137v1M112 143v1M112 146v1M112 150v1M112 159v1M112 161v1M112 181v1M112 201v1M112 204v2M112 221v1M112 224v1M112 226v1M112 234v1M112 253v1M112 262v1M112 288v1M112 298v1M112 302v1M112 316v1M112 327v1M112 356v1M112 367v1M112 373v1M112 387v1M114 23v1M114 32v1M114 51v1M114 81v1M114 97v1M114 109v1M114 112v1M114 121v1M114 124v1M114 128v1M114 141v1M114 165v1M114 172v1M114 201v2M114 208v1M114 211v1M114 222v1M114 230v1M114 249v1M114 255v1M114 280v1M114 293v1M114 298v1M114 309v1M114 338v3M114 354v1M114 366v1M114 381v1M114 397v1M116 20v1M116 71v1M116 82v1M116 93v1M116 104v2M116 117v1M116 126v1M116 134v1M116 141v1M116 150v1M116 156v1M116 169v1M116 178v1M116 200v1M116 205v1M116 210v1M116 261v1M116 272v1M116 286v1M116 294v1M116 318v1M116 328v1M116 331v1M116 392v1M118 50v1M118 114v1M118 166v1M118 185v1M118 200v1M118 220v2M118 223v1M118 248v1M118 254v1M118 267v1M118 338v1M120 28v1M120 40v1M120 42v1M120 53v1M120 63v1M120 72v1M120 99v2M120 105v1M120 125v1M120 136v1M120 141v1M120 177v1M120 181v1M120 189v1M120 210v1M120 214v3M120 228v1M120 239v1M120 254v1M120 265v1M120 270v1M120 298v1M120 301v1M120 314v1M120 327v1M120 330v1M120 338v1M120 386v2M120 400v1M125 20v2M125 42v1M125 50v1M125 72v2M125 91v1M125 132v1M125 140v1M125 175v1M125 182v1M125 194v1M125 268v2M125 271v1M125 286v1M125 309v1M125 319v1M125 323v1M125 331v1M125 342v1M125 344v1M125 354v1M125 364v1M125 390v1M125 394v1M130 27v1M130 36v1M130 48v1M130 59v1M130 64v1M130 66v1M130 85v1M130 187v2M130 207v1M130 342v1M130 366v1M130 389v1M135 65v1M135 68v1M135 82v1M135 96v1M135 104v1M135 123v1M135 138v1M135 158v1M135 176v2M135 204v1M135 213v1M135 224v1M135 230v2M135 234v1M135 238v1M135 253v1M135 319v1M135 326v1M135 331v2M135 345v1M135 362v1M135 369v1M135 372v2M135 380v2M135 393v1M140 0v1M140 15v1M140 27v1M140 38v1M140 55v1M140 81v1M140 84v2M140 91v1M140 153v1M140 156v1M140 176v1M140 195v1M140 205v1M140 208v1M140 217v1M140 227v1M140 233v1M140 237v1M140 239v1M140 242v1M140 246v1M140 258v1M140 261v1M140 273v2M140 279v1M140 295v1M140 312v1M140 322v1M140 328v1M140 337v1M140 344v2M140 348v1M140 365v1M140 368v1M140 399v1M145 30v1M145 38v1M145 47v1M145 50v1M145 63v1M145 80v2M145 89v1M145 101v1M145 120v1M145 127v1M145 157v2M145 165v1M145 170v1M145 208v1M145 221v1M145 232v1M145 264v1M145 273v1M145 281v2M145 300v1M145 307v1M145 311v1M145 316v1M145 327v1M145 339v1M145 348v1M145 371v1M145 385v1M145 387v1M145 391v1M145 397v1M145 401v1M150 17v1M150 26v1M150 28v1M150 33v1M150 58v1M150 63v1M150 67v1M150 76v1M150 97v1M150 101v1M150 113v1M150 115v1M150 131v1M150 142v1M150 145v1M150 147v1M150 157v1M150 166v1M150 184v1M150 188v1M150 200v1M150 202v1M150 218v1M150 220v1M150 227v1M150 231v1M150 234v1M150 239v1M150 241v1M150 249v1M150 264v1M150 269v1M150 306v1M150 332v1M150 355v1M150 359v1M150 405v1"/>
<path stroke="#472f7d" d="M0 18v1M0 59v1M0 67v1M0 90v1M0 129v1M0 175v1M0 180v1M0 187v1M0 193v1M0 195v1M0 211v1M0 220v1M0 229v1M0 248v2M0 298v1M0 375v1M0 400v2M1 31v1M1 61v1M1 175v1M1 185v1M1 381v1M1 388v2M1 392v1M2 109v1M2 214v1M2 399v1M3 23v1M3 44v1M3 63v1M3 76v1M3 81v1M3 104v1M3 142v1M3 175v1M3 180v1M3 189v1M3 228v1M3 236v1M3 238v1M3 241v1M3 250v1M3 385v1M4 9v1M4 19v1M4 64v1M4 112v1M4 128v1M4 156v1M4 186v1M4 210v1M4 213v1M4 221v1M4 227v1M4 367v1M4 396v1M4 403v1M5 11v1M5 54v1M5 61v1M5 85v1M5 100v1M5 110v1M5 191v1M5 261v1M5 270v1M5 336v1M5 342v1M5 358v1M5 362v1M5 375v1M5 386v1M5 391v1M5 405v1M6 19v2M6 39v1M7 77v1M7 82v1M7 113v1M7 134v1M7 202v1M7 230v1M7 273v1M7 278v1M7 331v1M7 335v2M7 364v1M7 397v1M8 129v1M8 160v1M8 203v1M8 222v1M8 236v1M8 362v1M8 373v1M9 14v2M9 19v1M9 35v1M9 46v1M9 59v1M9 62v1M9 69v1M9 72v1M9 138v1M9 141v1M9 144v1M9 149v1M9 156v1M9 191v1M9 202v2M9 216v1M9 218v1M9 222v1M9 224v1M9 228v2M9 251v1M9 259v1M9 282v1M9 284v1M9 290v1M9 293v1M9 298v1M9 305v1M9 320v1M9 323v1M9 353v2M9 371v1M9 373v2M9 403v1M10 72v1M10 176v1M11 21v1M11 30v1M11 74v2M11 112v1M11 143v1M11 202v1M11 229v1M11 252v1M11 255v1M11 294v1M11 352v1M12 15v1M12 59v1M12 66v2M12 214v1M13 10v1M13 143v1M13 390v1M14 14v1M14 24v1M14 31v1M14 44v1M14 76v1M14 87v1M14 115v3M14 121v1M14 133v1M14 152v1M14 159v1M14 163v1M14 165v1M14 177v1M14 184v1M14 206v1M14 223v1M14 275v1M14 283v1M14 289v1M14 291v1M14 298v1M14 302v1M14 309v1M14 322v1M14 328v1M14 334v1M14 362v1M14 366v2M14 391v1M14 396v1M15 22v1M15 39v1M15 43v2M15 54v1M15 64v1M15 70v1M15 74v2M15 79v1M15 82v1M15 88v1M15 99v1M15 101v1M15 109v1M15 114v1M15 121v1M15 123v1M15 126v1M15 130v1M15 165v1M15 168v1M15 176v2M15 179v1M15 190v1M15 192v1M15 214v1M15 220v1M15 229v1M15 234v1M15 263v1M15 276v2M15 321v1M15 326v3M15 330v3M15 336v1M15 338v1M15 342v1M15 357v1M15 360v1M15 363v1M15 372v1M15 374v1M15 394v1M15 399v1M15 403v1M16 21v1M16 24v1M16 31v1M16 40v1M16 52v1M16 63v1M16 66v1M16 86v1M16 102v1M16 115v1M16 124v1M16 128v1M16 143v1M16 146v1M16 152v1M16 155v1M16 157v1M16 181v1M16 207v1M16 224v1M16 271v1M16 281v1M16 296v1M16 303v1M16 316v1M16 332v1M16 339v1M16 348v2M16 351v1M16 374v1M16 381v1M16 405v1M17 13v1M17 17v1M17 32v1M17 35v1M17 51v1M17 54v1M17 59v1M17 62v1M17 86v2M17 100v1M17 102v1M17 104v1M17 111v3M17 116v3M17 126v2M17 129v1M17 133v1M17 139v1M17 141v2M17 185v2M17 190v1M17 193v1M17 200v1M17 206v1M17 208v1M17 216v1M17 218v1M17 225v1M17 232v1M17 239v1M17 247v2M17 254v1M17 258v1M17 266v1M17 280v2M17 283v1M17 285v1M17 287v2M17 293v1M17 295v1M17 306v1M17 324v1M17 344v1M17 346v1M17 354v1M17 360v1M17 362v1M17 365v1M17 369v3M17 373v1M17 379v1M17 385v1M17 391v1M17 398v1M17 401v1M18 70v1M18 155v1M18 233v1M18 235v1M18 249v1M18 356v1M18 361v2M18 366v1M18 368v2M18 372v2M19 266v1M19 368v1M20 223v1M20 233v1M21 19v1M21 103v1M21 191v1M21 313v1M21 323v1M22 23v1M22 53v1M22 106v1M22 110v1M22 140v1M22 181v1M22 198v1M22 210v1M22 277v1M22 308v1M22 317v1M22 323v1M22 375v1M22 378v2M22 403v1M23 0v1M23 14v1M23 53v1M23 60v1M23 81v1M23 85v1M23 98v1M23 102v1M23 109v1M23 129v1M23 131v2M23 134v1M23 143v1M23 171v1M23 173v1M23 204v1M23 215v1M23 228v1M23 247v2M23 266v1M23 294v1M23 310v1M23 344v1M23 377v1M24 126v1M25 22v1M25 30v1M25 40v1M25 73v1M25 84v2M25 88v1M25 92v1M25 95v1M25 154v1M25 238v1M25 280v1M25 299v1M25 321v1M25 323v1M25 380v1M26 15v1M27 15v1M27 41v1M27 69v1M28 17v2M28 27v1M28 53v1M28 65v1M28 70v1M28 75v1M28 109v1M28 125v1M28 131v1M28 159v1M28 169v1M28 200v1M28 204v1M28 209v1M28 214v1M28 224v1M28 231v1M28 258v1M28 260v1M28 264v1M28 296v1M28 309v1M28 332v1M28 356v1M28 371v1M29 14v2M29 87v1M30 13v1M30 18v1M30 23v1M30 28v1M30 34v1M30 97v1M30 109v1M30 183v1M30 237v1M30 272v1M30 276v1M30 386v1M31 13v2M31 75v1M31 109v1M31 157v1M31 179v1M31 190v1M31 219v1M31 224v1M31 256v1M31 269v1M31 278v1M31 280v1M31 298v1M31 330v1M31 356v1M31 359v1M31 373v1M31 381v2M31 386v1M31 392v1M32 33v1M32 85v2M32 89v2M32 92v1M32 94v1M32 151v1M32 204v1M32 221v1M32 286v1M33 20v1M33 37v1M33 66v1M33 69v1M33 74v1M33 93v1M33 100v1M33 102v1M33 118v1M33 135v1M33 137v1M33 142v1M33 178v1M33 185v1M33 187v1M33 199v1M33 201v1M33 214v1M33 225v4M33 260v1M33 269v1M33 283v1M33 327v1M33 330v1M33 351v2M33 361v1M33 367v1M33 388v1M33 403v1M34 13v1M34 31v1M34 45v1M34 61v1M34 68v1M34 129v1M34 154v1M34 174v1M34 222v1M34 266v1M34 278v2M34 332v1M35 10v1M35 17v1M35 63v1M35 71v1M35 76v1M35 100v1M35 102v1M35 110v1M35 115v2M35 144v1M35 203v1M35 227v1M35 232v1M35 285v1M35 297v1M36 38v1M36 72v1M36 104v1M36 206v1M36 240v1M36 281v1M36 291v1M36 306v1M36 315v1M36 317v1M36 325v1M36 335v1M36 339v1M36 377v1M36 388v1M37 44v1M37 47v1M37 57v1M37 60v1M37 86v1M37 102v1M37 106v1M37 113v1M37 180v1M37 185v1M37 202v1M37 232v1M37 240v1M37 282v1M37 295v2M37 300v1M37 311v1M37 365v1M37 373v1M37 390v1M38 0v1M38 24v1M38 42v1M38 60v1M38 76v1M38 78v1M38 95v1M38 113v1M38 125v1M38 127v1M38 129v2M38 133v1M38 146v1M38 185v1M38 187v2M38 190v2M38 196v1M38 199v1M38 212v1M38 234v1M38 249v1M38 263v1M38 265v1M38 267v1M38 328v1M38 336v1M38 343v1M38 359v1M38 367v1M39 22v1M39 37v1M39 71v2M39 108v1M39 134v1M39 149v1M39 176v1M39 195v1M39 210v1M39 213v1M39 215v1M39 226v1M39 280v1M39 396v1M39 402v1M40 15v1M40 26v1M40 30v1M40 53v1M40 73v1M40 97v1M40 99v1M40 118v1M40 124v1M40 137v1M40 143v1M40 150v2M40 168v1M40 182v1M40 184v1M40 210v1M40 220v1M40 228v1M40 239v1M40 257v1M40 274v1M40 280v1M40 287v1M40 289v1M40 292v1M40 295v1M40 297v1M40 321v2M40 332v1M40 341v1M40 346v1M40 352v2M40 372v1M40 377v1M40 381v1M40 394v1M40 401v2M40 404v2M41 14v1M41 17v2M41 20v1M41 30v1M41 36v2M41 40v2M41 43v1M41 54v1M41 59v1M41 62v1M41 64v1M41 82v2M41 85v2M41 88v1M41 94v1M41 96v2M41 104v3M41 111v1M41 116v2M41 126v1M41 129v1M41 135v1M41 137v1M41 140v1M41 142v1M41 144v2M41 147v1M41 149v1M41 151v1M41 158v3M41 164v1M41 170v1M41 180v1M41 185v1M41 191v1M41 198v1M41 211v2M41 215v1M41 224v1M41 229v1M41 249v1M41 253v1M41 255v1M41 258v1M41 260v2M41 267v1M41 280v1M41 283v1M41 286v1M41 288v1M41 291v2M41 297v1M41 299v1M41 301v1M41 305v1M41 310v1M41 313v1M41 319v2M41 326v1M41 330v1M41 339v1M41 348v1M41 358v1M41 360v2M41 364v1M41 375v1M41 383v1M41 395v1M41 399v1M42 13v1M42 19v1M42 29v1M42 42v1M42 54v1M42 117v2M42 202v1M42 281v1M42 291v1M42 380v1M43 238v1M43 312v1M44 25v1M44 27v1M44 36v1M44 42v2M44 47v1M44 49v1M44 51v2M44 57v1M44 62v1M44 69v1M44 74v1M44 85v1M44 87v2M44 91v1M44 101v2M44 107v1M44 122v1M44 130v3M44 138v1M44 141v2M44 148v2M44 152v1M44 159v2M44 164v1M44 174v1M44 177v2M44 180v3M44 186v1M44 193v1M44 197v2M44 202v1M44 204v2M44 207v2M44 217v1M44 222v1M44 224v1M44 233v1M44 244v1M44 247v1M44 253v1M44 259v1M44 261v1M44 263v1M44 267v1M44 280v2M44 285v1M44 299v2M44 302v1M44 311v2M44 319v1M44 328v1M44 330v1M44 332v1M44 334v1M44 337v1M44 346v1M44 352v1M44 354v1M44 363v1M44 368v1M44 371v1M44 374v1M44 376v1M44 380v1M44 387v3M44 397v1M44 399v1M45 14v1M45 19v1M45 45v1M45 63v1M45 76v1M45 102v1M45 119v2M45 123v1M45 136v1M45 219v1M45 245v1M45 270v2M45 273v1M45 285v1M45 301v1M45 330v1M45 341v1M45 346v1M45 355v1M45 400v1M46 26v1M46 86v1M46 147v1M46 244v1M46 299v1M46 322v1M48 36v1M48 40v1M48 55v1M48 70v1M48 87v1M48 104v1M48 121v1M48 128v1M48 132v1M48 148v1M48 167v1M48 237v1M48 241v1M48 294v1M48 298v1M48 302v1M48 310v1M48 357v2M48 381v1M49 13v1M49 284v1M50 13v1M50 26v1M50 36v2M50 73v1M50 134v1M50 145v1M50 154v1M50 203v1M50 254v1M50 295v1M50 297v1M50 382v1M50 392v1M51 15v1M51 151v1M51 157v1M53 19v1M53 40v1M53 47v1M53 51v1M53 53v1M53 62v1M53 70v1M53 73v1M53 79v1M53 90v1M53 92v1M53 96v1M53 100v1M53 105v1M53 111v3M53 129v1M53 132v1M53 138v1M53 141v1M53 151v1M53 161v2M53 165v2M53 178v1M53 180v1M53 189v1M53 194v2M53 199v1M53 202v1M53 206v2M53 209v1M53 212v1M53 216v1M53 220v1M53 228v1M53 232v1M53 244v1M53 247v1M53 259v1M53 262v1M53 269v1M53 273v1M53 280v1M53 288v1M53 290v1M53 292v1M53 294v1M53 299v1M53 311v1M53 313v1M53 318v1M53 321v2M53 327v1M53 329v1M53 334v1M53 345v1M53 356v1M53 358v1M53 365v1M53 368v1M53 372v1M53 383v1M53 385v1M53 401v1M53 405v1M54 15v1M54 51v1M54 107v1M54 172v1M54 199v1M54 246v1M54 277v1M54 289v1M54 300v1M54 315v1M55 14v1M55 20v1M55 22v1M55 59v1M55 63v1M55 73v1M55 88v1M55 97v1M55 100v1M55 120v1M55 176v1M55 181v1M55 183v1M55 188v1M55 203v1M55 226v1M55 242v1M55 260v1M55 305v1M55 307v1M55 316v1M55 320v1M55 328v1M55 330v1M55 353v1M55 376v1M55 378v1M55 381v1M55 386v1M55 401v1M55 405v1M56 13v1M56 30v1M56 43v1M56 59v1M56 74v1M56 89v1M56 110v1M56 114v1M56 129v1M56 144v1M56 148v1M56 169v1M56 181v1M56 183v1M56 198v1M56 202v1M56 210v1M56 217v1M56 219v1M56 221v1M56 251v1M56 256v1M56 260v1M56 266v1M56 286v1M56 292v1M56 298v1M56 304v1M56 308v1M56 316v1M56 322v1M56 324v1M56 328v1M56 335v1M56 349v1M56 365v1M56 367v1M56 381v1M56 384v2M57 53v1M57 69v1M57 130v1M57 176v1M57 239v2M57 247v4M57 252v2M57 256v1M57 291v1M57 306v1M57 327v1M57 392v1M57 401v1M58 18v1M58 88v1M58 104v1M58 116v1M58 148v1M58 174v1M58 204v1M58 239v1M58 254v1M58 258v1M58 344v1M58 361v1M58 368v1M58 370v1M58 373v1M58 375v1M58 378v1M58 384v1M59 25v1M60 10v1M60 53v1M60 82v1M60 167v1M60 174v1M60 203v1M60 211v1M60 322v1M60 336v1M60 360v1M60 386v1M61 17v1M61 24v1M61 70v1M61 89v1M61 92v1M61 95v1M61 104v1M61 123v1M61 138v1M61 142v1M61 150v1M61 157v1M61 173v1M61 194v1M61 208v1M61 224v1M61 291v1M61 323v1M61 332v1M61 335v1M61 376v1M61 379v1M61 394v1M62 27v1M62 43v1M62 52v1M62 54v1M62 58v1M62 63v1M62 65v1M62 73v1M62 75v1M62 92v1M62 104v1M62 112v1M62 124v1M62 127v1M62 132v1M62 136v1M62 154v1M62 172v1M62 174v1M62 192v1M62 199v1M62 203v1M62 209v1M62 258v1M62 261v1M62 284v2M62 291v1M62 306v1M62 316v1M62 320v1M62 344v1M62 350v1M62 376v1M62 394v1M63 323v2M63 327v2M63 341v1M63 382v3M64 17v1M64 23v1M64 49v2M64 57v1M64 59v1M64 108v1M64 113v1M64 128v1M64 162v1M64 171v1M64 179v1M64 211v1M64 214v2M64 235v1M64 242v1M64 264v2M64 274v1M64 305v1M64 327v1M64 335v1M64 339v1M64 366v1M64 369v2M64 372v1M65 13v1M65 19v1M65 29v1M65 127v2M65 158v1M65 162v1M65 171v1M65 181v1M65 216v1M65 254v1M65 278v1M65 289v1M65 362v1M65 366v1M66 19v1M66 266v1M66 324v1M66 391v1M67 15v1M67 75v1M67 96v1M67 104v1M67 108v1M67 160v1M67 162v1M67 164v1M67 256v1M67 259v1M67 334v1M67 360v1M67 373v1M67 377v1M67 384v1M67 391v1M67 395v1M69 322v1M69 339v1M70 22v1M71 21v1M71 89v1M71 345v1M71 375v1M72 20v3M72 51v1M72 95v1M72 106v1M72 108v1M72 118v1M72 126v1M72 129v1M72 154v1M72 162v1M72 243v1M72 326v1M73 19v1M73 47v1M73 49v1M73 54v1M73 61v1M73 96v1M73 157v1M73 193v1M73 241v1M73 295v1M73 297v2M73 300v2M73 303v1M73 305v1M73 309v1M73 311v1M73 314v1M73 319v2M73 325v1M73 327v1M73 329v2M73 334v2M73 338v1M73 388v1M73 390v2M73 394v1M74 18v1M74 20v1M74 22v1M74 57v1M74 69v1M74 74v1M74 79v1M74 106v1M74 141v3M74 161v2M74 182v1M74 218v1M74 280v1M74 298v1M74 314v1M74 327v1M74 335v1M74 371v1M74 375v2M74 390v1M75 18v1M75 68v1M75 95v2M75 98v2M75 101v1M75 104v1M75 108v3M75 114v1M75 118v1M75 134v1M76 22v1M76 182v2M76 289v1M77 18v1M77 140v1M78 22v1M78 35v1M78 47v1M78 59v1M78 72v1M78 75v1M78 95v1M78 115v1M78 122v1M78 126v1M78 139v1M78 153v1M78 163v1M78 170v1M78 173v1M78 193v1M78 198v1M78 268v1M78 306v2M78 316v1M78 329v1M78 338v1M78 398v1M79 18v2M79 78v1M79 84v1M79 99v1M79 104v1M79 172v1M79 360v1M79 363v1M79 367v1M79 379v1M79 382v1M79 394v1M79 397v1M79 403v1M80 15v1M80 44v1M80 77v1M80 95v1M80 157v1M80 209v1M81 25v1M81 30v1M81 57v1M81 111v1M81 125v1M81 162v1M81 207v1M81 210v1M81 216v1M81 295v1M81 300v1M81 323v1M81 334v1M81 351v1M81 364v1M82 17v1M82 20v1M82 60v1M82 66v1M82 85v1M82 103v1M82 116v1M82 123v1M82 130v2M82 134v2M82 149v1M82 153v2M82 166v1M82 171v1M82 227v1M82 245v1M82 247v1M82 252v1M82 274v1M82 280v1M82 282v1M82 289v1M82 291v1M82 305v1M82 307v1M82 351v1M82 359v2M82 362v3M82 369v1M82 385v1M82 393v1M82 403v2M83 298v1M83 312v1M83 348v1M84 17v1M84 45v1M84 50v1M84 144v1M84 198v1M84 206v2M84 215v1M84 249v1M84 265v2M84 269v3M84 274v1M84 283v1M84 395v1M85 18v1M85 20v2M85 52v2M85 58v1M85 81v1M85 105v1M85 118v2M85 125v1M85 127v2M85 131v1M85 135v1M85 146v1M85 168v1M85 182v1M85 205v1M85 223v1M85 226v1M85 237v1M85 259v1M85 264v1M85 304v1M85 365v1M85 370v1M85 377v1M85 385v1M86 77v1M86 127v1M86 183v1M86 291v1M86 323v1M86 327v1M86 351v1M86 383v1M87 15v1M87 133v1M87 145v1M87 200v1M87 315v1M87 360v1M87 392v1M88 15v1M89 173v1M89 211v1M89 233v1M89 256v2M89 264v2M89 274v2M89 277v1M89 403v1M90 43v2M90 48v1M90 51v1M90 67v1M90 69v1M90 84v1M90 95v1M90 99v1M90 104v1M90 113v1M90 166v1M90 188v1M90 192v1M90 207v1M90 227v1M90 231v3M90 259v1M90 307v1M90 369v2M90 396v1M90 399v1M90 401v1M90 405v1M91 82v1M91 383v1M92 16v2M92 37v1M92 49v1M92 55v1M92 83v1M92 92v2M92 108v1M92 113v1M92 127v1M92 131v1M92 149v1M92 151v2M92 154v1M92 159v1M92 163v1M92 180v1M92 211v1M92 216v1M92 226v1M92 234v1M92 254v1M92 267v1M92 279v1M92 300v1M92 313v1M92 325v1M92 341v2M92 350v1M92 354v1M92 361v1M92 382v1M92 387v1M92 391v1M93 15v1M93 156v1M93 182v1M93 192v1M93 219v1M93 260v1M93 278v1M94 16v1M94 53v1M94 55v1M94 205v1M94 226v1M94 259v1M94 311v1M94 315v1M94 321v1M94 325v1M94 329v1M94 338v1M94 345v1M94 347v1M94 355v2M94 359v1M94 365v2M94 368v1M94 376v1M94 384v1M94 393v1M94 398v1M94 400v1M94 404v1M95 19v1M95 34v2M95 67v1M95 107v1M95 124v1M95 162v1M95 181v1M95 214v1M95 270v1M95 281v1M95 284v1M95 290v1M95 345v1M95 360v1M95 395v1M96 14v1M96 18v1M96 116v1M96 141v1M96 344v1M96 352v1M97 112v1M97 226v1M97 378v1M98 16v1M98 19v1M98 147v3M99 16v1M99 22v1M99 29v1M99 42v1M99 44v1M99 62v1M99 69v1M99 79v1M99 109v1M99 173v1M99 177v1M99 203v1M99 207v1M99 246v1M99 259v1M99 261v1M99 264v1M99 266v1M99 268v2M99 290v1M99 293v1M99 305v1M99 322v1M99 330v1M99 340v1M99 382v1M99 390v1M99 392v1M100 45v1M100 48v1M100 93v1M100 109v1M100 115v1M100 132v1M100 205v2M100 219v1M100 251v1M100 256v1M100 262v1M100 273v1M100 282v1M100 308v1M100 319v2M100 333v2M100 336v1M100 358v1M100 371v1M101 20v2M101 79v1M101 88v1M101 115v1M101 131v1M101 139v1M101 159v1M101 168v1M101 201v2M101 266v1M101 272v1M101 292v1M101 296v1M101 310v1M101 339v1M101 368v1M101 404v1M102 22v1M102 80v3M102 84v1M102 89v5M102 98v3M102 102v1M102 127v1M102 138v1M102 155v1M102 169v1M102 180v1M102 185v4M102 192v1M102 197v2M102 203v2M102 209v1M102 217v4M102 235v1M102 241v1M102 338v1M102 365v1M102 385v1M102 393v1M102 405v1M103 20v1M103 42v1M103 51v1M103 67v1M103 188v1M103 224v1M103 230v1M103 242v2M103 273v1M103 303v1M103 312v1M103 337v1M103 396v1M104 17v1M104 19v2M104 22v1M104 24v1M104 41v3M104 57v1M104 122v1M104 153v1M104 161v1M104 166v1M104 199v1M104 201v1M104 219v1M104 227v1M104 234v1M104 242v1M104 244v1M104 250v2M104 275v1M104 279v1M104 313v1M104 318v1M104 330v1M104 353v1M104 356v1M104 387v2M105 0v1M105 21v1M105 114v1M105 223v1M105 266v1M105 279v1M105 355v1M106 29v1M106 47v3M106 51v1M106 61v1M106 68v1M106 85v1M106 89v1M106 136v1M106 162v1M106 167v1M106 202v1M106 208v1M106 220v1M106 232v1M106 259v1M106 261v2M106 265v1M106 274v2M106 309v1M106 328v1M106 338v1M106 351v1M106 365v1M106 376v1M106 391v1M106 393v1M108 45v1M108 90v1M108 122v1M108 136v1M108 147v1M108 151v1M108 176v1M108 200v1M108 217v1M108 257v1M108 348v1M108 365v1M108 381v1M110 15v1M110 43v1M110 93v1M110 101v1M110 128v1M110 172v1M110 206v1M110 242v1M110 250v1M110 380v1M112 15v1M112 45v1M112 119v1M112 131v1M112 194v1M112 215v1M112 259v1M112 265v1M112 291v1M112 313v1M112 324v1M112 352v1M112 378v1M112 386v1M114 16v1M114 37v1M114 42v1M114 69v1M114 119v1M114 126v1M114 129v1M114 138v1M114 185v1M114 247v1M114 302v1M114 307v1M114 310v1M114 318v1M114 329v1M114 372v1M114 385v1M114 402v1M116 91v1M116 103v1M116 125v1M116 247v1M116 301v1M116 346v1M118 14v1M118 32v1M118 35v1M118 84v1M118 111v1M118 164v1M118 330v1M118 380v1M120 15v1M120 30v1M120 88v1M120 91v1M120 117v1M120 129v1M120 135v1M120 140v1M120 164v1M120 205v1M120 240v1M120 246v1M120 258v1M120 300v1M120 355v1M120 378v1M120 395v1M125 61v1M125 92v1M125 95v1M125 109v1M125 117v1M125 125v1M125 129v1M125 149v1M125 152v1M125 167v1M125 178v1M125 205v1M125 375v1M130 16v1M130 117v1M130 157v1M130 261v1M130 299v1M135 15v1M135 48v1M135 71v1M135 81v1M135 131v1M135 159v1M135 163v1M135 166v1M135 208v1M135 250v1M135 279v1M135 309v1M135 368v1M140 58v1M140 147v1M140 151v1M140 183v1M140 203v1M140 262v1M140 265v1M140 288v1M140 300v1M140 317v1M140 330v1M140 339v2M140 352v1M140 392v1M140 398v1M145 19v1M145 128v1M145 135v1M145 154v1M145 164v1M145 204v1M145 218v1M145 252v1M145 284v1M145 313v1M145 320v1M150 40v1M150 72v1M150 93v1M150 95v1M150 110v1M150 128v1M150 135v1M150 172v1M150 244v1M150 292v1M150 297v2M150 374v1M150 382v1M150 384v1M150 387v1M150 398v1"/>
<path stroke="#443983" d="M0 0v1M0 17v1M0 118v1M0 309v1M1 1v1M1 372v1M1 393v1M2 142v1M2 336v1M2 400v1M3 9v1M3 79v1M3 178v1M3 240v1M4 61v1M4 63v1M4 82v1M4 222v1M4 321v1M4 369v1M5 10v1M5 25v1M5 41v1M5 175v1M5 182v1M5 197v1M5 314v2M5 361v1M5 379v1M5 399v1M6 21v1M7 197v1M7 205v1M7 211v1M7 299v1M8 13v1M8 15v1M8 80v1M9 13v1M9 21v1M9 25v1M9 77v2M9 90v1M9 110v1M9 143v1M9 172v1M9 192v1M9 209v2M9 212v1M9 233v1M9 286v1M9 335v1M9 349v1M9 393v1M9 400v1M10 14v1M10 335v1M11 69v1M11 116v1M11 269v1M12 60v1M12 64v1M12 74v1M14 13v1M14 34v1M14 99v1M14 149v1M14 157v1M14 174v1M14 211v1M14 222v1M14 324v1M14 326v1M14 372v1M14 386v1M14 404v1M15 25v1M15 48v1M15 71v1M15 156v1M15 208v1M15 222v1M15 224v1M15 296v1M15 302v1M15 314v1M15 322v4M15 348v1M15 362v1M15 370v1M15 385v1M16 48v1M16 64v1M16 119v1M16 122v1M16 216v1M16 222v1M16 226v1M16 266v1M16 287v1M16 353v2M16 398v1M16 404v1M17 19v1M17 30v1M17 38v1M17 44v1M17 55v2M17 93v1M17 103v1M17 115v1M17 131v1M17 150v1M17 160v1M17 196v1M17 222v1M17 235v1M17 237v1M17 245v1M17 257v1M17 269v2M17 297v1M17 311v1M17 327v1M17 331v1M17 338v1M17 361v1M17 366v1M17 380v2M17 384v1M17 393v1M18 89v1M18 138v1M18 141v1M18 365v1M18 376v3M19 14v1M21 22v5M21 297v1M22 13v1M22 157v1M22 177v1M22 237v2M22 280v1M22 283v1M22 319v1M23 123v1M23 151v1M23 254v1M23 332v1M23 358v1M23 372v1M24 13v1M24 15v1M25 42v1M25 44v1M25 69v1M25 86v2M25 93v1M25 254v1M25 328v1M28 49v1M28 59v1M28 115v1M28 117v1M28 172v1M28 174v1M28 203v1M28 256v1M28 267v1M29 392v1M30 137v1M30 211v1M30 228v1M30 243v1M30 309v1M30 353v1M30 373v1M30 404v1M31 77v1M31 85v1M31 92v1M31 196v1M31 284v1M31 371v2M31 374v1M31 394v1M32 10v1M32 14v1M32 91v1M32 170v1M32 355v1M33 13v1M33 73v1M33 108v1M33 152v1M33 166v1M33 183v1M33 233v1M33 326v1M33 350v1M33 386v1M35 202v1M35 226v1M35 315v1M35 335v1M35 354v1M36 336v3M36 372v1M36 381v2M36 386v2M37 26v1M37 52v1M37 268v1M37 312v2M37 326v1M37 343v1M37 378v1M38 12v2M38 45v1M38 128v1M38 131v2M38 154v1M38 159v1M38 184v1M38 256v1M38 281v1M38 311v2M38 370v2M38 400v1M39 87v1M39 163v1M39 211v1M39 245v2M39 251v1M39 259v1M39 310v1M39 320v1M39 339v1M39 353v2M39 398v1M40 100v1M40 110v1M40 126v1M40 198v1M40 226v1M40 254v1M40 268v1M40 279v1M40 291v1M40 308v1M40 324v1M40 331v1M40 339v1M40 358v1M40 378v1M40 383v1M40 392v1M41 13v1M41 23v1M41 32v1M41 35v1M41 50v1M41 56v1M41 72v3M41 92v1M41 102v1M41 113v1M41 120v1M41 122v1M41 124v1M41 138v1M41 152v1M41 161v1M41 163v1M41 165v1M41 174v1M41 176v1M41 188v1M41 192v1M41 201v1M41 213v1M41 232v1M41 235v1M41 239v1M41 241v2M41 246v1M41 252v1M41 257v1M41 265v1M41 271v1M41 290v1M41 293v1M41 295v2M41 306v1M41 311v2M41 322v1M41 324v1M41 327v1M41 343v1M41 347v1M41 349v1M41 351v1M41 353v1M41 365v1M41 367v1M41 372v1M41 387v1M41 390v1M41 393v1M44 17v1M44 21v1M44 48v1M44 54v3M44 58v1M44 61v1M44 68v1M44 79v1M44 98v1M44 109v1M44 125v1M44 143v1M44 145v2M44 151v1M44 153v1M44 156v1M44 158v1M44 161v3M44 170v1M44 176v1M44 183v1M44 191v1M44 199v1M44 209v1M44 211v1M44 246v1M44 251v1M44 282v1M44 289v1M44 292v1M44 294v1M44 298v1M44 308v3M44 313v1M44 315v2M44 318v1M44 326v1M44 331v1M44 338v1M44 340v4M44 351v1M44 356v1M44 360v2M44 366v1M44 369v1M44 392v1M44 395v1M44 402v2M45 62v1M45 67v1M45 184v1M45 200v1M46 13v1M48 32v1M48 174v1M48 244v1M48 369v1M48 373v1M49 14v1M50 25v1M50 93v1M51 14v1M51 349v1M52 13v1M52 78v1M53 13v1M53 17v1M53 22v1M53 26v1M53 39v1M53 42v1M53 49v1M53 59v1M53 61v1M53 64v1M53 66v1M53 78v1M53 93v1M53 95v1M53 108v2M53 116v1M53 124v1M53 134v1M53 143v2M53 159v1M53 171v2M53 174v1M53 176v1M53 190v1M53 198v1M53 200v2M53 203v1M53 233v1M53 254v1M53 256v1M53 278v1M53 284v1M53 303v2M53 308v1M53 324v1M53 326v1M53 335v1M53 342v1M53 344v1M53 350v2M53 366v1M53 382v1M53 384v1M53 399v1M54 188v1M55 15v1M55 57v1M55 78v1M55 132v1M55 148v1M55 162v1M55 206v1M55 263v1M55 265v1M55 325v1M55 340v1M55 367v1M55 400v1M55 403v1M56 31v1M56 78v1M56 124v1M56 136v1M56 165v1M56 178v1M56 184v1M56 218v1M56 254v1M56 267v1M56 282v1M56 297v1M56 321v1M56 325v1M56 388v1M57 241v1M57 245v1M58 97v2M58 100v1M58 106v1M58 108v1M58 115v1M58 351v1M60 0v1M60 131v1M61 201v1M61 286v1M61 373v1M62 50v1M62 72v1M62 83v1M62 117v1M62 275v1M62 317v1M62 361v1M62 369v1M63 13v1M63 330v1M63 380v1M64 92v1M64 348v2M64 384v1M65 41v1M65 81v1M65 324v1M65 369v1M66 10v1M66 150v1M67 316v1M69 185v1M70 20v1M71 17v1M72 18v2M72 85v1M72 92v1M72 96v1M72 120v1M72 150v1M73 41v1M73 43v1M73 48v1M73 56v1M73 64v1M73 185v1M73 202v1M73 306v1M73 308v1M73 313v1M73 322v1M73 324v1M73 340v1M73 383v1M74 115v1M74 164v1M74 205v1M74 386v1M75 16v2M75 89v1M75 94v1M75 124v1M76 15v3M77 194v1M78 49v1M78 104v1M78 200v1M78 243v1M78 259v1M79 68v1M79 73v1M80 88v1M81 101v1M81 152v1M81 245v1M82 16v1M82 62v1M82 76v1M82 86v1M82 184v1M82 248v1M82 264v1M82 313v1M82 361v1M83 10v1M84 263v2M84 267v2M84 275v1M85 100v1M85 112v1M85 116v1M85 120v1M85 133v2M85 138v1M85 142v1M85 257v1M85 302v1M85 344v1M86 14v2M87 14v1M87 17v2M87 299v1M87 327v1M87 341v1M88 267v1M88 269v1M88 272v1M88 276v1M89 15v1M90 14v1M90 30v1M90 68v1M90 77v2M90 87v2M90 97v1M90 100v1M90 123v2M90 133v1M90 146v1M90 153v1M90 160v1M90 162v1M90 180v1M90 195v1M90 197v1M90 341v1M90 386v1M90 400v1M90 402v3M91 252v1M92 18v1M92 30v1M92 34v1M92 40v1M92 54v1M92 144v1M92 147v2M92 150v1M92 156v1M92 160v1M92 162v1M92 221v1M92 235v1M92 241v1M92 278v1M92 290v1M92 340v1M92 363v1M92 371v1M94 323v1M94 339v1M94 343v1M94 372v1M95 77v1M95 387v1M97 14v1M98 134v1M98 136v1M98 146v1M99 110v1M99 130v1M99 144v1M99 228v1M99 254v1M99 256v1M99 263v1M99 374v1M100 196v1M100 328v2M100 331v2M100 370v1M101 113v1M101 194v1M101 197v1M101 204v1M101 227v1M101 255v1M101 370v1M102 17v2M102 74v1M102 77v2M102 86v2M102 101v1M102 143v1M102 190v1M102 207v1M102 307v1M102 351v1M103 16v1M103 18v1M103 189v1M103 208v1M103 231v1M103 237v1M103 239v1M103 241v1M103 352v1M103 402v1M104 15v1M104 26v1M104 91v1M104 103v1M104 139v1M104 160v1M104 176v1M104 185v1M104 229v1M104 309v1M104 312v1M104 316v1M104 354v1M104 362v1M104 390v1M105 59v1M105 74v1M105 118v1M105 162v1M106 16v1M106 35v1M106 73v1M106 137v1M106 169v1M106 206v1M106 273v1M106 276v2M106 386v1M108 14v2M108 33v1M108 233v1M110 279v1M110 294v2M110 332v1M110 373v1M112 144v1M112 277v1M112 348v1M112 382v1M114 206v1M114 254v1M114 263v1M116 14v1M116 379v1M118 13v1M120 55v1M125 90v1M125 106v1M125 114v1M125 120v1M125 242v1M125 261v1M125 385v1M130 15v1M130 122v1M130 402v1M135 75v1M135 124v1M135 174v1M135 281v1M140 188v1M140 347v1M140 350v1M140 386v1M145 42v1M145 83v1M145 156v1M145 287v1M145 323v1M145 343v1M150 14v1M150 125v1M150 279v1"/>
<path stroke="#414487" d="M0 14v1M0 16v1M0 34v1M2 0v1M2 9v1M2 337v1M2 351v1M3 48v1M3 234v1M4 0v1M4 100v1M4 191v1M5 95v1M5 305v1M8 383v2M9 80v1M9 121v1M9 280v1M9 288v1M9 394v1M10 340v1M11 340v1M12 10v1M13 144v1M13 154v1M13 156v1M14 42v1M14 248v1M14 252v1M14 325v1M14 371v1M14 373v1M14 376v1M14 384v1M14 389v1M15 12v1M15 340v2M15 343v1M15 346v1M15 383v1M15 398v1M16 59v1M16 258v1M16 325v1M16 343v1M16 347v1M17 12v1M17 14v1M17 22v1M17 105v1M17 170v1M17 203v1M17 238v1M17 277v1M17 322v1M17 368v1M17 396v1M18 240v1M18 370v1M19 196v1M20 0v1M20 10v1M20 350v1M21 0v1M23 322v1M24 356v1M25 38v2M25 41v1M25 70v1M25 72v1M25 74v2M28 0v1M28 202v1M28 402v2M29 393v5M30 12v1M30 209v1M30 371v1M30 374v1M30 377v1M30 380v1M30 382v1M30 391v1M30 399v1M31 18v1M31 197v1M31 377v1M31 399v1M32 222v2M32 340v1M32 359v1M32 361v1M33 10v1M33 387v1M34 10v1M34 78v1M35 0v1M35 13v1M35 336v1M35 349v1M35 353v1M36 14v1M36 373v3M36 383v1M37 10v1M37 72v1M37 138v1M37 345v1M38 194v1M38 314v1M38 319v1M38 374v1M38 397v3M39 13v1M39 338v1M39 340v1M39 349v1M39 352v1M40 164v1M40 334v1M40 349v2M40 368v1M40 379v1M40 393v1M40 403v1M41 15v1M41 24v1M41 31v1M41 47v1M41 52v1M41 60v1M41 69v1M41 71v1M41 78v2M41 101v1M41 103v1M41 118v1M41 168v2M41 179v1M41 186v1M41 203v1M41 219v1M41 225v1M41 285v1M41 307v3M41 318v1M41 350v1M41 363v1M41 366v1M41 404v2M42 14v1M43 13v2M44 28v1M44 34v1M44 38v1M44 53v1M44 86v1M44 90v1M44 105v1M44 116v1M44 129v1M44 147v1M44 155v1M44 165v1M44 201v1M44 210v1M44 221v1M44 228v1M44 231v1M44 256v1M44 258v1M44 262v1M44 295v2M44 303v1M44 306v2M44 314v1M44 327v1M44 329v1M44 339v1M44 347v2M44 365v1M44 393v1M45 60v2M48 14v1M53 21v1M53 31v1M53 63v1M53 67v1M53 69v1M53 157v1M53 164v1M53 168v2M53 177v1M53 193v1M53 218v1M53 236v1M53 276v1M53 305v1M53 317v1M53 323v1M53 352v2M53 379v1M53 400v1M53 403v1M54 328v1M55 87v1M55 121v1M55 175v1M55 253v1M56 46v1M56 145v1M57 10v1M57 237v1M57 246v1M57 279v1M58 13v1M58 80v2M58 85v2M58 90v1M58 94v2M58 107v1M58 109v1M58 111v1M58 113v1M58 118v1M58 357v1M59 14v1M62 12v1M62 267v1M62 282v1M71 18v1M72 93v1M73 18v1M73 40v1M73 59v1M73 66v1M73 68v1M73 296v1M74 15v1M74 305v1M75 14v1M76 10v1M77 17v1M78 191v1M78 300v1M79 17v1M79 326v1M80 321v2M80 325v1M80 327v1M80 333v1M80 342v1M80 347v1M80 351v3M80 355v1M82 54v1M82 59v1M82 74v1M82 78v1M82 80v1M82 83v2M82 279v1M83 16v2M85 16v2M85 19v1M85 123v1M85 129v1M85 137v1M85 140v1M85 218v1M88 249v1M88 263v4M88 268v1M88 271v1M88 273v2M89 48v1M90 13v1M90 15v1M90 66v1M90 79v1M90 86v1M90 89v2M90 96v1M90 98v1M90 103v1M90 105v2M90 109v1M90 115v1M90 131v2M90 134v1M90 141v1M90 150v1M90 156v4M90 165v1M90 167v1M90 170v1M90 173v1M90 177v1M90 179v1M90 181v1M90 185v1M90 187v1M90 193v1M91 13v2M92 0v1M92 27v1M92 33v1M92 38v2M92 41v1M92 43v1M92 45v1M92 47v2M92 60v1M92 63v1M92 67v1M92 74v1M92 76v1M92 78v1M92 81v1M92 84v1M92 119v1M92 139v1M92 177v2M92 333v1M92 400v1M93 11v1M94 14v1M94 337v1M94 380v1M95 15v1M97 15v1M98 17v1M99 15v1M99 368v1M100 16v2M100 104v1M100 190v1M100 212v1M102 20v1M102 354v1M103 240v1M103 244v1M104 10v1M104 311v1M104 315v1M105 16v1M106 11v1M106 152v1M110 325v1M112 219v1M114 15v1M114 237v1M116 15v1M118 1v1M120 343v1M125 15v2M135 14v1M140 14v1M145 14v2M145 330v1M150 15v1"/>
<path stroke="#3d4d8a" d="M2 334v1M2 352v1M3 283v1M3 285v1M5 363v1M8 340v1M8 344v1M9 97v1M9 236v1M9 375v1M10 372v1M10 402v2M11 13v1M11 339v1M13 14v1M13 155v1M14 12v1M14 227v1M14 233v1M14 235v1M15 15v1M15 261v1M15 335v1M15 344v2M15 347v1M17 215v1M17 261v1M18 0v1M18 13v1M19 13v1M19 354v1M21 20v1M21 194v1M23 312v1M28 313v1M28 390v1M29 195v1M30 196v1M30 372v1M30 381v1M30 388v2M30 392v1M31 340v1M31 349v1M31 376v1M32 338v1M32 357v1M32 360v1M32 362v2M35 208v1M35 350v1M35 355v1M35 399v1M36 368v1M37 325v1M37 346v1M38 313v1M38 318v1M38 373v1M38 375v1M38 386v1M38 390v2M39 337v1M40 10v1M40 13v1M40 28v1M40 354v1M41 77v1M41 109v1M41 125v1M41 132v1M41 189v1M41 244v1M41 274v1M41 323v1M41 325v1M41 328v1M41 334v1M41 369v1M41 394v1M42 324v1M42 330v1M44 18v1M44 154v1M44 216v1M44 229v1M44 250v1M44 271v1M44 333v1M44 345v1M44 349v1M44 404v1M45 64v1M53 24v1M53 56v1M53 120v1M53 154v1M53 182v1M53 255v1M53 268v1M53 373v1M56 10v1M56 400v1M57 278v1M57 280v2M58 11v1M58 83v1M58 89v1M58 91v1M58 96v1M58 105v1M58 112v1M58 114v1M62 10v1M66 11v1M67 13v1M72 0v1M73 0v1M73 45v2M73 51v1M73 57v1M73 60v1M78 10v1M78 16v2M79 16v1M80 294v1M80 296v1M80 298v1M80 300v1M80 303v1M80 313v1M80 315v3M80 319v1M80 328v1M80 330v1M80 332v1M80 334v1M80 339v1M80 344v1M80 349v1M80 354v1M80 356v1M81 16v1M82 53v1M82 55v1M82 57v2M82 69v1M82 77v1M82 81v2M82 325v1M84 15v1M88 10v1M88 80v1M88 244v2M88 247v2M88 250v4M88 257v1M88 259v1M88 261v2M88 270v1M88 275v1M89 13v1M90 71v1M90 75v1M90 82v1M90 85v1M90 92v2M90 102v1M90 111v1M90 119v1M90 126v1M90 128v1M90 135v2M90 144v2M90 151v1M90 161v1M90 163v2M90 169v1M90 172v1M90 174v1M90 176v1M90 186v1M90 189v1M90 194v1M91 120v3M91 124v1M92 13v1M92 31v2M92 50v2M92 58v2M92 65v2M92 72v1M92 79v2M93 14v1M98 12v1M101 17v1M102 16v1M103 10v1M106 0v1M112 14v1M114 13v1M118 0v1M120 13v1M125 14v1M135 13v1M140 13v1"/>
<path stroke="#39568c" d="M1 0v1M1 394v1M1 397v1M1 400v1M2 344v2M3 279v1M3 281v1M3 286v2M5 360v1M8 343v1M8 386v1M8 398v1M9 10v1M9 179v1M10 11v2M10 371v1M10 386v1M10 404v1M11 174v1M11 335v2M12 11v1M12 336v1M13 11v2M13 147v1M13 333v2M14 10v1M14 225v1M14 230v2M14 236v1M14 365v1M17 10v2M17 174v1M19 174v1M19 179v2M19 347v1M20 11v1M20 193v1M20 197v1M21 195v1M23 11v3M25 189v1M26 335v1M27 10v1M28 12v1M28 325v1M28 334v1M29 13v1M29 196v3M30 390v1M30 398v1M31 364v1M31 366v1M31 370v1M31 375v1M32 0v1M32 11v2M32 209v1M32 212v2M32 307v1M34 198v1M36 13v1M37 328v2M37 336v1M37 339v1M38 315v1M39 10v1M39 321v1M41 57v1M41 150v1M42 313v1M44 13v1M44 305v1M46 11v1M47 13v1M53 208v1M53 248v1M54 10v1M54 13v1M57 13v1M57 277v1M58 10v1M58 84v1M58 87v1M58 92v1M58 99v1M58 101v1M58 103v1M58 110v1M59 13v1M60 12v1M61 13v1M65 14v1M70 17v1M71 0v1M71 15v1M72 16v2M73 10v1M73 17v1M73 44v1M73 50v1M73 53v1M73 62v1M74 16v1M75 10v1M75 13v1M75 15v1M76 0v1M76 14v1M77 14v3M78 14v2M80 297v1M80 299v1M80 302v1M80 311v2M80 314v1M80 318v1M80 320v1M80 324v1M80 326v1M80 329v1M80 331v1M80 335v1M80 337v2M80 341v1M80 343v1M80 345v2M80 350v1M80 388v1M81 15v1M82 63v1M82 68v1M82 73v1M82 75v1M82 79v1M82 87v2M83 14v2M84 14v1M84 16v1M85 15v1M88 0v1M88 14v1M88 78v2M88 81v1M88 240v1M88 242v2M88 254v3M88 258v1M90 74v1M90 81v1M90 83v1M90 116v2M90 122v1M90 139v2M90 152v1M90 155v1M90 175v1M90 183v1M90 191v1M91 12v1M91 123v1M92 52v1M92 56v1M92 64v1M92 68v1M92 70v1M92 73v1M92 75v1M92 77v1M95 10v1M95 13v1M97 10v1M98 10v1M98 15v1M100 11v1M101 16v1M103 15v1M103 17v1M104 11v1M104 13v1M105 15v1M108 13v1M112 13v1M114 14v1M120 14v1"/>
<path stroke="#355f8d" d="M0 35v2M0 38v2M1 398v1M3 289v1M7 181v1M8 387v2M8 397v1M8 399v1M9 384v2M9 388v5M10 373v1M10 387v3M10 397v1M11 334v1M11 342v1M12 70v2M13 145v1M13 335v1M14 226v1M14 228v2M14 232v1M14 359v1M15 172v2M17 173v1M20 179v1M22 180v1M23 182v1M24 14v1M24 186v1M25 10v1M25 12v1M25 190v1M27 13v1M27 309v1M28 386v1M29 199v2M30 10v1M30 195v1M30 197v1M30 384v2M31 10v1M31 369v1M32 194v2M33 12v1M35 12v1M35 233v2M35 342v1M36 376v1M37 12v1M37 208v1M37 324v1M37 335v1M37 337v1M37 340v1M39 322v3M39 345v3M39 362v1M43 10v1M46 12v1M47 11v1M51 10v1M52 10v1M53 14v1M57 274v1M57 285v1M58 12v1M60 11v1M64 10v1M65 10v1M66 12v1M67 14v1M68 13v1M72 14v1M73 16v1M73 42v1M73 52v1M73 67v1M74 14v1M77 10v1M77 13v1M78 13v1M80 14v1M80 293v1M80 295v1M80 301v1M80 323v1M80 336v1M80 340v1M80 348v1M80 357v1M80 363v1M80 372v1M80 378v1M80 381v1M80 383v1M80 385v1M81 14v1M82 0v1M82 15v1M82 52v1M82 56v1M82 67v1M82 71v1M85 13v1M88 83v2M88 87v1M88 228v1M88 233v1M88 241v1M88 246v1M88 260v1M90 12v1M90 112v1M90 120v1M90 125v1M90 130v1M90 149v1M90 190v1M92 69v1M92 71v1M97 0v1M99 14v1M100 10v1M100 15v1M104 14v1M105 14v1M106 12v1M108 12v1M110 14v1M116 13v1M118 12v1M140 11v1M150 13v1"/>
<path stroke="#31688e" d="M0 33v1M0 40v1M2 1v1M3 280v1M3 282v1M4 1v1M5 0v1M6 13v1M7 10v1M8 0v1M8 347v1M8 385v1M8 396v1M8 400v2M9 169v1M11 341v1M12 12v1M12 335v1M13 152v1M14 0v1M14 237v2M14 336v1M14 338v2M15 10v1M15 13v1M21 179v2M22 10v1M22 12v1M22 190v1M23 183v1M25 11v1M26 190v1M28 10v1M28 196v1M30 376v1M30 401v1M31 12v1M32 196v1M35 236v1M35 338v2M35 343v1M35 346v3M35 352v1M35 395v1M36 10v1M36 12v1M37 206v2M37 321v3M37 327v1M38 11v1M47 10v1M47 12v1M48 10v1M49 10v1M49 12v1M51 0v1M52 11v1M54 12v1M55 13v1M57 243v2M57 282v1M63 10v1M74 10v1M76 13v1M79 15v1M80 361v1M80 364v8M80 373v5M80 379v2M80 382v1M80 384v1M80 386v2M80 389v7M80 399v2M80 404v1M82 89v1M86 10v1M86 13v1M88 13v1M88 82v1M88 85v1M88 224v2M88 232v1M88 235v1M88 237v1M90 137v1M93 10v1M95 11v1M96 13v1M99 10v1M100 13v2M103 13v2M104 12v1M110 13v1M114 12v1M130 14v1M135 12v1M145 13v1M150 12v1"/>
<path stroke="#2d708e" d="M0 1v1M2 71v2M2 340v1M3 1v1M3 284v1M3 288v1M6 0v1M6 14v1M7 12v1M8 341v2M9 12v1M10 401v1M12 62v1M12 68v1M12 72v1M13 142v1M13 149v1M13 151v1M13 153v1M14 11v1M14 234v1M14 337v1M15 11v1M16 10v1M16 12v2M18 12v1M20 12v1M23 189v2M26 191v1M28 11v1M28 190v1M28 195v1M28 197v2M30 11v1M30 202v1M30 379v1M30 402v1M33 219v2M33 223v2M35 240v1M35 249v1M35 256v1M35 337v1M37 316v2M37 319v1M37 338v1M37 341v1M39 11v1M45 10v1M46 10v1M48 13v1M50 10v1M52 12v1M53 10v1M56 12v1M56 216v1M57 286v1M63 12v1M67 10v1M69 10v1M70 14v1M71 16v1M73 14v2M79 14v1M80 10v1M80 358v3M80 362v1M80 396v1M80 398v1M80 401v3M82 10v2M84 11v1M84 13v1M86 11v1M87 10v2M88 86v1M88 92v1M88 94v1M88 213v1M88 220v1M88 226v2M88 229v3M88 234v1M88 236v1M88 238v2M90 143v1M91 11v1M92 10v1M94 13v1M96 10v1M97 11v1M97 13v1M98 13v1M101 15v1M118 11v1M140 12v1"/>
<path stroke="#2a788e" d="M0 37v1M3 0v1M6 1v1M6 12v1M7 13v1M8 11v1M8 169v1M9 177v1M10 171v1M10 383v1M11 338v1M12 61v1M12 63v1M12 69v1M13 0v1M13 148v1M13 339v1M14 172v1M18 1v1M18 174v1M19 199v1M20 194v2M21 1v1M21 16v2M24 10v1M24 190v1M26 10v1M28 374v3M29 0v1M29 12v1M29 190v2M30 201v1M30 205v3M31 199v1M31 210v2M33 196v2M34 11v1M35 239v1M35 241v1M35 257v1M37 11v1M37 13v1M37 318v1M37 330v1M37 334v1M37 342v1M39 325v1M39 327v1M42 10v1M52 0v1M53 0v1M55 10v1M59 10v1M62 11v1M68 10v1M69 12v2M70 16v1M76 12v1M79 13v1M80 12v1M80 397v1M81 0v1M82 14v1M83 11v1M83 13v1M85 10v1M87 13v1M88 89v3M88 93v1M88 95v1M88 97v3M88 101v1M88 131v1M88 207v1M88 209v1M88 214v2M88 217v1M88 219v1M88 221v3M93 12v1M96 12v1M102 15v1M105 10v1M110 12v1M112 12v1M116 11v2M130 13v1M145 12v1"/>
<path stroke="#27808e" d="M0 24v1M2 342v1M6 11v1M7 176v1M7 179v2M9 173v2M9 343v3M9 377v1M10 10v1M10 379v4M10 399v1M11 171v1M12 0v1M12 169v1M13 150v1M13 340v1M15 171v1M18 175v1M19 0v1M19 10v1M19 12v1M19 178v1M20 196v1M20 351v1M21 13v1M26 12v1M27 0v1M27 12v1M27 193v1M30 193v1M30 208v1M31 193v1M32 211v1M32 214v1M33 202v1M35 248v1M35 252v2M35 344v1M37 332v1M39 328v2M39 331v6M41 0v1M41 10v1M44 10v1M45 12v1M48 0v1M49 11v1M51 12v1M53 12v1M54 11v1M56 11v1M61 10v1M64 12v1M70 13v1M70 15v1M72 10v1M75 11v2M76 11v1M77 12v1M79 10v1M81 13v1M84 10v1M85 14v1M88 12v1M88 88v1M88 96v1M88 100v1M88 109v5M88 119v1M88 126v1M88 129v1M88 132v3M88 136v1M88 138v1M88 190v1M88 201v1M88 205v2M88 208v1M88 210v3M88 216v1M90 11v1M94 11v1M96 11v1M97 12v1M99 13v1M101 10v1M102 10v1M102 14v1M105 13v1M106 8v1M108 11v1"/>
<path stroke="#23888e" d="M0 25v1M5 1v1M7 11v1M7 175v1M8 10v1M9 11v1M9 339v1M9 376v1M9 378v2M10 169v2M10 377v2M11 10v1M16 172v2M18 10v1M19 175v2M21 14v2M21 18v1M22 11v1M27 192v1M31 192v1M32 1v1M35 11v1M35 200v1M37 333v1M39 330v1M39 341v2M40 0v1M40 12v1M44 12v1M56 0v1M57 11v1M60 1v1M61 12v1M68 11v1M71 10v1M72 15v1M74 11v1M80 11v1M82 13v1M86 12v1M87 12v1M88 102v2M88 105v3M88 114v1M88 116v3M88 120v4M88 125v1M88 127v2M88 130v1M88 137v1M88 173v1M88 188v1M88 191v4M88 196v1M88 199v1M88 203v1M88 218v1M89 10v1M94 10v1M95 12v1M99 11v1M100 0v1M103 11v1M120 11v2M125 13v1"/>
<path stroke="#21918c" d="M4 8v1M6 10v1M7 171v2M8 171v2M8 393v1M9 380v3M10 0v1M10 376v1M10 390v3M11 0v1M11 170v1M11 172v1M16 11v1M18 11v1M19 11v1M19 177v1M24 11v1M25 0v1M29 10v1M31 11v1M31 206v1M32 216v1M35 201v1M36 11v1M41 11v1M45 11v1M48 11v1M53 11v1M55 11v1M67 12v1M68 12v1M73 13v1M74 13v1M78 11v1M79 11v1M81 10v1M84 12v1M88 104v1M88 108v1M88 115v1M88 124v1M88 135v1M88 157v3M88 162v2M88 168v1M88 171v1M88 174v1M88 177v1M88 179v2M88 182v3M88 189v1M88 195v1M88 197v2M88 200v1M88 202v1M88 204v1M92 11v1M98 0v1M98 11v1M110 11v1M114 11v1M150 11v1"/>
<path stroke="#1f988b" d="M3 2v1M8 390v3M8 394v1M9 338v1M10 385v1M10 393v2M11 12v1M13 171v1M19 197v1M24 12v1M24 185v1M26 188v2M29 11v1M31 207v2M32 217v1M33 11v1M34 0v1M34 12v1M39 0v1M39 12v1M42 11v2M43 11v1M47 0v1M48 12v1M50 11v2M51 11v1M59 0v1M59 12v1M65 11v2M70 10v1M72 13v1M83 0v1M87 0v1M88 139v1M88 141v1M88 144v1M88 149v2M88 153v1M88 160v2M88 164v4M88 169v2M88 172v1M88 175v2M88 178v1M88 181v1M88 185v3M100 12v1M118 10v1M145 0v1M145 10v1"/>
<path stroke="#1fa188" d="M0 2v1M2 2v1M5 9v1M7 177v2M8 12v1M8 389v1M9 387v1M10 384v1M10 396v1M11 11v1M12 170v2M13 172v2M13 337v1M26 11v1M30 0v1M35 1v1M40 11v1M51 1v1M55 12v1M63 11v1M64 0v1M69 0v1M71 1v1M71 13v2M72 11v1M78 12v1M88 142v2M88 145v1M88 148v1M88 151v1M88 154v3M94 0v1M94 12v1M104 0v1M105 11v1M108 10v1M140 10v1M145 11v1"/>
<path stroke="#22a884" d="M10 395v1M24 0v1M24 184v1M30 191v2M31 0v1M44 11v1M54 0v1M64 11v1M66 0v1M67 11v1M72 1v1M74 0v1M77 11v1M80 13v1M82 12v1M88 11v1M88 140v1M88 146v2M88 152v1M89 12v1M99 12v1M101 13v1M106 10v1M114 10v1M116 10v1M150 10v1"/>
<path stroke="#2ab07f" d="M0 8v1M1 8v1M2 8v1M3 8v1M9 0v1M9 170v1M13 1v1M20 1v1M20 178v1M23 1v1M27 11v1M27 189v1M30 203v2M43 12v1M57 12v1M63 0v1M69 11v1M73 11v1M79 12v1M85 11v1M91 0v1M101 14v1M102 13v1M105 12v1M112 10v2M120 10v1M125 12v1M130 11v1"/>
<path stroke="#35b779" d="M9 171v1M15 0v1M20 177v1M26 0v1M27 188v1M28 1v1M28 193v2M33 0v1M37 0v1M41 12v1M61 11v1M68 0v1M70 12v1M72 12v1M73 1v1M75 0v1M83 12v1M85 12v1M89 11v1M92 12v1M103 12v1M105 1v1M106 1v1M106 9v1M116 0v1M118 2v1M118 9v1M130 12v1M135 11v1"/>
<path stroke="#44bf70" d="M4 2v1M44 0v1M45 0v1M61 0v1M70 0v1M74 12v1M78 0v1M79 0v1M80 0v1M81 12v1M86 0v1M92 1v1M93 0v1M108 0v1M112 0v1"/>
<path stroke="#54c568" d="M1 2v1M7 0v1M16 0v1M21 10v3M42 0v1M73 12v1M76 1v1M82 1v1M95 0v1M97 1v1M99 0v1M101 0v1M110 10v1M135 10v1M140 9v1"/>
<path stroke="#67cc5c" d="M8 1v1M38 1v1M43 0v1M49 0v1M59 11v1M71 11v1M88 1v1M89 0v1M90 0v1M101 12v1M102 1v1M102 11v1M114 0v1M125 11v1"/>
<path stroke="#7ad151" d="M14 1v1M36 0v1M50 0v1M57 0v1M58 0v1M70 11v1M81 11v1M85 0v1"/>
<path stroke="#90d743" d="M13 169v2M14 170v1M24 188v1M55 0v1M77 0v1M101 11v1M102 12v1"/>
<path stroke="#a5db36" d="M11 168v2M14 171v1M22 0v1M24 189v1M46 0v1M65 0v1M67 0v1M71 12v1M110 0v1M120 0v1M135 0v1M140 1v1M150 0v1"/>
<path stroke="#bddf26" d="M17 0v1M62 0v1M84 0v1M96 0v1M103 1v1"/>
<path stroke="#fde725" d="M0 3v5M1 3v5M2 3v5M3 3v5M4 3v5M5 2v7M6 2v8M7 1v9M8 2v8M9 1v9M10 1v9M11 1v9M12 1v9M13 2v8M14 2v8M15 1v9M16 1v9M17 1v9M18 2v8M19 1v9M20 2v8M21 2v8M22 1v9M23 2v8M24 1v9M25 1v9M26 1v9M27 1v9M28 2v8M29 1v9M30 1v9M31 1v9M32 2v8M33 1v9M34 1v9M35 2v8M36 1v9M37 1v9M38 2v8M39 1v9M40 1v9M41 1v9M42 1v9M43 1v9M44 1v9M45 1v9M46 1v9M47 1v9M48 1v9M49 1v9M50 1v9M51 2v8M52 1v9M53 1v9M54 1v9M55 1v9M56 1v9M57 1v9M58 1v9M59 1v9M60 2v8M61 1v9M62 1v9M63 1v9M64 1v9M65 1v9M66 1v9M67 1v9M68 1v9M69 1v9M70 1v9M71 2v8M72 2v8M73 2v8M74 1v9M75 1v9M76 2v8M77 1v9M78 1v9M79 1v9M80 1v9M81 1v9M82 2v8M83 1v9M84 1v9M85 1v9M86 1v9M87 1v9M88 2v8M89 1v9M90 1v9M91 1v9M92 2v8M93 1v9M94 1v9M95 1v9M96 1v9M97 2v8M98 1v9M99 1v9M100 1v9M101 1v9M102 2v8M103 2v8M104 1v9M105 2v8M106 2v6M108 1v9M110 1v9M112 1v9M114 1v9M116 1v9M118 3v6M120 1v9M125 0v11M130 0v11M135 1v9M140 2v7M145 1v9M150 1v9"/>
</g>
<defs><linearGradient id="cb" x1="0" y1="0" x2="0" y2="1"><stop offset="0.0000" stop-color="#fde725"/><stop offset="0.0156" stop-color="#f6e620"/><stop offset="0.0312" stop-color="#ece51b"/><stop offset="0.0469" stop-color="#e2e418"/><stop offset="0.0625" stop-color="#d8e219"/><stop offset="0.0781" stop-color="#cde11d"/><stop offset="0.0938" stop-color="#c2df23"/><stop offset="0.1094" stop-color="#b8de29"/><stop offset="0.1250" stop-color="#addc30"/><stop offset="0.1406" stop-color="#a2da37"/><stop offset="0.1562" stop-color="#98d83e"/><stop offset="0.1719" stop-color="#8ed645"/><stop offset="0.1875" stop-color="#84d44b"/><stop offset="0.2031" stop-color="#7ad151"/><stop offset="0.2188" stop-color="#70cf57"/><stop offset="0.2344" stop-color="#67cc5c"/><stop offset="0.2500" stop-color="#5ec962"/><stop offset="0.2656" stop-color="#56c667"/><stop offset="0.2812" stop-color="#4ec36b"/><stop offset="0.2969" stop-color="#46c06f"/><stop offset="0.3125" stop-color="#3fbc73"/><stop offset="0.3281" stop-color="#38b977"/><stop offset="0.3438" stop-color="#32b67a"/><stop offset="0.3594" stop-color="#2db27d"/><stop offset="0.3750" stop-color="#28ae80"/><stop offset="0.3906" stop-color="#25ab82"/><stop offset="0.4062" stop-color="#22a785"/><stop offset="0.4219" stop-color="#20a386"/><stop offset="0.4375" stop-color="#1fa088"/><stop offset="0.4531" stop-color="#1e9c89"/><stop offset="0.4688" stop-color="#1f988b"/><stop offset="0.4844" stop-color="#1f948c"/><stop offset="0.5000" stop-color="#21918c"/><stop offset="0.5156" stop-color="#228d8d"/><stop offset="0.5312" stop-color="#23898e"/><stop offset="0.5469" stop-color="#25858e"/><stop offset="0.5625" stop-color="#26828e"/><stop offset="0.5781" stop-color="#277e8e"/><stop offset="0.5938" stop-color="#297a8e"/><stop offset="0.6094" stop-color="#2a768e"/><stop offset="0.6250" stop-color="#2c728e"/><stop offset="0.6406" stop-color="#2e6f8e"/><stop offset="0.6562" stop-color="#2f6b8e"/><stop offset="0.6719" stop-color="#31678e"/><stop offset="0.6875" stop-color="#33638d"/><stop offset="0.7031" stop-color="#355f8d"/><stop offset="0.7188" stop-color="#375b8d"/><stop offset="0.7344" stop-color="#39568c"/><stop offset="0.7500" stop-color="#3b528b"/><stop offset="0.7656" stop-color="#3d4e8a"/><stop offset="0.7812" stop-color="#3e4989"/><stop offset="0.7969" stop-color="#404588"/><stop offset="0.8125" stop-color="#424086"/><stop offset="0.8281" stop-color="#443b84"/><stop offset="0.8438" stop-color="#453781"/><stop offset="0.8594" stop-color="#46327e"/><stop offset="0.8750" stop-color="#472d7b"/><stop offset="0.8906" stop-color="#482878"/><stop offset="0.9062" stop-color="#482374"/><stop offset="0.9219" stop-color="#481d6f"/><stop offset="0.9375" stop-color="#48186a"/><stop offset="0.9531" stop-color="#471365"/><stop offset="0.9688" stop-color="#470d60"/><stop offset="0.9844" stop-color="#46075a"/><stop offset="1.0000" stop-color="#440154"/></linearGradient></defs>
<rect x="1016.5" y="85.5" width="36" height="737" fill="url(#cb)"/>
<g fill="none" stroke="#000" stroke-width="1.11">
<rect x="98.5" y="85.5" width="864" height="737"/>
<rect x="1016.5" y="85.5" width="36" height="737"/>
<path d="M179.50 822.5v4.86M287.50 822.5v4.86M395.50 822.5v4.86M503.50 822.5v4.86M611.50 822.5v4.86M719.50 822.5v4.86M827.50 822.5v4.86M935.50 822.5v4.86M98.5 810.50h-4.86M98.5 689.67h-4.86M98.5 568.83h-4.86M98.5 448.00h-4.86M98.5 327.17h-4.86M98.5 206.34h-4.86M98.5 85.50h-4.86M1052.5 822.50h4.86M1052.5 699.67h4.86M1052.5 576.83h4.86M1052.5 454.00h4.86M1052.5 331.17h4.86M1052.5 208.33h4.86M1052.5 85.50h4.86"/>
</g>
<text class="t" x="529.4" y="43.8">IRF Uppsala SDR Ionosonde UP158 2026-04-22 18:36:00&#160; UT</text>
<text class="t" x="528.9" y="76.2">noise_floor=-112.85 (dB) peak SNR=98.04</text>
<text class="k" text-anchor="middle" x="178.70" y="847.6">2</text>
<text class="k" text-anchor="middle" x="286.70" y="847.6">4</text>
<text class="k" text-anchor="middle" x="394.70" y="847.6">6</text>
<text class="k" text-anchor="middle" x="502.70" y="847.6">8</text>
<text class="k" text-anchor="middle" x="610.70" y="847.6">10</text>
<text class="k" text-anchor="middle" x="718.70" y="847.6">12</text>
<text class="k" text-anchor="middle" x="826.70" y="847.6">14</text>
<text class="k" text-anchor="middle" x="934.70" y="847.6">16</text>
<text class="k" text-anchor="end" x="88.8" y="818.10">0</text>
<text class="k" text-anchor="end" x="88.8" y="697.27">100</text>
<text class="k" text-anchor="end" x="88.8" y="576.43">200</text>
<text class="k" text-anchor="end" x="88.8" y="455.60">300</text>
<text class="k" text-anchor="end" x="88.8" y="334.77">400</text>
<text class="k" text-anchor="end" x="88.8" y="213.94">500</text>
<text class="k" text-anchor="end" x="88.8" y="93.10">600</text>
<text class="k" x="1061.8" y="830.10">0</text>
<text class="k" x="1061.8" y="707.27">5</text>
<text class="k" x="1061.8" y="584.43">10</text>
<text class="k" x="1061.8" y="461.60">15</text>
<text class="k" x="1061.8" y="338.77">20</text>
<text class="k" x="1061.8" y="215.93">25</text>
<text class="k" x="1061.8" y="93.10">30</text>
<text class="k" text-anchor="middle" x="529" y="873.7" textLength="177.9" lengthAdjust="spacing">Frequency (MHz)</text>
<text class="k" text-anchor="middle" transform="translate(38,454) rotate(-90)">Virtual range (km)</text>
<text class="k" text-anchor="middle" transform="translate(1109,454) rotate(-90)">SNR (dB)</text>
</svg></body></html>
